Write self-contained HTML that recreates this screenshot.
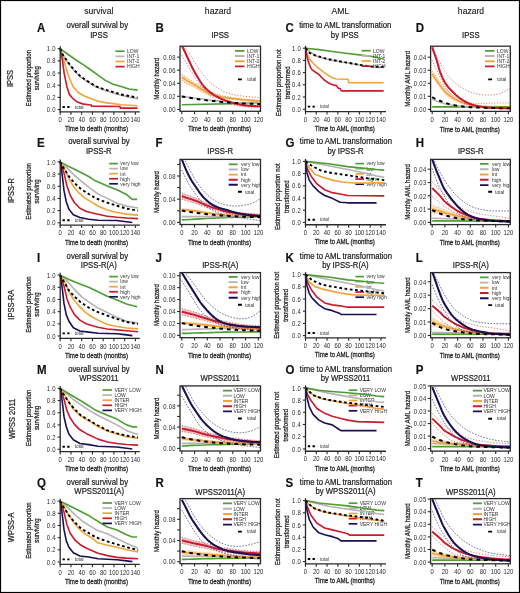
<!DOCTYPE html>
<html><head><meta charset="utf-8"><style>
html,body{margin:0;padding:0;background:#fff;}
svg{display:block;}
text{font-family:"Liberation Sans",sans-serif;}
svg{filter:blur(0.4px);}
text{stroke:currentColor;stroke-width:0.14px;}
</style></head><body>
<svg width="520" height="593" viewBox="0 0 520 593" font-family="Liberation Sans, sans-serif">
<rect x="0" y="0" width="520" height="593" fill="#fff"/>
<text x="98.80" y="14.40" font-size="8.6" text-anchor="middle" fill="#222" style="color:#222">survival</text>
<text x="218.00" y="14.40" font-size="8.6" text-anchor="middle" fill="#222" style="color:#222">hazard</text>
<text x="340.40" y="14.40" font-size="8.6" text-anchor="middle" fill="#222" style="color:#222">AML</text>
<text x="471.00" y="14.40" font-size="8.6" text-anchor="middle" fill="#222" style="color:#222">hazard</text>
<text x="0" y="0" font-size="7.5" text-anchor="middle" fill="#222" style="color:#222;stroke-width:0.2px" transform="translate(13.20 78.55) rotate(-90) scale(1 1.1)">IPSS</text>
<text x="0" y="0" font-size="11.5" text-anchor="start" font-weight="bold" fill="#111" style="color:#111" transform="translate(37.10 31.50) scale(1 1.05)">A</text>
<text x="0" y="0" font-size="11.5" text-anchor="start" font-weight="bold" fill="#111" style="color:#111" transform="translate(155.50 31.50) scale(1 1.05)">B</text>
<text x="0" y="0" font-size="11.5" text-anchor="start" font-weight="bold" fill="#111" style="color:#111" transform="translate(285.60 31.50) scale(1 1.05)">C</text>
<text x="0" y="0" font-size="11.5" text-anchor="start" font-weight="bold" fill="#111" style="color:#111" transform="translate(415.80 31.50) scale(1 1.05)">D</text>
<text x="0" y="0" font-size="7.75" text-anchor="middle" fill="#222" style="color:#222;stroke-width:0.2px" transform="translate(97.30 28.40) scale(1 1.1)">overall survival by</text>
<text x="0" y="0" font-size="7.75" text-anchor="middle" fill="#222" style="color:#222;stroke-width:0.2px" transform="translate(99.00 37.60) scale(1 1.1)">IPSS</text>
<text x="0" y="0" font-size="7.75" text-anchor="middle" fill="#222" style="color:#222;stroke-width:0.2px" transform="translate(345.20 28.40) scale(1 1.1)">time to AML transformation</text>
<text x="0" y="0" font-size="7.75" text-anchor="middle" fill="#222" style="color:#222;stroke-width:0.2px" transform="translate(344.80 37.60) scale(1 1.1)">by IPSS</text>
<text x="0" y="0" font-size="7.75" text-anchor="middle" fill="#222" style="color:#222;stroke-width:0.2px" transform="translate(220.20 37.90) scale(1 1.1)">IPSS</text>
<text x="0" y="0" font-size="7.75" text-anchor="middle" fill="#222" style="color:#222;stroke-width:0.2px" transform="translate(470.80 37.90) scale(1 1.1)">IPSS</text>
<path d="M60.20,48.70 L62.85,54.79 L67.62,62.40 L73.82,70.32 L80.82,77.32 L88.71,82.50 L95.71,86.76 L105.30,90.42 L113.20,93.04 L121.10,95.29 L128.99,97.12 L137.58,98.64" fill="none" stroke="#b4b4b4" stroke-width="1.6099999999999999" stroke-linejoin="round"/>
<path d="M60.20,48.70 L68.15,54.49 L76.42,60.27 L84.31,65.33 L90.94,70.02 L97.99,75.19 L105.30,80.37 L113.20,84.20 L121.10,86.58 L128.99,89.02 L137.58,90.11" fill="none" stroke="#4e9e34" stroke-width="1.6099999999999999" stroke-linejoin="round"/>
<path d="M60.20,48.70 L61.79,52.96 L63.38,58.44 L65.02,64.53 L68.52,75.80 L72.92,86.46 L78.22,92.55 L84.31,96.02 L93.06,99.49 L97.99,101.20 L105.30,102.60 L121.10,104.73 L137.58,105.82" fill="none" stroke="#f2a33a" stroke-width="1.6099999999999999" stroke-linejoin="round"/>
<path d="M60.20,48.70 L61.26,53.57 L62.43,60.27 L64.12,73.06 L66.83,86.46 L69.42,94.38 L72.92,98.64 L77.32,102.11 L82.62,103.88 L88.71,104.73 L91.21,105.03 L91.47,106.13 L120.09,106.55 L120.36,108.08 L137.58,108.08" fill="none" stroke="#cc1a2c" stroke-width="1.6099999999999999" stroke-linejoin="round"/>
<path d="M60.20,48.70 L62.85,54.79 L67.62,61.79 L73.82,69.59 L80.82,76.71 L88.71,81.89 L95.71,86.28 L105.30,89.69 L113.20,92.12 L121.10,94.50 L128.99,96.02 L137.58,97.60" fill="none" stroke="#000" stroke-width="1.9" stroke-linejoin="round" stroke-dasharray="2.7 2.6"/>
<line x1="115.40" y1="51.20" x2="124.60" y2="51.20" stroke="#4e9e34" stroke-width="1.7"/>
<text x="127.00" y="53.00" font-size="5.0" text-anchor="start" fill="#333" style="color:#333;stroke:none">LOW</text>
<line x1="115.40" y1="56.35" x2="124.60" y2="56.35" stroke="#b4b4b4" stroke-width="1.7"/>
<text x="127.00" y="58.15" font-size="5.0" text-anchor="start" fill="#333" style="color:#333;stroke:none">INT-1</text>
<line x1="115.40" y1="61.50" x2="124.60" y2="61.50" stroke="#f2a33a" stroke-width="1.7"/>
<text x="127.00" y="63.30" font-size="5.0" text-anchor="start" fill="#333" style="color:#333;stroke:none">INT-2</text>
<line x1="115.40" y1="66.65" x2="124.60" y2="66.65" stroke="#cc1a2c" stroke-width="1.7"/>
<text x="127.00" y="68.45" font-size="5.0" text-anchor="start" fill="#333" style="color:#333;stroke:none">HIGH</text>
<line x1="60.20" y1="46.26" x2="60.20" y2="112.56" stroke="#2a2a2a" stroke-width="1.3"/>
<line x1="59.60" y1="111.96" x2="139.80" y2="111.96" stroke="#2a2a2a" stroke-width="1.3"/>
<line x1="57.60" y1="109.60" x2="60.20" y2="109.60" stroke="#2a2a2a" stroke-width="1.1"/>
<text x="0" y="0" font-size="5.9" text-anchor="end" fill="#2a2a2a" style="color:#2a2a2a;stroke:none" transform="translate(55.95 112.20) scale(1 1.1)" letter-spacing="0.35">0.0</text>
<line x1="57.60" y1="97.42" x2="60.20" y2="97.42" stroke="#2a2a2a" stroke-width="1.1"/>
<text x="0" y="0" font-size="5.9" text-anchor="end" fill="#2a2a2a" style="color:#2a2a2a;stroke:none" transform="translate(55.95 100.02) scale(1 1.1)" letter-spacing="0.35">0.2</text>
<line x1="57.60" y1="85.24" x2="60.20" y2="85.24" stroke="#2a2a2a" stroke-width="1.1"/>
<text x="0" y="0" font-size="5.9" text-anchor="end" fill="#2a2a2a" style="color:#2a2a2a;stroke:none" transform="translate(55.95 87.84) scale(1 1.1)" letter-spacing="0.35">0.4</text>
<line x1="57.60" y1="73.06" x2="60.20" y2="73.06" stroke="#2a2a2a" stroke-width="1.1"/>
<text x="0" y="0" font-size="5.9" text-anchor="end" fill="#2a2a2a" style="color:#2a2a2a;stroke:none" transform="translate(55.95 75.66) scale(1 1.1)" letter-spacing="0.35">0.6</text>
<line x1="57.60" y1="60.88" x2="60.20" y2="60.88" stroke="#2a2a2a" stroke-width="1.1"/>
<text x="0" y="0" font-size="5.9" text-anchor="end" fill="#2a2a2a" style="color:#2a2a2a;stroke:none" transform="translate(55.95 63.48) scale(1 1.1)" letter-spacing="0.35">0.8</text>
<line x1="57.60" y1="48.70" x2="60.20" y2="48.70" stroke="#2a2a2a" stroke-width="1.1"/>
<text x="0" y="0" font-size="5.9" text-anchor="end" fill="#2a2a2a" style="color:#2a2a2a;stroke:none" transform="translate(55.95 51.30) scale(1 1.1)" letter-spacing="0.35">1.0</text>
<line x1="60.20" y1="111.96" x2="60.20" y2="114.86" stroke="#2a2a2a" stroke-width="1.1"/>
<text x="0" y="0" font-size="5.9" text-anchor="middle" fill="#2a2a2a" style="color:#2a2a2a;stroke:none" transform="translate(60.20 122.16) scale(1 1.1)">0</text>
<line x1="70.94" y1="111.96" x2="70.94" y2="114.86" stroke="#2a2a2a" stroke-width="1.1"/>
<text x="0" y="0" font-size="5.9" text-anchor="middle" fill="#2a2a2a" style="color:#2a2a2a;stroke:none" transform="translate(70.94 122.16) scale(1 1.1)">20</text>
<line x1="81.68" y1="111.96" x2="81.68" y2="114.86" stroke="#2a2a2a" stroke-width="1.1"/>
<text x="0" y="0" font-size="5.9" text-anchor="middle" fill="#2a2a2a" style="color:#2a2a2a;stroke:none" transform="translate(81.68 122.16) scale(1 1.1)">40</text>
<line x1="92.42" y1="111.96" x2="92.42" y2="114.86" stroke="#2a2a2a" stroke-width="1.1"/>
<text x="0" y="0" font-size="5.9" text-anchor="middle" fill="#2a2a2a" style="color:#2a2a2a;stroke:none" transform="translate(92.42 122.16) scale(1 1.1)">60</text>
<line x1="103.16" y1="111.96" x2="103.16" y2="114.86" stroke="#2a2a2a" stroke-width="1.1"/>
<text x="0" y="0" font-size="5.9" text-anchor="middle" fill="#2a2a2a" style="color:#2a2a2a;stroke:none" transform="translate(103.16 122.16) scale(1 1.1)">80</text>
<line x1="113.90" y1="111.96" x2="113.90" y2="114.86" stroke="#2a2a2a" stroke-width="1.1"/>
<text x="0" y="0" font-size="5.9" text-anchor="middle" fill="#2a2a2a" style="color:#2a2a2a;stroke:none" transform="translate(113.90 122.16) scale(1 1.1)">100</text>
<line x1="124.64" y1="111.96" x2="124.64" y2="114.86" stroke="#2a2a2a" stroke-width="1.1"/>
<text x="0" y="0" font-size="5.9" text-anchor="middle" fill="#2a2a2a" style="color:#2a2a2a;stroke:none" transform="translate(124.64 122.16) scale(1 1.1)">120</text>
<line x1="135.38" y1="111.96" x2="135.38" y2="114.86" stroke="#2a2a2a" stroke-width="1.1"/>
<text x="0" y="0" font-size="5.9" text-anchor="middle" fill="#2a2a2a" style="color:#2a2a2a;stroke:none" transform="translate(135.38 122.16) scale(1 1.1)">140</text>
<text x="0" y="0" font-size="6.15" text-anchor="middle" fill="#222" style="color:#222;stroke-width:0.22px" transform="translate(31.30 78.15) rotate(-90) scale(1 1.22)">Estimated proportion</text>
<text x="0" y="0" font-size="6.15" text-anchor="middle" fill="#222" style="color:#222;stroke-width:0.22px" transform="translate(38.80 78.15) rotate(-90) scale(1 1.22)">surviving</text>
<text x="0" y="0" font-size="6.15" text-anchor="middle" fill="#222" style="color:#222;stroke-width:0.22px" transform="translate(96.50 131.40) scale(1 1.22)">Time to death (months)</text>
<line x1="62.50" y1="107.00" x2="72.00" y2="107.00" stroke="#000" stroke-width="1.9" stroke-dasharray="2.4 2.3"/>
<text x="74.80" y="108.60" font-size="4.6" text-anchor="start" fill="#333" style="color:#333;stroke:none">total</text>
<clipPath id="cp20"><rect x="180.0" y="46.2" width="80.5" height="65.1"/></clipPath>
<g clip-path="url(#cp20)">
<path d="M181.80,104.76 L258.30,103.07" fill="none" stroke="#4e9e34" stroke-width="1.62" stroke-linejoin="round"/>
<path d="M181.80,74.14 L182.49,74.64 L183.45,75.35 L184.59,76.18 L185.81,77.06 L187.04,77.93 L188.18,78.71 L189.22,79.39 L190.24,80.04 L191.26,80.67 L192.30,81.30 L193.39,81.94 L194.55,82.63 L195.79,83.35 L197.10,84.10 L198.45,84.87 L199.83,85.65 L201.21,86.43 L202.58,87.20 L203.95,87.98 L205.32,88.78 L206.70,89.59 L208.08,90.37 L209.45,91.10 L210.81,91.77 L212.15,92.36 L213.47,92.91 L214.79,93.40 L216.10,93.86 L217.43,94.29 L218.78,94.71 L220.04,95.09 L221.21,95.42 L222.38,95.73 L223.67,96.03 L225.20,96.33 L227.06,96.67 L229.35,97.04 L231.97,97.44 L234.83,97.85 L237.81,98.25 L240.78,98.62 L243.64,98.95 L246.59,99.24 L249.78,99.51 L252.96,99.75 L255.92,99.96 L258.41,100.13 L260.21,100.26 L260.21,101.89 L258.41,101.76 L255.92,101.59 L252.96,101.38 L249.78,101.14 L246.59,100.90 L243.64,100.65 L240.78,100.39 L237.81,100.10 L234.83,99.80 L231.97,99.51 L229.35,99.22 L227.06,98.95 L225.20,98.72 L223.67,98.51 L222.38,98.32 L221.21,98.12 L220.04,97.90 L218.78,97.65 L217.43,97.37 L216.10,97.09 L214.79,96.79 L213.47,96.46 L212.15,96.10 L210.81,95.69 L209.45,95.24 L208.08,94.77 L206.70,94.26 L205.32,93.70 L203.95,93.09 L202.58,92.42 L201.21,91.63 L199.83,90.73 L198.45,89.77 L197.10,88.82 L195.79,87.94 L194.55,87.20 L193.39,86.63 L192.30,86.18 L191.26,85.81 L190.24,85.46 L189.22,85.07 L188.18,84.59 L187.04,83.96 L185.81,83.23 L184.59,82.46 L183.45,81.73 L182.49,81.11 L181.80,80.67Z" fill="#f2a33a" fill-opacity="0.35" stroke="none"/>
<path d="M181.80,74.14 L182.49,74.64 L183.45,75.35 L184.59,76.18 L185.81,77.06 L187.04,77.93 L188.18,78.71 L189.22,79.39 L190.24,80.04 L191.26,80.67 L192.30,81.30 L193.39,81.94 L194.55,82.63 L195.79,83.35 L197.10,84.10 L198.45,84.87 L199.83,85.65 L201.21,86.43 L202.58,87.20 L203.95,87.98 L205.32,88.78 L206.70,89.59 L208.08,90.37 L209.45,91.10 L210.81,91.77 L212.15,92.36 L213.47,92.91 L214.79,93.40 L216.10,93.86 L217.43,94.29 L218.78,94.71 L220.04,95.09 L221.21,95.42 L222.38,95.73 L223.67,96.03 L225.20,96.33 L227.06,96.67 L229.35,97.04 L231.97,97.44 L234.83,97.85 L237.81,98.25 L240.78,98.62 L243.64,98.95 L246.59,99.24 L249.78,99.51 L252.96,99.75 L255.92,99.96 L258.41,100.13 L260.21,100.26" fill="none" stroke="#d88a3a" stroke-width="0.8" stroke-linejoin="round" stroke-dasharray="1.2 1.5"/>
<path d="M181.80,80.67 L182.49,81.11 L183.45,81.73 L184.59,82.46 L185.81,83.23 L187.04,83.96 L188.18,84.59 L189.22,85.07 L190.24,85.46 L191.26,85.81 L192.30,86.18 L193.39,86.63 L194.55,87.20 L195.79,87.94 L197.10,88.82 L198.45,89.77 L199.83,90.73 L201.21,91.63 L202.58,92.42 L203.95,93.09 L205.32,93.70 L206.70,94.26 L208.08,94.77 L209.45,95.24 L210.81,95.69 L212.15,96.10 L213.47,96.46 L214.79,96.79 L216.10,97.09 L217.43,97.37 L218.78,97.65 L220.04,97.90 L221.21,98.12 L222.38,98.32 L223.67,98.51 L225.20,98.72 L227.06,98.95 L229.35,99.22 L231.97,99.51 L234.83,99.80 L237.81,100.10 L240.78,100.39 L243.64,100.65 L246.59,100.90 L249.78,101.14 L252.96,101.38 L255.92,101.59 L258.41,101.76 L260.21,101.89" fill="none" stroke="#d88a3a" stroke-width="0.8" stroke-linejoin="round" stroke-dasharray="1.2 1.5"/>
<path d="M181.80,96.14 L183.88,96.46 L186.76,96.89 L190.17,97.41 L193.84,97.95 L197.52,98.48 L200.93,98.95 L204.11,99.37 L207.30,99.78 L210.49,100.18 L213.68,100.56 L216.86,100.91 L220.05,101.24 L223.22,101.53 L226.35,101.80 L229.49,102.04 L232.66,102.27 L235.88,102.47 L239.18,102.67 L242.81,102.87 L246.82,103.05 L250.89,103.22 L254.69,103.37 L257.90,103.49 L260.21,103.59" fill="none" stroke="#b4b4b4" stroke-width="1.512" stroke-linejoin="round"/>
<path d="M181.80,77.08 L182.50,77.55 L183.46,78.21 L184.60,78.98 L185.82,79.81 L187.05,80.61 L188.18,81.32 L189.20,81.93 L190.20,82.47 L191.19,83.00 L192.20,83.54 L193.27,84.12 L194.42,84.78 L195.67,85.54 L197.00,86.38 L198.38,87.26 L199.79,88.15 L201.20,89.01 L202.58,89.81 L203.95,90.55 L205.32,91.27 L206.69,91.96 L208.07,92.62 L209.44,93.23 L210.81,93.79 L212.17,94.30 L213.53,94.75 L214.89,95.15 L216.24,95.52 L217.60,95.87 L218.97,96.21 L220.24,96.51 L221.40,96.78 L222.56,97.02 L223.84,97.25 L225.34,97.50 L227.19,97.78 L229.45,98.10 L232.06,98.44 L234.89,98.81 L237.84,99.16 L240.79,99.50 L243.64,99.80 L246.58,100.08 L249.77,100.34 L252.95,100.58 L255.91,100.79 L258.41,100.97 L260.21,101.11" fill="none" stroke="#f2a33a" stroke-width="1.62" stroke-linejoin="round"/>
<path d="M181.80,44.10 L182.50,44.93 L183.46,46.05 L184.60,47.40 L185.82,48.88 L187.05,50.42 L188.18,51.94 L189.20,53.44 L190.20,55.00 L191.19,56.62 L192.20,58.30 L193.27,60.05 L194.42,61.86 L195.67,63.81 L197.00,65.90 L198.38,68.06 L199.79,70.21 L201.20,72.26 L202.58,74.14 L203.95,75.86 L205.32,77.48 L206.69,79.02 L208.07,80.46 L209.44,81.81 L210.81,83.08 L212.17,84.26 L213.53,85.32 L214.89,86.30 L216.24,87.21 L217.60,88.07 L218.97,88.90 L220.33,89.69 L221.71,90.43 L223.08,91.12 L224.45,91.75 L225.82,92.34 L227.19,92.88 L228.55,93.36 L229.91,93.77 L231.27,94.13 L232.63,94.46 L233.99,94.75 L235.35,95.03 L236.61,95.28 L237.75,95.48 L238.90,95.66 L240.16,95.82 L241.66,96.00 L243.51,96.21 L245.99,96.47 L249.06,96.76 L252.37,97.07 L255.57,97.36 L258.30,97.60 L260.21,97.78" fill="none" stroke="#c45456" stroke-width="0.8" stroke-linejoin="round" stroke-dasharray="1.2 1.7"/>
<path d="M181.80,55.20 L182.50,56.42 L183.46,58.10 L184.60,60.10 L185.82,62.24 L187.05,64.36 L188.18,66.30 L189.20,68.07 L190.20,69.80 L191.19,71.52 L192.20,73.23 L193.27,74.97 L194.42,76.75 L195.67,78.61 L197.00,80.55 L198.38,82.50 L199.79,84.43 L201.20,86.27 L202.58,87.98 L203.95,89.57 L205.32,91.07 L206.69,92.49 L208.07,93.82 L209.44,95.07 L210.81,96.21 L212.17,97.25 L213.53,98.18 L214.89,99.02 L216.24,99.78 L217.60,100.47 L218.97,101.11 L220.33,101.67 L221.71,102.13 L223.08,102.54 L224.45,102.89 L225.82,103.24 L227.19,103.59 L228.55,103.94 L229.91,104.28 L231.27,104.61 L232.63,104.92 L233.99,105.21 L235.35,105.48 L236.61,105.74 L237.75,105.99 L238.90,106.21 L240.16,106.42 L241.66,106.61 L243.51,106.79 L245.99,106.94 L249.06,107.08 L252.37,107.20 L255.57,107.30 L258.30,107.38 L260.21,107.44" fill="none" stroke="#c45456" stroke-width="0.8" stroke-linejoin="round" stroke-dasharray="1.2 1.7"/>
<path d="M181.80,46.06 L181.90,46.17 L182.00,46.25 L182.13,46.39 L182.34,46.66 L182.64,47.18 L183.08,48.02 L183.66,49.24 L184.36,50.77 L185.17,52.54 L186.05,54.46 L186.98,56.46 L187.92,58.47 L188.89,60.52 L189.90,62.68 L190.96,64.93 L192.07,67.21 L193.22,69.49 L194.42,71.72 L195.69,73.97 L197.02,76.27 L198.39,78.57 L199.80,80.80 L201.20,82.89 L202.58,84.78 L203.95,86.46 L205.32,87.97 L206.69,89.34 L208.07,90.60 L209.44,91.77 L210.81,92.88 L212.17,93.90 L213.53,94.81 L214.89,95.63 L216.24,96.38 L217.60,97.09 L218.97,97.78 L220.33,98.43 L221.71,99.03 L223.08,99.59 L224.45,100.12 L225.82,100.62 L227.19,101.11 L228.55,101.58 L229.91,102.03 L231.27,102.45 L232.63,102.86 L233.99,103.23 L235.35,103.59 L236.71,103.92 L238.07,104.23 L239.43,104.51 L240.79,104.77 L242.15,105.01 L243.51,105.22 L244.86,105.41 L246.20,105.56 L247.54,105.70 L248.89,105.81 L250.27,105.91 L251.67,106.00 L253.22,106.08 L254.92,106.14 L256.64,106.18 L258.25,106.22 L259.62,106.24 L260.60,106.27" fill="none" stroke="#cc1a2c" stroke-width="2.052" stroke-linejoin="round"/>
<path d="M181.80,96.47 L183.19,96.71 L185.11,97.04 L187.38,97.44 L189.83,97.86 L192.28,98.26 L194.55,98.63 L196.68,98.95 L198.80,99.26 L200.93,99.56 L203.05,99.85 L205.18,100.13 L207.30,100.39 L209.43,100.64 L211.55,100.87 L213.68,101.09 L215.80,101.30 L217.93,101.50 L220.05,101.69 L222.18,101.89 L224.30,102.07 L226.43,102.25 L228.55,102.42 L230.68,102.58 L232.80,102.74 L234.90,102.89 L236.98,103.03 L239.06,103.16 L241.16,103.29 L243.31,103.41 L245.55,103.52 L248.05,103.64 L250.84,103.76 L253.68,103.87 L256.34,103.97 L258.60,104.05 L260.21,104.11" fill="none" stroke="#000" stroke-width="2.0" stroke-linejoin="round" stroke-dasharray="3.6 4.0"/>
</g>
<rect x="180.0" y="46.2" width="80.5" height="65.1" fill="none" stroke="#2a2a2a" stroke-width="1.3"/>
<line x1="177.10" y1="109.40" x2="180.00" y2="109.40" stroke="#2a2a2a" stroke-width="1.1"/>
<text x="0" y="0" font-size="5.9" text-anchor="end" fill="#2a2a2a" style="color:#2a2a2a;stroke:none" transform="translate(175.90 112.10) scale(1 1.1)" letter-spacing="0.3">0.00</text>
<line x1="177.10" y1="96.34" x2="180.00" y2="96.34" stroke="#2a2a2a" stroke-width="1.1"/>
<text x="0" y="0" font-size="5.9" text-anchor="end" fill="#2a2a2a" style="color:#2a2a2a;stroke:none" transform="translate(175.90 99.04) scale(1 1.1)" letter-spacing="0.3">0.02</text>
<line x1="177.10" y1="83.28" x2="180.00" y2="83.28" stroke="#2a2a2a" stroke-width="1.1"/>
<text x="0" y="0" font-size="5.9" text-anchor="end" fill="#2a2a2a" style="color:#2a2a2a;stroke:none" transform="translate(175.90 85.98) scale(1 1.1)" letter-spacing="0.3">0.04</text>
<line x1="177.10" y1="70.22" x2="180.00" y2="70.22" stroke="#2a2a2a" stroke-width="1.1"/>
<text x="0" y="0" font-size="5.9" text-anchor="end" fill="#2a2a2a" style="color:#2a2a2a;stroke:none" transform="translate(175.90 72.92) scale(1 1.1)" letter-spacing="0.3">0.06</text>
<line x1="177.10" y1="57.16" x2="180.00" y2="57.16" stroke="#2a2a2a" stroke-width="1.1"/>
<text x="0" y="0" font-size="5.9" text-anchor="end" fill="#2a2a2a" style="color:#2a2a2a;stroke:none" transform="translate(175.90 59.86) scale(1 1.1)" letter-spacing="0.3">0.08</text>
<line x1="181.80" y1="111.30" x2="181.80" y2="114.20" stroke="#2a2a2a" stroke-width="1.1"/>
<text x="0" y="0" font-size="5.9" text-anchor="middle" fill="#2a2a2a" style="color:#2a2a2a;stroke:none" transform="translate(181.80 121.80) scale(1 1.1)">0</text>
<line x1="194.55" y1="111.30" x2="194.55" y2="114.20" stroke="#2a2a2a" stroke-width="1.1"/>
<text x="0" y="0" font-size="5.9" text-anchor="middle" fill="#2a2a2a" style="color:#2a2a2a;stroke:none" transform="translate(194.55 121.80) scale(1 1.1)">20</text>
<line x1="207.30" y1="111.30" x2="207.30" y2="114.20" stroke="#2a2a2a" stroke-width="1.1"/>
<text x="0" y="0" font-size="5.9" text-anchor="middle" fill="#2a2a2a" style="color:#2a2a2a;stroke:none" transform="translate(207.30 121.80) scale(1 1.1)">40</text>
<line x1="220.05" y1="111.30" x2="220.05" y2="114.20" stroke="#2a2a2a" stroke-width="1.1"/>
<text x="0" y="0" font-size="5.9" text-anchor="middle" fill="#2a2a2a" style="color:#2a2a2a;stroke:none" transform="translate(220.05 121.80) scale(1 1.1)">60</text>
<line x1="232.80" y1="111.30" x2="232.80" y2="114.20" stroke="#2a2a2a" stroke-width="1.1"/>
<text x="0" y="0" font-size="5.9" text-anchor="middle" fill="#2a2a2a" style="color:#2a2a2a;stroke:none" transform="translate(232.80 121.80) scale(1 1.1)">80</text>
<line x1="245.55" y1="111.30" x2="245.55" y2="114.20" stroke="#2a2a2a" stroke-width="1.1"/>
<text x="0" y="0" font-size="5.9" text-anchor="middle" fill="#2a2a2a" style="color:#2a2a2a;stroke:none" transform="translate(245.55 121.80) scale(1 1.1)">100</text>
<line x1="258.30" y1="111.30" x2="258.30" y2="114.20" stroke="#2a2a2a" stroke-width="1.1"/>
<text x="0" y="0" font-size="5.9" text-anchor="middle" fill="#2a2a2a" style="color:#2a2a2a;stroke:none" transform="translate(258.30 121.80) scale(1 1.1)">120</text>
<text x="0" y="0" font-size="6.15" text-anchor="middle" fill="#222" style="color:#222;stroke-width:0.22px" transform="translate(158.80 78.75) rotate(-90) scale(1 1.22)">Monthly hazard</text>
<text x="0" y="0" font-size="6.15" text-anchor="middle" fill="#222" style="color:#222;stroke-width:0.22px" transform="translate(219.50 131.40) scale(1 1.22)">Time to death (months)</text>
<g clip-path="url(#cp20)">
<line x1="235.00" y1="50.90" x2="244.50" y2="50.90" stroke="#4e9e34" stroke-width="1.9"/>
<text x="247.00" y="52.70" font-size="5.0" text-anchor="start" fill="#333" style="color:#333;stroke:none">LOW</text>
<line x1="235.00" y1="56.05" x2="244.50" y2="56.05" stroke="#b4b4b4" stroke-width="1.9"/>
<text x="247.00" y="57.85" font-size="5.0" text-anchor="start" fill="#333" style="color:#333;stroke:none">INT-1</text>
<line x1="235.00" y1="61.20" x2="244.50" y2="61.20" stroke="#f2a33a" stroke-width="1.9"/>
<text x="247.00" y="63.00" font-size="5.0" text-anchor="start" fill="#333" style="color:#333;stroke:none">INT-2</text>
<line x1="235.00" y1="66.35" x2="244.50" y2="66.35" stroke="#cc1a2c" stroke-width="1.9"/>
<text x="247.00" y="68.15" font-size="5.0" text-anchor="start" fill="#333" style="color:#333;stroke:none">HIGH</text>
<line x1="238.00" y1="79.40" x2="241.90" y2="79.40" stroke="#000" stroke-width="1.9"/>
<text x="247.20" y="81.10" font-size="4.8" text-anchor="start" fill="#333" style="color:#333;stroke:none">total</text>
</g>
<path d="M305.50,48.20 L310.89,52.47 L316.28,56.13 L324.37,58.57 L332.45,60.40 L343.23,62.23 L354.01,64.06 L364.79,65.89 L372.88,67.11 L383.65,67.41" fill="none" stroke="#b4b4b4" stroke-width="1.6099999999999999" stroke-linejoin="round"/>
<path d="M305.50,48.20 L318.98,49.60 L332.45,51.56 L347.81,53.51 L359.40,54.91 L370.72,56.31 L380.42,58.33 L383.65,58.57" fill="none" stroke="#4e9e34" stroke-width="1.6099999999999999" stroke-linejoin="round"/>
<path d="M305.50,48.20 L307.66,55.52 L309.81,59.18 L313.05,63.02 L316.28,66.50 L320.86,69.86 L324.37,72.60 L328.57,75.65 L332.45,77.78 L336.22,79.00 L345.93,79.31 L348.08,79.31 L348.62,82.73 L383.65,82.73" fill="none" stroke="#f2a33a" stroke-width="1.6099999999999999" stroke-linejoin="round"/>
<path d="M305.50,48.20 L307.12,57.35 L308.73,62.84 L310.35,67.11 L312.13,69.86 L315.20,71.99 L318.98,74.61 L321.67,77.48 L324.69,80.41 L328.57,82.97 L331.37,84.19 L334.28,85.23 L336.22,85.41 L338.11,88.16 L340.00,88.46 L341.07,90.41 L342.15,90.90 L383.65,90.90" fill="none" stroke="#cc1a2c" stroke-width="1.6099999999999999" stroke-linejoin="round"/>
<path d="M305.50,48.20 L309.81,53.08 L315.09,55.40 L321.67,57.35 L328.57,59.18 L337.84,61.01 L347.81,62.72 L356.70,64.37 L366.95,66.01 L375.57,66.81 L383.65,66.93" fill="none" stroke="#000" stroke-width="1.9" stroke-linejoin="round" stroke-dasharray="2.7 2.6"/>
<line x1="361.50" y1="50.70" x2="370.70" y2="50.70" stroke="#4e9e34" stroke-width="1.7"/>
<text x="373.10" y="52.50" font-size="5.0" text-anchor="start" fill="#333" style="color:#333;stroke:none">LOW</text>
<line x1="361.50" y1="55.85" x2="370.70" y2="55.85" stroke="#b4b4b4" stroke-width="1.7"/>
<text x="373.10" y="57.65" font-size="5.0" text-anchor="start" fill="#333" style="color:#333;stroke:none">INT-1</text>
<line x1="361.50" y1="61.00" x2="370.70" y2="61.00" stroke="#f2a33a" stroke-width="1.7"/>
<text x="373.10" y="62.80" font-size="5.0" text-anchor="start" fill="#333" style="color:#333;stroke:none">INT-2</text>
<line x1="361.50" y1="66.15" x2="370.70" y2="66.15" stroke="#cc1a2c" stroke-width="1.7"/>
<text x="373.10" y="67.95" font-size="5.0" text-anchor="start" fill="#333" style="color:#333;stroke:none">HIGH</text>
<line x1="305.50" y1="45.76" x2="305.50" y2="112.17" stroke="#2a2a2a" stroke-width="1.3"/>
<line x1="304.90" y1="111.57" x2="386.00" y2="111.57" stroke="#2a2a2a" stroke-width="1.3"/>
<line x1="302.90" y1="109.20" x2="305.50" y2="109.20" stroke="#2a2a2a" stroke-width="1.1"/>
<text x="0" y="0" font-size="5.9" text-anchor="end" fill="#2a2a2a" style="color:#2a2a2a;stroke:none" transform="translate(301.25 111.80) scale(1 1.1)" letter-spacing="0.35">0.0</text>
<line x1="302.90" y1="97.00" x2="305.50" y2="97.00" stroke="#2a2a2a" stroke-width="1.1"/>
<text x="0" y="0" font-size="5.9" text-anchor="end" fill="#2a2a2a" style="color:#2a2a2a;stroke:none" transform="translate(301.25 99.60) scale(1 1.1)" letter-spacing="0.35">0.2</text>
<line x1="302.90" y1="84.80" x2="305.50" y2="84.80" stroke="#2a2a2a" stroke-width="1.1"/>
<text x="0" y="0" font-size="5.9" text-anchor="end" fill="#2a2a2a" style="color:#2a2a2a;stroke:none" transform="translate(301.25 87.40) scale(1 1.1)" letter-spacing="0.35">0.4</text>
<line x1="302.90" y1="72.60" x2="305.50" y2="72.60" stroke="#2a2a2a" stroke-width="1.1"/>
<text x="0" y="0" font-size="5.9" text-anchor="end" fill="#2a2a2a" style="color:#2a2a2a;stroke:none" transform="translate(301.25 75.20) scale(1 1.1)" letter-spacing="0.35">0.6</text>
<line x1="302.90" y1="60.40" x2="305.50" y2="60.40" stroke="#2a2a2a" stroke-width="1.1"/>
<text x="0" y="0" font-size="5.9" text-anchor="end" fill="#2a2a2a" style="color:#2a2a2a;stroke:none" transform="translate(301.25 63.00) scale(1 1.1)" letter-spacing="0.35">0.8</text>
<line x1="302.90" y1="48.20" x2="305.50" y2="48.20" stroke="#2a2a2a" stroke-width="1.1"/>
<text x="0" y="0" font-size="5.9" text-anchor="end" fill="#2a2a2a" style="color:#2a2a2a;stroke:none" transform="translate(301.25 50.80) scale(1 1.1)" letter-spacing="0.35">1.0</text>
<line x1="305.50" y1="111.57" x2="305.50" y2="114.47" stroke="#2a2a2a" stroke-width="1.1"/>
<text x="0" y="0" font-size="5.9" text-anchor="middle" fill="#2a2a2a" style="color:#2a2a2a;stroke:none" transform="translate(305.50 121.77) scale(1 1.1)">0</text>
<line x1="316.28" y1="111.57" x2="316.28" y2="114.47" stroke="#2a2a2a" stroke-width="1.1"/>
<text x="0" y="0" font-size="5.9" text-anchor="middle" fill="#2a2a2a" style="color:#2a2a2a;stroke:none" transform="translate(316.28 121.77) scale(1 1.1)">20</text>
<line x1="327.06" y1="111.57" x2="327.06" y2="114.47" stroke="#2a2a2a" stroke-width="1.1"/>
<text x="0" y="0" font-size="5.9" text-anchor="middle" fill="#2a2a2a" style="color:#2a2a2a;stroke:none" transform="translate(327.06 121.77) scale(1 1.1)">40</text>
<line x1="337.84" y1="111.57" x2="337.84" y2="114.47" stroke="#2a2a2a" stroke-width="1.1"/>
<text x="0" y="0" font-size="5.9" text-anchor="middle" fill="#2a2a2a" style="color:#2a2a2a;stroke:none" transform="translate(337.84 121.77) scale(1 1.1)">60</text>
<line x1="348.62" y1="111.57" x2="348.62" y2="114.47" stroke="#2a2a2a" stroke-width="1.1"/>
<text x="0" y="0" font-size="5.9" text-anchor="middle" fill="#2a2a2a" style="color:#2a2a2a;stroke:none" transform="translate(348.62 121.77) scale(1 1.1)">80</text>
<line x1="359.40" y1="111.57" x2="359.40" y2="114.47" stroke="#2a2a2a" stroke-width="1.1"/>
<text x="0" y="0" font-size="5.9" text-anchor="middle" fill="#2a2a2a" style="color:#2a2a2a;stroke:none" transform="translate(359.40 121.77) scale(1 1.1)">100</text>
<line x1="370.18" y1="111.57" x2="370.18" y2="114.47" stroke="#2a2a2a" stroke-width="1.1"/>
<text x="0" y="0" font-size="5.9" text-anchor="middle" fill="#2a2a2a" style="color:#2a2a2a;stroke:none" transform="translate(370.18 121.77) scale(1 1.1)">120</text>
<line x1="380.96" y1="111.57" x2="380.96" y2="114.47" stroke="#2a2a2a" stroke-width="1.1"/>
<text x="0" y="0" font-size="5.9" text-anchor="middle" fill="#2a2a2a" style="color:#2a2a2a;stroke:none" transform="translate(380.96 121.77) scale(1 1.1)">140</text>
<text x="0" y="0" font-size="6.15" text-anchor="middle" fill="#222" style="color:#222;stroke-width:0.22px" transform="translate(281.30 82.80) rotate(-90) scale(1 1.22)">Estimated proportion not</text>
<text x="0" y="0" font-size="6.15" text-anchor="middle" fill="#222" style="color:#222;stroke-width:0.22px" transform="translate(289.80 82.80) rotate(-90) scale(1 1.22)">transformed</text>
<text x="0" y="0" font-size="6.15" text-anchor="middle" fill="#222" style="color:#222;stroke-width:0.22px" transform="translate(344.80 131.00) scale(1 1.22)">Time to AML (months)</text>
<line x1="307.80" y1="106.60" x2="317.30" y2="106.60" stroke="#000" stroke-width="1.9" stroke-dasharray="2.4 2.3"/>
<text x="320.10" y="108.20" font-size="4.6" text-anchor="start" fill="#333" style="color:#333;stroke:none">total</text>
<clipPath id="cp40"><rect x="430.6" y="46.2" width="79.69999999999999" height="65.2"/></clipPath>
<g clip-path="url(#cp40)">
<path d="M432.20,106.92 L510.31,106.92" fill="none" stroke="#4e9e34" stroke-width="1.7280000000000002" stroke-linejoin="round"/>
<path d="M432.20,70.51 L432.66,71.22 L433.26,72.17 L433.99,73.32 L434.82,74.60 L435.76,75.99 L436.77,77.43 L437.91,79.00 L439.19,80.77 L440.57,82.63 L442.00,84.50 L443.41,86.28 L444.77,87.87 L446.07,89.28 L447.35,90.60 L448.62,91.82 L449.90,92.97 L451.19,94.04 L452.52,95.05 L453.89,95.98 L455.30,96.82 L456.72,97.60 L458.15,98.31 L459.57,98.98 L460.97,99.61 L462.33,100.20 L463.67,100.74 L465.01,101.23 L466.34,101.68 L467.68,102.09 L469.03,102.48 L470.30,102.84 L471.46,103.15 L472.63,103.43 L473.91,103.69 L475.43,103.93 L477.28,104.18 L479.56,104.43 L482.18,104.68 L485.02,104.92 L487.99,105.14 L490.95,105.33 L493.79,105.48 L496.74,105.59 L499.91,105.66 L503.08,105.70 L506.02,105.72 L508.51,105.73 L510.31,105.75 L510.31,108.88 L508.51,108.86 L506.02,108.84 L503.08,108.81 L499.91,108.77 L496.74,108.71 L493.79,108.62 L490.95,108.49 L487.99,108.34 L485.02,108.17 L482.18,107.98 L479.56,107.78 L477.28,107.57 L475.43,107.36 L473.91,107.15 L472.63,106.92 L471.46,106.68 L470.30,106.42 L469.03,106.14 L467.68,105.84 L466.34,105.54 L465.01,105.22 L463.67,104.88 L462.33,104.49 L460.97,104.05 L459.57,103.58 L458.15,103.08 L456.72,102.54 L455.30,101.95 L453.89,101.28 L452.52,100.53 L451.19,99.70 L449.90,98.83 L448.62,97.89 L447.35,96.85 L446.07,95.69 L444.77,94.39 L443.41,92.85 L442.00,91.07 L440.57,89.17 L439.19,87.27 L437.91,85.49 L436.77,83.95 L435.76,82.61 L434.82,81.36 L433.99,80.23 L433.26,79.25 L432.66,78.44 L432.20,77.82Z" fill="#f2a33a" fill-opacity="0.3" stroke="none"/>
<path d="M432.20,70.51 L432.66,71.22 L433.26,72.17 L433.99,73.32 L434.82,74.60 L435.76,75.99 L436.77,77.43 L437.91,79.00 L439.19,80.77 L440.57,82.63 L442.00,84.50 L443.41,86.28 L444.77,87.87 L446.07,89.28 L447.35,90.60 L448.62,91.82 L449.90,92.97 L451.19,94.04 L452.52,95.05 L453.89,95.98 L455.30,96.82 L456.72,97.60 L458.15,98.31 L459.57,98.98 L460.97,99.61 L462.33,100.21 L463.67,100.76 L465.01,101.27 L466.34,101.72 L467.68,102.13 L469.03,102.48 L470.30,102.78 L471.46,103.02 L472.63,103.21 L473.91,103.35 L475.43,103.46 L477.28,103.53 L479.56,103.54 L482.18,103.50 L485.02,103.41 L487.99,103.31 L490.95,103.21 L493.79,103.14 L496.74,103.08 L499.91,103.03 L503.08,102.98 L506.02,102.94 L508.51,102.90 L510.31,102.88" fill="none" stroke="#d88a3a" stroke-width="0.8" stroke-linejoin="round" stroke-dasharray="1.2 1.5"/>
<path d="M432.20,99.35 L433.53,99.84 L435.33,100.54 L437.49,101.35 L439.86,102.20 L442.33,103.00 L444.77,103.66 L447.17,104.19 L449.62,104.66 L452.17,105.09 L454.85,105.47 L457.71,105.81 L460.77,106.14 L464.06,106.43 L467.53,106.69 L471.18,106.91 L474.98,107.11 L478.93,107.28 L483.00,107.44 L487.57,107.58 L492.74,107.69 L498.04,107.79 L503.04,107.86 L507.28,107.92 L510.31,107.96" fill="none" stroke="#b4b4b4" stroke-width="1.512" stroke-linejoin="round"/>
<path d="M432.20,73.90 L432.66,74.61 L433.26,75.56 L433.99,76.70 L434.82,77.99 L435.76,79.38 L436.77,80.82 L437.91,82.42 L439.19,84.23 L440.57,86.14 L442.00,88.04 L443.41,89.83 L444.77,91.39 L446.07,92.72 L447.35,93.91 L448.62,94.99 L449.90,95.97 L451.19,96.90 L452.52,97.79 L453.89,98.63 L455.30,99.40 L456.72,100.12 L458.15,100.78 L459.57,101.39 L460.97,101.96 L462.33,102.48 L463.67,102.94 L465.01,103.36 L466.34,103.74 L467.68,104.09 L469.03,104.44 L470.30,104.77 L471.46,105.06 L472.63,105.34 L473.91,105.60 L475.43,105.86 L477.28,106.14 L479.56,106.44 L482.18,106.76 L485.02,107.08 L487.99,107.37 L490.95,107.63 L493.79,107.83 L496.74,107.96 L499.91,108.04 L503.08,108.07 L506.02,108.08 L508.51,108.08 L510.31,108.09" fill="none" stroke="#f2a33a" stroke-width="1.62" stroke-linejoin="round"/>
<path d="M432.20,44.15 L432.44,45.04 L432.71,46.20 L433.06,47.61 L433.54,49.26 L434.21,51.16 L435.12,53.29 L436.36,55.84 L437.91,58.86 L439.65,62.12 L441.45,65.39 L443.20,68.44 L444.77,71.03 L446.17,73.16 L447.47,75.01 L448.72,76.63 L449.96,78.09 L451.21,79.47 L452.52,80.82 L453.89,82.13 L455.30,83.33 L456.72,84.44 L458.15,85.48 L459.57,86.44 L460.97,87.35 L462.33,88.18 L463.67,88.93 L465.01,89.61 L466.34,90.24 L467.68,90.83 L469.03,91.39 L470.39,91.93 L471.77,92.43 L473.15,92.88 L474.53,93.30 L475.91,93.67 L477.28,94.00 L478.66,94.28 L480.05,94.51 L481.43,94.70 L482.81,94.85 L484.18,94.96 L485.54,95.05 L486.89,95.09 L488.23,95.11 L489.56,95.09 L490.89,95.03 L492.22,94.93 L493.54,94.78 L494.85,94.62 L496.14,94.45 L497.42,94.23 L498.72,93.95 L500.05,93.58 L501.41,93.09 L502.94,92.39 L504.63,91.49 L506.35,90.50 L507.96,89.54 L509.33,88.71 L510.31,88.13" fill="none" stroke="#c45456" stroke-width="0.8" stroke-linejoin="round" stroke-dasharray="1.2 1.7"/>
<path d="M432.20,60.33 L432.66,61.35 L433.26,62.70 L433.99,64.33 L434.82,66.17 L435.76,68.17 L436.77,70.25 L437.91,72.55 L439.19,75.15 L440.57,77.90 L442.00,80.66 L443.41,83.29 L444.77,85.65 L446.07,87.76 L447.35,89.75 L448.62,91.61 L449.90,93.33 L451.19,94.92 L452.52,96.35 L453.89,97.61 L455.30,98.68 L456.72,99.61 L458.15,100.44 L459.57,101.21 L460.97,101.96 L462.33,102.68 L463.67,103.32 L465.01,103.91 L466.34,104.44 L467.68,104.92 L469.03,105.35 L470.35,105.73 L471.63,106.04 L472.91,106.29 L474.24,106.51 L475.69,106.72 L477.28,106.92 L478.97,107.12 L480.70,107.30 L482.52,107.46 L484.53,107.60 L486.78,107.73 L489.35,107.83 L492.57,107.92 L496.45,107.98 L500.58,108.02 L504.54,108.05 L507.92,108.07 L510.31,108.09" fill="none" stroke="#c45456" stroke-width="0.8" stroke-linejoin="round" stroke-dasharray="1.2 1.7"/>
<path d="M432.20,47.41 L432.71,48.85 L433.43,50.87 L434.28,53.24 L435.18,55.77 L436.03,58.25 L436.77,60.46 L437.36,62.42 L437.87,64.28 L438.34,66.09 L438.82,67.88 L439.36,69.69 L440.01,71.56 L440.76,73.51 L441.57,75.52 L442.43,77.56 L443.36,79.56 L444.35,81.49 L445.41,83.30 L446.55,84.99 L447.79,86.59 L449.09,88.12 L450.43,89.58 L451.77,90.97 L453.09,92.30 L454.39,93.57 L455.69,94.77 L457.00,95.91 L458.32,96.98 L459.64,98.00 L460.97,98.96 L462.30,99.87 L463.63,100.71 L464.97,101.50 L466.32,102.24 L467.67,102.91 L469.03,103.53 L470.39,104.07 L471.77,104.55 L473.15,104.96 L474.53,105.34 L475.91,105.68 L477.28,106.01 L478.66,106.32 L480.05,106.60 L481.43,106.85 L482.81,107.07 L484.18,107.27 L485.54,107.44 L486.79,107.59 L487.90,107.69 L489.01,107.78 L490.23,107.84 L491.70,107.90 L493.54,107.96 L496.02,108.03 L499.10,108.08 L502.42,108.13 L505.63,108.17 L508.38,108.20 L510.31,108.23" fill="none" stroke="#cc1a2c" stroke-width="2.052" stroke-linejoin="round"/>
<path d="M432.20,97.26 L433.10,97.69 L434.33,98.29 L435.79,98.99 L437.41,99.75 L439.12,100.50 L440.84,101.18 L442.57,101.82 L444.40,102.47 L446.30,103.12 L448.30,103.74 L450.37,104.32 L452.52,104.83 L454.70,105.28 L456.89,105.68 L459.16,106.04 L461.58,106.36 L464.22,106.65 L467.12,106.92 L470.40,107.16 L474.02,107.37 L477.84,107.55 L481.75,107.70 L485.63,107.84 L489.35,107.96 L493.16,108.07 L497.21,108.16 L501.22,108.23 L504.92,108.28 L508.04,108.32 L510.31,108.36" fill="none" stroke="#000" stroke-width="2.0" stroke-linejoin="round" stroke-dasharray="3.6 4.0"/>
</g>
<rect x="430.6" y="46.2" width="79.69999999999999" height="65.2" fill="none" stroke="#2a2a2a" stroke-width="1.3"/>
<line x1="427.70" y1="109.40" x2="430.60" y2="109.40" stroke="#2a2a2a" stroke-width="1.1"/>
<text x="0" y="0" font-size="5.9" text-anchor="end" fill="#2a2a2a" style="color:#2a2a2a;stroke:none" transform="translate(426.50 112.10) scale(1 1.1)" letter-spacing="0.3">0.00</text>
<line x1="427.70" y1="96.35" x2="430.60" y2="96.35" stroke="#2a2a2a" stroke-width="1.1"/>
<text x="0" y="0" font-size="5.9" text-anchor="end" fill="#2a2a2a" style="color:#2a2a2a;stroke:none" transform="translate(426.50 99.05) scale(1 1.1)" letter-spacing="0.3">0.01</text>
<line x1="427.70" y1="83.30" x2="430.60" y2="83.30" stroke="#2a2a2a" stroke-width="1.1"/>
<text x="0" y="0" font-size="5.9" text-anchor="end" fill="#2a2a2a" style="color:#2a2a2a;stroke:none" transform="translate(426.50 86.00) scale(1 1.1)" letter-spacing="0.3">0.02</text>
<line x1="427.70" y1="70.25" x2="430.60" y2="70.25" stroke="#2a2a2a" stroke-width="1.1"/>
<text x="0" y="0" font-size="5.9" text-anchor="end" fill="#2a2a2a" style="color:#2a2a2a;stroke:none" transform="translate(426.50 72.95) scale(1 1.1)" letter-spacing="0.3">0.03</text>
<line x1="427.70" y1="57.20" x2="430.60" y2="57.20" stroke="#2a2a2a" stroke-width="1.1"/>
<text x="0" y="0" font-size="5.9" text-anchor="end" fill="#2a2a2a" style="color:#2a2a2a;stroke:none" transform="translate(426.50 59.90) scale(1 1.1)" letter-spacing="0.3">0.04</text>
<line x1="432.20" y1="111.40" x2="432.20" y2="114.30" stroke="#2a2a2a" stroke-width="1.1"/>
<text x="0" y="0" font-size="5.9" text-anchor="middle" fill="#2a2a2a" style="color:#2a2a2a;stroke:none" transform="translate(432.20 121.90) scale(1 1.1)">0</text>
<line x1="444.90" y1="111.40" x2="444.90" y2="114.30" stroke="#2a2a2a" stroke-width="1.1"/>
<text x="0" y="0" font-size="5.9" text-anchor="middle" fill="#2a2a2a" style="color:#2a2a2a;stroke:none" transform="translate(444.90 121.90) scale(1 1.1)">20</text>
<line x1="457.60" y1="111.40" x2="457.60" y2="114.30" stroke="#2a2a2a" stroke-width="1.1"/>
<text x="0" y="0" font-size="5.9" text-anchor="middle" fill="#2a2a2a" style="color:#2a2a2a;stroke:none" transform="translate(457.60 121.90) scale(1 1.1)">40</text>
<line x1="470.30" y1="111.40" x2="470.30" y2="114.30" stroke="#2a2a2a" stroke-width="1.1"/>
<text x="0" y="0" font-size="5.9" text-anchor="middle" fill="#2a2a2a" style="color:#2a2a2a;stroke:none" transform="translate(470.30 121.90) scale(1 1.1)">60</text>
<line x1="483.00" y1="111.40" x2="483.00" y2="114.30" stroke="#2a2a2a" stroke-width="1.1"/>
<text x="0" y="0" font-size="5.9" text-anchor="middle" fill="#2a2a2a" style="color:#2a2a2a;stroke:none" transform="translate(483.00 121.90) scale(1 1.1)">80</text>
<line x1="495.70" y1="111.40" x2="495.70" y2="114.30" stroke="#2a2a2a" stroke-width="1.1"/>
<text x="0" y="0" font-size="5.9" text-anchor="middle" fill="#2a2a2a" style="color:#2a2a2a;stroke:none" transform="translate(495.70 121.90) scale(1 1.1)">100</text>
<line x1="508.40" y1="111.40" x2="508.40" y2="114.30" stroke="#2a2a2a" stroke-width="1.1"/>
<text x="0" y="0" font-size="5.9" text-anchor="middle" fill="#2a2a2a" style="color:#2a2a2a;stroke:none" transform="translate(508.40 121.90) scale(1 1.1)">120</text>
<text x="0" y="0" font-size="6.15" text-anchor="middle" fill="#222" style="color:#222;stroke-width:0.22px" transform="translate(410.20 78.80) rotate(-90) scale(1 1.22)">Monthly AML hazard</text>
<text x="0" y="0" font-size="6.15" text-anchor="middle" fill="#222" style="color:#222;stroke-width:0.22px" transform="translate(469.80 131.50) scale(1 1.22)">Time to AML (months)</text>
<g clip-path="url(#cp40)">
<line x1="485.00" y1="50.90" x2="494.50" y2="50.90" stroke="#4e9e34" stroke-width="1.9"/>
<text x="497.00" y="52.70" font-size="5.0" text-anchor="start" fill="#333" style="color:#333;stroke:none">LOW</text>
<line x1="485.00" y1="56.05" x2="494.50" y2="56.05" stroke="#b4b4b4" stroke-width="1.9"/>
<text x="497.00" y="57.85" font-size="5.0" text-anchor="start" fill="#333" style="color:#333;stroke:none">INT-1</text>
<line x1="485.00" y1="61.20" x2="494.50" y2="61.20" stroke="#f2a33a" stroke-width="1.9"/>
<text x="497.00" y="63.00" font-size="5.0" text-anchor="start" fill="#333" style="color:#333;stroke:none">INT-2</text>
<line x1="485.00" y1="66.35" x2="494.50" y2="66.35" stroke="#cc1a2c" stroke-width="1.9"/>
<text x="497.00" y="68.15" font-size="5.0" text-anchor="start" fill="#333" style="color:#333;stroke:none">HIGH</text>
<line x1="488.20" y1="79.40" x2="492.10" y2="79.40" stroke="#000" stroke-width="1.9"/>
<text x="497.20" y="81.10" font-size="4.8" text-anchor="start" fill="#333" style="color:#333;stroke:none">total</text>
</g>
<text x="0" y="0" font-size="7.5" text-anchor="middle" fill="#222" style="color:#222;stroke-width:0.2px" transform="translate(14.20 190.50) rotate(-90) scale(1 1.1)">IPSS-R</text>
<text x="0" y="0" font-size="11.5" text-anchor="start" font-weight="bold" fill="#111" style="color:#111" transform="translate(37.10 147.00) scale(1 1.05)">E</text>
<text x="0" y="0" font-size="11.5" text-anchor="start" font-weight="bold" fill="#111" style="color:#111" transform="translate(155.50 147.00) scale(1 1.05)">F</text>
<text x="0" y="0" font-size="11.5" text-anchor="start" font-weight="bold" fill="#111" style="color:#111" transform="translate(285.60 147.00) scale(1 1.05)">G</text>
<text x="0" y="0" font-size="11.5" text-anchor="start" font-weight="bold" fill="#111" style="color:#111" transform="translate(415.80 147.00) scale(1 1.05)">H</text>
<text x="0" y="0" font-size="7.75" text-anchor="middle" fill="#222" style="color:#222;stroke-width:0.2px" transform="translate(98.90 144.30) scale(1 1.1)">overall survival by</text>
<text x="0" y="0" font-size="7.75" text-anchor="middle" fill="#222" style="color:#222;stroke-width:0.2px" transform="translate(98.80 153.50) scale(1 1.1)">IPSS-R</text>
<text x="0" y="0" font-size="7.75" text-anchor="middle" fill="#222" style="color:#222;stroke-width:0.2px" transform="translate(345.90 144.30) scale(1 1.1)">time to AML transformation</text>
<text x="0" y="0" font-size="7.75" text-anchor="middle" fill="#222" style="color:#222;stroke-width:0.2px" transform="translate(345.50 153.50) scale(1 1.1)">by IPSS-R</text>
<text x="0" y="0" font-size="7.75" text-anchor="middle" fill="#222" style="color:#222;stroke-width:0.2px" transform="translate(220.20 153.80) scale(1 1.1)">IPSS-R</text>
<text x="0" y="0" font-size="7.75" text-anchor="middle" fill="#222" style="color:#222;stroke-width:0.2px" transform="translate(470.80 153.80) scale(1 1.1)">IPSS-R</text>
<path d="M60.20,161.90 L66.77,167.69 L74.46,175.36 L82.09,181.94 L89.77,187.97 L97.99,193.99 L107.32,198.38 L116.91,203.19 L126.56,206.11 L138.06,208.00" fill="none" stroke="#b4b4b4" stroke-width="1.6099999999999999" stroke-linejoin="round"/>
<path d="M60.20,161.90 L68.95,166.59 L79.92,172.07 L88.66,176.46 L95.29,180.84 L107.32,185.89 L116.91,189.73 L126.56,194.54 L132.33,199.35 L137.10,199.35" fill="none" stroke="#4e9e34" stroke-width="1.6099999999999999" stroke-linejoin="round"/>
<path d="M60.20,161.90 L61.79,164.34 L64.60,168.78 L68.95,178.65 L73.34,186.32 L78.80,192.90 L85.38,198.38 L90.89,201.67 L97.99,206.05 L107.32,210.01 L116.91,212.45 L126.56,214.15 L138.06,215.13" fill="none" stroke="#f2a33a" stroke-width="1.6099999999999999" stroke-linejoin="round"/>
<path d="M60.20,161.90 L61.79,166.77 L64.02,173.17 L66.77,185.22 L70.06,195.09 L74.46,202.76 L79.92,208.24 L86.49,211.53 L97.99,214.27 L107.32,216.28 L116.91,217.26 L126.56,217.99 L138.06,218.60" fill="none" stroke="#cc1a2c" stroke-width="1.6099999999999999" stroke-linejoin="round"/>
<path d="M60.20,161.90 L61.00,166.16 L62.37,176.46 L64.02,190.71 L66.24,201.67 L68.95,209.34 L73.34,214.82 L79.92,217.56 L88.66,219.21 L97.99,220.30 L116.91,220.49 L124.60,221.46 L132.33,222.43" fill="none" stroke="#1a1058" stroke-width="1.6099999999999999" stroke-linejoin="round"/>
<path d="M60.20,161.90 L62.32,166.16 L65.13,170.43 L68.95,176.46 L74.46,183.03 L81.03,189.06 L88.66,193.99 L95.82,198.38 L107.32,202.70 L116.91,205.75 L126.56,208.67 L138.06,210.62" fill="none" stroke="#000" stroke-width="1.9" stroke-linejoin="round" stroke-dasharray="2.7 2.6"/>
<line x1="109.20" y1="163.60" x2="117.90" y2="163.60" stroke="#4e9e34" stroke-width="1.7"/>
<text x="120.30" y="165.40" font-size="5.0" text-anchor="start" fill="#333" style="color:#333;stroke:none">very low</text>
<line x1="109.20" y1="168.65" x2="117.90" y2="168.65" stroke="#b4b4b4" stroke-width="1.7"/>
<text x="120.30" y="170.45" font-size="5.0" text-anchor="start" fill="#333" style="color:#333;stroke:none">low</text>
<line x1="109.20" y1="173.70" x2="117.90" y2="173.70" stroke="#f2a33a" stroke-width="1.7"/>
<text x="120.30" y="175.50" font-size="5.0" text-anchor="start" fill="#333" style="color:#333;stroke:none">int</text>
<line x1="109.20" y1="178.75" x2="117.90" y2="178.75" stroke="#cc1a2c" stroke-width="1.7"/>
<text x="120.30" y="180.55" font-size="5.0" text-anchor="start" fill="#333" style="color:#333;stroke:none">high</text>
<line x1="109.20" y1="183.80" x2="117.90" y2="183.80" stroke="#1a1058" stroke-width="1.7"/>
<text x="120.30" y="185.60" font-size="5.0" text-anchor="start" fill="#333" style="color:#333;stroke:none">very high</text>
<line x1="60.20" y1="159.46" x2="60.20" y2="225.76" stroke="#2a2a2a" stroke-width="1.3"/>
<line x1="59.60" y1="225.16" x2="139.80" y2="225.16" stroke="#2a2a2a" stroke-width="1.3"/>
<line x1="57.60" y1="222.80" x2="60.20" y2="222.80" stroke="#2a2a2a" stroke-width="1.1"/>
<text x="0" y="0" font-size="5.9" text-anchor="end" fill="#2a2a2a" style="color:#2a2a2a;stroke:none" transform="translate(55.95 225.40) scale(1 1.1)" letter-spacing="0.35">0.0</text>
<line x1="57.60" y1="210.62" x2="60.20" y2="210.62" stroke="#2a2a2a" stroke-width="1.1"/>
<text x="0" y="0" font-size="5.9" text-anchor="end" fill="#2a2a2a" style="color:#2a2a2a;stroke:none" transform="translate(55.95 213.22) scale(1 1.1)" letter-spacing="0.35">0.2</text>
<line x1="57.60" y1="198.44" x2="60.20" y2="198.44" stroke="#2a2a2a" stroke-width="1.1"/>
<text x="0" y="0" font-size="5.9" text-anchor="end" fill="#2a2a2a" style="color:#2a2a2a;stroke:none" transform="translate(55.95 201.04) scale(1 1.1)" letter-spacing="0.35">0.4</text>
<line x1="57.60" y1="186.26" x2="60.20" y2="186.26" stroke="#2a2a2a" stroke-width="1.1"/>
<text x="0" y="0" font-size="5.9" text-anchor="end" fill="#2a2a2a" style="color:#2a2a2a;stroke:none" transform="translate(55.95 188.86) scale(1 1.1)" letter-spacing="0.35">0.6</text>
<line x1="57.60" y1="174.08" x2="60.20" y2="174.08" stroke="#2a2a2a" stroke-width="1.1"/>
<text x="0" y="0" font-size="5.9" text-anchor="end" fill="#2a2a2a" style="color:#2a2a2a;stroke:none" transform="translate(55.95 176.68) scale(1 1.1)" letter-spacing="0.35">0.8</text>
<line x1="57.60" y1="161.90" x2="60.20" y2="161.90" stroke="#2a2a2a" stroke-width="1.1"/>
<text x="0" y="0" font-size="5.9" text-anchor="end" fill="#2a2a2a" style="color:#2a2a2a;stroke:none" transform="translate(55.95 164.50) scale(1 1.1)" letter-spacing="0.35">1.0</text>
<line x1="60.20" y1="225.16" x2="60.20" y2="228.06" stroke="#2a2a2a" stroke-width="1.1"/>
<text x="0" y="0" font-size="5.9" text-anchor="middle" fill="#2a2a2a" style="color:#2a2a2a;stroke:none" transform="translate(60.20 235.36) scale(1 1.1)">0</text>
<line x1="70.94" y1="225.16" x2="70.94" y2="228.06" stroke="#2a2a2a" stroke-width="1.1"/>
<text x="0" y="0" font-size="5.9" text-anchor="middle" fill="#2a2a2a" style="color:#2a2a2a;stroke:none" transform="translate(70.94 235.36) scale(1 1.1)">20</text>
<line x1="81.68" y1="225.16" x2="81.68" y2="228.06" stroke="#2a2a2a" stroke-width="1.1"/>
<text x="0" y="0" font-size="5.9" text-anchor="middle" fill="#2a2a2a" style="color:#2a2a2a;stroke:none" transform="translate(81.68 235.36) scale(1 1.1)">40</text>
<line x1="92.42" y1="225.16" x2="92.42" y2="228.06" stroke="#2a2a2a" stroke-width="1.1"/>
<text x="0" y="0" font-size="5.9" text-anchor="middle" fill="#2a2a2a" style="color:#2a2a2a;stroke:none" transform="translate(92.42 235.36) scale(1 1.1)">60</text>
<line x1="103.16" y1="225.16" x2="103.16" y2="228.06" stroke="#2a2a2a" stroke-width="1.1"/>
<text x="0" y="0" font-size="5.9" text-anchor="middle" fill="#2a2a2a" style="color:#2a2a2a;stroke:none" transform="translate(103.16 235.36) scale(1 1.1)">80</text>
<line x1="113.90" y1="225.16" x2="113.90" y2="228.06" stroke="#2a2a2a" stroke-width="1.1"/>
<text x="0" y="0" font-size="5.9" text-anchor="middle" fill="#2a2a2a" style="color:#2a2a2a;stroke:none" transform="translate(113.90 235.36) scale(1 1.1)">100</text>
<line x1="124.64" y1="225.16" x2="124.64" y2="228.06" stroke="#2a2a2a" stroke-width="1.1"/>
<text x="0" y="0" font-size="5.9" text-anchor="middle" fill="#2a2a2a" style="color:#2a2a2a;stroke:none" transform="translate(124.64 235.36) scale(1 1.1)">120</text>
<line x1="135.38" y1="225.16" x2="135.38" y2="228.06" stroke="#2a2a2a" stroke-width="1.1"/>
<text x="0" y="0" font-size="5.9" text-anchor="middle" fill="#2a2a2a" style="color:#2a2a2a;stroke:none" transform="translate(135.38 235.36) scale(1 1.1)">140</text>
<text x="0" y="0" font-size="6.15" text-anchor="middle" fill="#222" style="color:#222;stroke-width:0.22px" transform="translate(31.30 191.35) rotate(-90) scale(1 1.22)">Estimated proportion</text>
<text x="0" y="0" font-size="6.15" text-anchor="middle" fill="#222" style="color:#222;stroke-width:0.22px" transform="translate(38.80 191.35) rotate(-90) scale(1 1.22)">surviving</text>
<text x="0" y="0" font-size="6.15" text-anchor="middle" fill="#222" style="color:#222;stroke-width:0.22px" transform="translate(96.50 244.60) scale(1 1.22)">Time to death (months)</text>
<line x1="62.50" y1="220.20" x2="72.00" y2="220.20" stroke="#000" stroke-width="1.9" stroke-dasharray="2.4 2.3"/>
<text x="74.80" y="221.80" font-size="4.6" text-anchor="start" fill="#333" style="color:#333;stroke:none">total</text>
<clipPath id="cp21"><rect x="180.0" y="159.4" width="80.5" height="65.1"/></clipPath>
<g clip-path="url(#cp21)">
<path d="M181.80,219.91 L185.09,219.72 L189.75,219.45 L195.22,219.14 L200.91,218.82 L206.25,218.52 L210.68,218.28 L213.93,218.10 L216.43,217.95 L218.58,217.83 L220.80,217.71 L223.49,217.60 L227.06,217.47 L232.04,217.33 L238.19,217.17 L244.82,217.01 L251.22,216.87 L256.69,216.75 L260.53,216.66" fill="none" stroke="#4e9e34" stroke-width="1.62" stroke-linejoin="round"/>
<path d="M181.80,216.66 L260.53,216.31" fill="none" stroke="#b4b4b4" stroke-width="1.62" stroke-linejoin="round"/>
<path d="M181.80,207.90 L183.12,208.04 L184.92,208.21 L187.06,208.43 L189.43,208.68 L191.90,208.98 L194.36,209.30 L196.86,209.69 L199.52,210.15 L202.28,210.65 L205.09,211.15 L207.91,211.63 L210.68,212.05 L213.41,212.41 L216.14,212.75 L218.87,213.06 L221.60,213.34 L224.33,213.60 L227.06,213.83 L229.78,214.04 L232.48,214.22 L235.17,214.37 L237.88,214.50 L240.62,214.62 L243.38,214.73 L246.39,214.82 L249.67,214.91 L252.98,214.97 L256.05,215.03 L258.66,215.07 L260.53,215.11 L260.53,217.28 L258.66,217.25 L256.05,217.21 L252.98,217.17 L249.67,217.11 L246.39,217.05 L243.38,216.97 L240.62,216.88 L237.88,216.78 L235.17,216.67 L232.48,216.55 L229.78,216.40 L227.06,216.23 L224.33,216.04 L221.60,215.83 L218.87,215.60 L216.14,215.35 L213.41,215.07 L210.68,214.77 L207.91,214.43 L205.09,214.04 L202.28,213.63 L199.52,213.22 L196.86,212.85 L194.36,212.53 L191.90,212.26 L189.43,212.02 L187.06,211.81 L184.92,211.64 L183.12,211.49 L181.80,211.38Z" fill="#f2a33a" fill-opacity="0.35" stroke="none"/>
<path d="M181.80,209.64 L183.12,209.76 L184.92,209.93 L187.06,210.12 L189.43,210.35 L191.90,210.62 L194.36,210.92 L196.86,211.27 L199.52,211.69 L202.28,212.14 L205.09,212.60 L207.91,213.03 L210.68,213.41 L213.41,213.74 L216.14,214.05 L218.87,214.33 L221.60,214.59 L224.33,214.82 L227.06,215.03 L229.78,215.22 L232.48,215.38 L235.17,215.52 L237.88,215.64 L240.62,215.75 L243.38,215.85 L246.39,215.93 L249.67,216.01 L252.98,216.07 L256.05,216.12 L258.66,216.16 L260.53,216.19" fill="none" stroke="#f2a33a" stroke-width="1.7280000000000002" stroke-linejoin="round"/>
<path d="M181.80,193.05 L183.22,193.54 L185.22,194.23 L187.57,195.05 L190.03,195.92 L192.37,196.76 L194.36,197.51 L195.97,198.17 L197.40,198.79 L198.71,199.39 L199.96,199.97 L201.21,200.56 L202.52,201.15 L203.88,201.76 L205.24,202.38 L206.60,203.00 L207.96,203.60 L209.32,204.18 L210.68,204.72 L212.04,205.22 L213.40,205.68 L214.75,206.11 L216.11,206.54 L217.48,206.96 L218.84,207.40 L220.11,207.86 L221.28,208.31 L222.44,208.77 L223.72,209.23 L225.22,209.69 L227.06,210.14 L229.30,210.61 L231.87,211.09 L234.66,211.57 L237.58,212.03 L240.52,212.45 L243.38,212.82 L246.39,213.15 L249.67,213.44 L252.98,213.69 L256.05,213.91 L258.66,214.09 L260.53,214.23 L260.53,216.77 L258.66,216.66 L256.05,216.51 L252.98,216.33 L249.67,216.12 L246.39,215.88 L243.38,215.62 L240.52,215.32 L237.58,214.97 L234.66,214.59 L231.87,214.20 L229.30,213.81 L227.06,213.43 L225.22,213.06 L223.72,212.68 L222.44,212.31 L221.28,211.93 L220.11,211.55 L218.84,211.18 L217.48,210.82 L216.11,210.48 L214.75,210.13 L213.40,209.77 L212.04,209.40 L210.68,208.99 L209.32,208.55 L207.96,208.07 L206.60,207.58 L205.24,207.07 L203.88,206.57 L202.52,206.07 L201.21,205.58 L199.96,205.10 L198.71,204.63 L197.40,204.14 L195.97,203.63 L194.36,203.09 L192.37,202.48 L190.03,201.79 L187.57,201.08 L185.22,200.41 L183.22,199.84 L181.80,199.44Z" fill="#cc1a2c" fill-opacity="0.25" stroke="none"/>
<path d="M181.80,193.05 L183.22,193.54 L185.22,194.23 L187.57,195.05 L190.03,195.92 L192.37,196.76 L194.36,197.51 L195.97,198.17 L197.40,198.79 L198.71,199.39 L199.96,199.97 L201.21,200.56 L202.52,201.15 L203.88,201.76 L205.24,202.38 L206.60,203.00 L207.96,203.60 L209.32,204.18 L210.68,204.72 L212.04,205.22 L213.40,205.68 L214.75,206.11 L216.11,206.54 L217.48,206.96 L218.84,207.40 L220.11,207.86 L221.28,208.31 L222.44,208.77 L223.72,209.23 L225.22,209.69 L227.06,210.14 L229.30,210.61 L231.87,211.09 L234.66,211.57 L237.58,212.03 L240.52,212.45 L243.38,212.82 L246.39,213.15 L249.67,213.44 L252.98,213.69 L256.05,213.91 L258.66,214.09 L260.53,214.23" fill="none" stroke="#c45456" stroke-width="0.8" stroke-linejoin="round" stroke-dasharray="1.2 1.7"/>
<path d="M181.80,199.44 L183.22,199.84 L185.22,200.41 L187.57,201.08 L190.03,201.79 L192.37,202.48 L194.36,203.09 L195.97,203.63 L197.40,204.14 L198.71,204.63 L199.96,205.10 L201.21,205.58 L202.52,206.07 L203.88,206.57 L205.24,207.07 L206.60,207.58 L207.96,208.07 L209.32,208.55 L210.68,208.99 L212.04,209.40 L213.40,209.77 L214.75,210.13 L216.11,210.48 L217.48,210.82 L218.84,211.18 L220.11,211.55 L221.28,211.93 L222.44,212.31 L223.72,212.68 L225.22,213.06 L227.06,213.43 L229.30,213.81 L231.87,214.20 L234.66,214.59 L237.58,214.97 L240.52,215.32 L243.38,215.62 L246.39,215.88 L249.67,216.12 L252.98,216.33 L256.05,216.51 L258.66,216.66 L260.53,216.77" fill="none" stroke="#c45456" stroke-width="0.8" stroke-linejoin="round" stroke-dasharray="1.2 1.7"/>
<path d="M181.80,196.24 L183.22,196.69 L185.22,197.32 L187.57,198.07 L190.03,198.85 L192.37,199.62 L194.36,200.30 L195.97,200.90 L197.40,201.46 L198.71,202.01 L199.96,202.54 L201.21,203.07 L202.52,203.61 L203.88,204.16 L205.24,204.73 L206.60,205.29 L207.96,205.84 L209.32,206.36 L210.68,206.86 L212.04,207.31 L213.40,207.73 L214.75,208.12 L216.11,208.51 L217.48,208.89 L218.84,209.29 L220.11,209.70 L221.28,210.12 L222.44,210.54 L223.72,210.96 L225.22,211.37 L227.06,211.79 L229.30,212.21 L231.87,212.65 L234.66,213.08 L237.58,213.50 L240.52,213.88 L243.38,214.22 L246.39,214.52 L249.67,214.78 L252.98,215.01 L256.05,215.21 L258.66,215.37 L260.53,215.50" fill="none" stroke="#cc1a2c" stroke-width="1.9440000000000002" stroke-linejoin="round"/>
<path d="M181.80,155.70 L182.02,155.94 L182.25,156.12 L182.56,156.41 L183.00,156.96 L183.64,157.93 L184.54,159.47 L185.79,161.82 L187.35,164.89 L189.11,168.39 L190.95,171.99 L192.74,175.38 L194.36,178.26 L195.81,180.63 L197.20,182.74 L198.54,184.64 L199.86,186.39 L201.18,188.06 L202.52,189.69 L203.88,191.28 L205.24,192.77 L206.60,194.18 L207.96,195.50 L209.32,196.73 L210.68,197.87 L212.04,198.90 L213.40,199.84 L214.75,200.69 L216.11,201.46 L217.48,202.16 L218.84,202.80 L220.21,203.37 L221.58,203.85 L222.95,204.27 L224.32,204.63 L225.69,204.95 L227.06,205.23 L228.43,205.48 L229.79,205.68 L231.15,205.84 L232.50,205.95 L233.86,206.02 L235.22,206.04 L236.58,206.01 L237.94,205.92 L239.30,205.79 L240.66,205.62 L242.02,205.43 L243.38,205.23 L244.73,205.05 L246.07,204.87 L247.41,204.68 L248.76,204.42 L250.13,204.08 L251.54,203.61 L253.10,202.92 L254.81,202.03 L256.55,201.04 L258.17,200.08 L259.54,199.25 L260.53,198.68" fill="none" stroke="#4a4a7a" stroke-width="0.8" stroke-linejoin="round" stroke-dasharray="1.6 1.4"/>
<path d="M181.80,170.08 L182.68,171.86 L183.86,174.32 L185.27,177.24 L186.86,180.38 L188.55,183.52 L190.28,186.44 L192.15,189.28 L194.23,192.26 L196.42,195.23 L198.60,198.07 L200.67,200.64 L202.52,202.80 L204.02,204.45 L205.24,205.69 L206.34,206.66 L207.50,207.49 L208.89,208.32 L210.68,209.29 L212.93,210.43 L215.53,211.62 L218.36,212.82 L221.30,213.96 L224.24,214.99 L227.06,215.85 L229.78,216.49 L232.48,216.96 L235.17,217.32 L237.88,217.62 L240.62,217.92 L243.38,218.28 L246.39,218.72 L249.67,219.20 L252.98,219.68 L256.05,220.13 L258.66,220.50 L260.53,220.78" fill="none" stroke="#4a4a7a" stroke-width="0.8" stroke-linejoin="round" stroke-dasharray="1.6 1.4"/>
<path d="M181.80,159.18 L182.28,160.40 L182.95,162.11 L183.74,164.12 L184.59,166.25 L185.43,168.30 L186.20,170.08 L186.90,171.62 L187.58,173.07 L188.26,174.44 L188.93,175.76 L189.60,177.02 L190.28,178.26 L190.91,179.39 L191.49,180.39 L192.06,181.34 L192.70,182.33 L193.44,183.46 L194.36,184.82 L195.48,186.49 L196.78,188.41 L198.18,190.48 L199.65,192.55 L201.11,194.52 L202.52,196.24 L203.88,197.74 L205.24,199.12 L206.60,200.39 L207.96,201.55 L209.32,202.62 L210.68,203.61 L212.04,204.49 L213.40,205.27 L214.75,205.95 L216.11,206.56 L217.48,207.12 L218.84,207.67 L220.21,208.17 L221.58,208.60 L222.95,208.98 L224.32,209.35 L225.69,209.71 L227.06,210.10 L228.43,210.53 L229.79,210.96 L231.15,211.40 L232.50,211.83 L233.86,212.23 L235.22,212.60 L236.58,212.92 L237.94,213.22 L239.30,213.49 L240.66,213.74 L242.02,213.98 L243.38,214.22 L244.73,214.46 L246.07,214.69 L247.41,214.92 L248.76,215.13 L250.13,215.32 L251.54,215.50 L253.10,215.66 L254.81,215.80 L256.55,215.93 L258.17,216.04 L259.54,216.12 L260.53,216.19" fill="none" stroke="#1a1058" stroke-width="2.052" stroke-linejoin="round"/>
<path d="M181.80,210.63 L183.12,210.84 L184.92,211.14 L187.06,211.49 L189.43,211.87 L191.90,212.25 L194.36,212.60 L196.86,212.93 L199.52,213.26 L202.28,213.59 L205.09,213.92 L207.91,214.23 L210.68,214.51 L213.41,214.77 L216.14,215.02 L218.87,215.25 L221.60,215.46 L224.33,215.66 L227.06,215.85 L229.78,216.01 L232.48,216.17 L235.17,216.30 L237.88,216.43 L240.62,216.55 L243.38,216.66 L246.39,216.77 L249.67,216.87 L252.98,216.97 L256.05,217.06 L258.66,217.13 L260.53,217.18" fill="none" stroke="#000" stroke-width="2.0" stroke-linejoin="round" stroke-dasharray="3.6 4.0"/>
</g>
<rect x="180.0" y="159.4" width="80.5" height="65.1" fill="none" stroke="#2a2a2a" stroke-width="1.3"/>
<line x1="177.10" y1="222.40" x2="180.00" y2="222.40" stroke="#2a2a2a" stroke-width="1.1"/>
<text x="0" y="0" font-size="5.9" text-anchor="end" fill="#2a2a2a" style="color:#2a2a2a;stroke:none" transform="translate(175.90 225.10) scale(1 1.1)" letter-spacing="0.3">0.00</text>
<line x1="177.10" y1="210.80" x2="180.00" y2="210.80" stroke="#2a2a2a" stroke-width="1.1"/>
<line x1="177.10" y1="199.20" x2="180.00" y2="199.20" stroke="#2a2a2a" stroke-width="1.1"/>
<text x="0" y="0" font-size="5.9" text-anchor="end" fill="#2a2a2a" style="color:#2a2a2a;stroke:none" transform="translate(175.90 201.90) scale(1 1.1)" letter-spacing="0.3">0.04</text>
<line x1="177.10" y1="187.60" x2="180.00" y2="187.60" stroke="#2a2a2a" stroke-width="1.1"/>
<line x1="177.10" y1="176.00" x2="180.00" y2="176.00" stroke="#2a2a2a" stroke-width="1.1"/>
<text x="0" y="0" font-size="5.9" text-anchor="end" fill="#2a2a2a" style="color:#2a2a2a;stroke:none" transform="translate(175.90 178.70) scale(1 1.1)" letter-spacing="0.3">0.08</text>
<line x1="177.10" y1="164.40" x2="180.00" y2="164.40" stroke="#2a2a2a" stroke-width="1.1"/>
<line x1="181.80" y1="224.50" x2="181.80" y2="227.40" stroke="#2a2a2a" stroke-width="1.1"/>
<text x="0" y="0" font-size="5.9" text-anchor="middle" fill="#2a2a2a" style="color:#2a2a2a;stroke:none" transform="translate(181.80 235.00) scale(1 1.1)">0</text>
<line x1="194.55" y1="224.50" x2="194.55" y2="227.40" stroke="#2a2a2a" stroke-width="1.1"/>
<text x="0" y="0" font-size="5.9" text-anchor="middle" fill="#2a2a2a" style="color:#2a2a2a;stroke:none" transform="translate(194.55 235.00) scale(1 1.1)">20</text>
<line x1="207.30" y1="224.50" x2="207.30" y2="227.40" stroke="#2a2a2a" stroke-width="1.1"/>
<text x="0" y="0" font-size="5.9" text-anchor="middle" fill="#2a2a2a" style="color:#2a2a2a;stroke:none" transform="translate(207.30 235.00) scale(1 1.1)">40</text>
<line x1="220.05" y1="224.50" x2="220.05" y2="227.40" stroke="#2a2a2a" stroke-width="1.1"/>
<text x="0" y="0" font-size="5.9" text-anchor="middle" fill="#2a2a2a" style="color:#2a2a2a;stroke:none" transform="translate(220.05 235.00) scale(1 1.1)">60</text>
<line x1="232.80" y1="224.50" x2="232.80" y2="227.40" stroke="#2a2a2a" stroke-width="1.1"/>
<text x="0" y="0" font-size="5.9" text-anchor="middle" fill="#2a2a2a" style="color:#2a2a2a;stroke:none" transform="translate(232.80 235.00) scale(1 1.1)">80</text>
<line x1="245.55" y1="224.50" x2="245.55" y2="227.40" stroke="#2a2a2a" stroke-width="1.1"/>
<text x="0" y="0" font-size="5.9" text-anchor="middle" fill="#2a2a2a" style="color:#2a2a2a;stroke:none" transform="translate(245.55 235.00) scale(1 1.1)">100</text>
<line x1="258.30" y1="224.50" x2="258.30" y2="227.40" stroke="#2a2a2a" stroke-width="1.1"/>
<text x="0" y="0" font-size="5.9" text-anchor="middle" fill="#2a2a2a" style="color:#2a2a2a;stroke:none" transform="translate(258.30 235.00) scale(1 1.1)">120</text>
<text x="0" y="0" font-size="6.15" text-anchor="middle" fill="#222" style="color:#222;stroke-width:0.22px" transform="translate(158.80 191.95) rotate(-90) scale(1 1.22)">Monthly hazard</text>
<text x="0" y="0" font-size="6.15" text-anchor="middle" fill="#222" style="color:#222;stroke-width:0.22px" transform="translate(219.50 244.60) scale(1 1.22)">Time to death (months)</text>
<g clip-path="url(#cp21)">
<line x1="228.70" y1="164.40" x2="237.70" y2="164.40" stroke="#4e9e34" stroke-width="1.9"/>
<text x="241.10" y="166.20" font-size="5.0" text-anchor="start" fill="#333" style="color:#333;stroke:none">very low</text>
<line x1="228.70" y1="169.50" x2="237.70" y2="169.50" stroke="#b4b4b4" stroke-width="1.9"/>
<text x="241.10" y="171.30" font-size="5.0" text-anchor="start" fill="#333" style="color:#333;stroke:none">low</text>
<line x1="228.70" y1="174.60" x2="237.70" y2="174.60" stroke="#f2a33a" stroke-width="1.9"/>
<text x="241.10" y="176.40" font-size="5.0" text-anchor="start" fill="#333" style="color:#333;stroke:none">int</text>
<line x1="228.70" y1="179.70" x2="237.70" y2="179.70" stroke="#cc1a2c" stroke-width="1.9"/>
<text x="241.10" y="181.50" font-size="5.0" text-anchor="start" fill="#333" style="color:#333;stroke:none">high</text>
<line x1="228.70" y1="184.80" x2="237.70" y2="184.80" stroke="#1a1058" stroke-width="1.9"/>
<text x="241.10" y="186.60" font-size="5.0" text-anchor="start" fill="#333" style="color:#333;stroke:none">very high</text>
<line x1="238.00" y1="191.80" x2="241.90" y2="191.80" stroke="#000" stroke-width="1.9"/>
<text x="245.10" y="193.50" font-size="4.8" text-anchor="start" fill="#333" style="color:#333;stroke:none">total</text>
</g>
<line x1="355.40" y1="163.60" x2="364.00" y2="163.60" stroke="#4e9e34" stroke-width="1.7"/>
<text x="366.40" y="165.40" font-size="5.0" text-anchor="start" fill="#333" style="color:#333;stroke:none">very low</text>
<line x1="355.40" y1="168.75" x2="364.00" y2="168.75" stroke="#b4b4b4" stroke-width="1.7"/>
<text x="366.40" y="170.55" font-size="5.0" text-anchor="start" fill="#333" style="color:#333;stroke:none">low</text>
<line x1="355.40" y1="173.90" x2="364.00" y2="173.90" stroke="#f2a33a" stroke-width="1.7"/>
<text x="366.40" y="175.70" font-size="5.0" text-anchor="start" fill="#333" style="color:#333;stroke:none">int</text>
<line x1="355.40" y1="179.05" x2="364.00" y2="179.05" stroke="#cc1a2c" stroke-width="1.7"/>
<text x="366.40" y="180.85" font-size="5.0" text-anchor="start" fill="#333" style="color:#333;stroke:none">high</text>
<line x1="355.40" y1="184.20" x2="364.00" y2="184.20" stroke="#1a1058" stroke-width="1.7"/>
<text x="366.40" y="186.00" font-size="5.0" text-anchor="start" fill="#333" style="color:#333;stroke:none">very high</text>
<path d="M305.50,161.40 L328.46,165.67 L347.70,169.57 L357.30,171.47 L366.95,173.42 L376.54,175.92 L384.25,177.26" fill="none" stroke="#b4b4b4" stroke-width="1.6099999999999999" stroke-linejoin="round"/>
<path d="M305.50,161.40 L328.46,163.78 L347.70,166.65 L366.95,168.60 L376.54,169.57 L384.25,170.12" fill="none" stroke="#4e9e34" stroke-width="1.6099999999999999" stroke-linejoin="round"/>
<path d="M305.50,161.40 L309.22,167.62 L314.99,174.33 L322.69,177.26 L332.29,180.13 L341.94,182.02 L353.47,182.99 L366.95,182.99 L384.25,182.44" fill="none" stroke="#f2a33a" stroke-width="1.6099999999999999" stroke-linejoin="round"/>
<path d="M305.50,161.40 L307.33,168.60 L311.16,176.28 L316.93,183.97 L324.63,189.76 L332.29,192.63 L340.00,193.97 L347.70,195.50 L384.25,195.87" fill="none" stroke="#cc1a2c" stroke-width="1.6099999999999999" stroke-linejoin="round"/>
<path d="M305.50,161.40 L306.90,172.44 L309.22,180.13 L313.10,185.92 L318.87,191.66 L324.63,195.50 L332.29,198.37 L340.00,202.21 L347.70,202.82 L376.54,202.82" fill="none" stroke="#1a1058" stroke-width="1.6099999999999999" stroke-linejoin="round"/>
<path d="M305.50,161.40 L313.10,166.65 L320.75,170.49 L328.46,172.44 L347.70,175.31 L366.95,178.18 L384.25,180.13" fill="none" stroke="#000" stroke-width="1.9" stroke-linejoin="round" stroke-dasharray="2.7 2.6"/>
<line x1="305.50" y1="158.96" x2="305.50" y2="225.37" stroke="#2a2a2a" stroke-width="1.3"/>
<line x1="304.90" y1="224.77" x2="386.00" y2="224.77" stroke="#2a2a2a" stroke-width="1.3"/>
<line x1="302.90" y1="222.40" x2="305.50" y2="222.40" stroke="#2a2a2a" stroke-width="1.1"/>
<text x="0" y="0" font-size="5.9" text-anchor="end" fill="#2a2a2a" style="color:#2a2a2a;stroke:none" transform="translate(301.25 225.00) scale(1 1.1)" letter-spacing="0.35">0.0</text>
<line x1="302.90" y1="210.20" x2="305.50" y2="210.20" stroke="#2a2a2a" stroke-width="1.1"/>
<text x="0" y="0" font-size="5.9" text-anchor="end" fill="#2a2a2a" style="color:#2a2a2a;stroke:none" transform="translate(301.25 212.80) scale(1 1.1)" letter-spacing="0.35">0.2</text>
<line x1="302.90" y1="198.00" x2="305.50" y2="198.00" stroke="#2a2a2a" stroke-width="1.1"/>
<text x="0" y="0" font-size="5.9" text-anchor="end" fill="#2a2a2a" style="color:#2a2a2a;stroke:none" transform="translate(301.25 200.60) scale(1 1.1)" letter-spacing="0.35">0.4</text>
<line x1="302.90" y1="185.80" x2="305.50" y2="185.80" stroke="#2a2a2a" stroke-width="1.1"/>
<text x="0" y="0" font-size="5.9" text-anchor="end" fill="#2a2a2a" style="color:#2a2a2a;stroke:none" transform="translate(301.25 188.40) scale(1 1.1)" letter-spacing="0.35">0.6</text>
<line x1="302.90" y1="173.60" x2="305.50" y2="173.60" stroke="#2a2a2a" stroke-width="1.1"/>
<text x="0" y="0" font-size="5.9" text-anchor="end" fill="#2a2a2a" style="color:#2a2a2a;stroke:none" transform="translate(301.25 176.20) scale(1 1.1)" letter-spacing="0.35">0.8</text>
<line x1="302.90" y1="161.40" x2="305.50" y2="161.40" stroke="#2a2a2a" stroke-width="1.1"/>
<text x="0" y="0" font-size="5.9" text-anchor="end" fill="#2a2a2a" style="color:#2a2a2a;stroke:none" transform="translate(301.25 164.00) scale(1 1.1)" letter-spacing="0.35">1.0</text>
<line x1="305.50" y1="224.77" x2="305.50" y2="227.67" stroke="#2a2a2a" stroke-width="1.1"/>
<text x="0" y="0" font-size="5.9" text-anchor="middle" fill="#2a2a2a" style="color:#2a2a2a;stroke:none" transform="translate(305.50 234.97) scale(1 1.1)">0</text>
<line x1="316.28" y1="224.77" x2="316.28" y2="227.67" stroke="#2a2a2a" stroke-width="1.1"/>
<text x="0" y="0" font-size="5.9" text-anchor="middle" fill="#2a2a2a" style="color:#2a2a2a;stroke:none" transform="translate(316.28 234.97) scale(1 1.1)">20</text>
<line x1="327.06" y1="224.77" x2="327.06" y2="227.67" stroke="#2a2a2a" stroke-width="1.1"/>
<text x="0" y="0" font-size="5.9" text-anchor="middle" fill="#2a2a2a" style="color:#2a2a2a;stroke:none" transform="translate(327.06 234.97) scale(1 1.1)">40</text>
<line x1="337.84" y1="224.77" x2="337.84" y2="227.67" stroke="#2a2a2a" stroke-width="1.1"/>
<text x="0" y="0" font-size="5.9" text-anchor="middle" fill="#2a2a2a" style="color:#2a2a2a;stroke:none" transform="translate(337.84 234.97) scale(1 1.1)">60</text>
<line x1="348.62" y1="224.77" x2="348.62" y2="227.67" stroke="#2a2a2a" stroke-width="1.1"/>
<text x="0" y="0" font-size="5.9" text-anchor="middle" fill="#2a2a2a" style="color:#2a2a2a;stroke:none" transform="translate(348.62 234.97) scale(1 1.1)">80</text>
<line x1="359.40" y1="224.77" x2="359.40" y2="227.67" stroke="#2a2a2a" stroke-width="1.1"/>
<text x="0" y="0" font-size="5.9" text-anchor="middle" fill="#2a2a2a" style="color:#2a2a2a;stroke:none" transform="translate(359.40 234.97) scale(1 1.1)">100</text>
<line x1="370.18" y1="224.77" x2="370.18" y2="227.67" stroke="#2a2a2a" stroke-width="1.1"/>
<text x="0" y="0" font-size="5.9" text-anchor="middle" fill="#2a2a2a" style="color:#2a2a2a;stroke:none" transform="translate(370.18 234.97) scale(1 1.1)">120</text>
<line x1="380.96" y1="224.77" x2="380.96" y2="227.67" stroke="#2a2a2a" stroke-width="1.1"/>
<text x="0" y="0" font-size="5.9" text-anchor="middle" fill="#2a2a2a" style="color:#2a2a2a;stroke:none" transform="translate(380.96 234.97) scale(1 1.1)">140</text>
<text x="0" y="0" font-size="6.15" text-anchor="middle" fill="#222" style="color:#222;stroke-width:0.22px" transform="translate(280.00 196.70) rotate(-90) scale(1 1.22)">Estimated proportion not</text>
<text x="0" y="0" font-size="6.15" text-anchor="middle" fill="#222" style="color:#222;stroke-width:0.22px" transform="translate(288.50 196.70) rotate(-90) scale(1 1.22)">transformed</text>
<text x="0" y="0" font-size="6.15" text-anchor="middle" fill="#222" style="color:#222;stroke-width:0.22px" transform="translate(344.80 244.20) scale(1 1.22)">Time to AML (months)</text>
<line x1="307.80" y1="219.80" x2="317.30" y2="219.80" stroke="#000" stroke-width="1.9" stroke-dasharray="2.4 2.3"/>
<text x="320.10" y="221.40" font-size="4.6" text-anchor="start" fill="#333" style="color:#333;stroke:none">total</text>
<clipPath id="cp41"><rect x="430.6" y="159.4" width="79.69999999999999" height="65.20000000000002"/></clipPath>
<g clip-path="url(#cp41)">
<path d="M432.20,220.80 L510.56,221.20" fill="none" stroke="#4e9e34" stroke-width="1.7280000000000002" stroke-linejoin="round"/>
<path d="M432.20,218.28 L510.56,220.80" fill="none" stroke="#b4b4b4" stroke-width="1.512" stroke-linejoin="round"/>
<path d="M432.20,204.41 L433.47,204.90 L435.19,205.59 L437.24,206.40 L439.52,207.29 L441.92,208.20 L444.33,209.07 L446.81,209.95 L449.48,210.89 L452.26,211.85 L455.10,212.79 L457.94,213.66 L460.71,214.43 L463.43,215.10 L466.15,215.69 L468.87,216.22 L471.59,216.69 L474.31,217.13 L477.03,217.55 L479.75,217.92 L482.46,218.26 L485.17,218.55 L487.89,218.81 L490.64,219.05 L493.41,219.27 L496.43,219.48 L499.71,219.66 L503.01,219.81 L506.09,219.95 L508.68,220.05 L510.56,220.14 L510.56,221.74 L508.68,221.69 L506.09,221.63 L503.01,221.56 L499.71,221.48 L496.43,221.38 L493.41,221.27 L490.64,221.15 L487.89,221.02 L485.17,220.88 L482.46,220.72 L479.75,220.54 L477.03,220.34 L474.31,220.12 L471.59,219.88 L468.87,219.62 L466.15,219.34 L463.43,219.02 L460.71,218.66 L457.94,218.25 L455.10,217.78 L452.26,217.27 L449.48,216.76 L446.81,216.25 L444.33,215.78 L441.92,215.31 L439.52,214.82 L437.24,214.34 L435.19,213.90 L433.47,213.53 L432.20,213.26Z" fill="#f2a33a" fill-opacity="0.35" stroke="none"/>
<path d="M432.20,208.97 L433.47,209.35 L435.19,209.88 L437.24,210.50 L439.52,211.19 L441.92,211.89 L444.33,212.56 L446.81,213.23 L449.48,213.96 L452.26,214.69 L455.10,215.42 L457.94,216.09 L460.71,216.68 L463.43,217.19 L466.15,217.65 L468.87,218.05 L471.59,218.42 L474.31,218.76 L477.03,219.08 L479.75,219.37 L482.46,219.62 L485.17,219.85 L487.89,220.05 L490.64,220.23 L493.41,220.41 L496.43,220.56 L499.71,220.70 L503.01,220.82 L506.09,220.92 L508.68,221.01 L510.56,221.07" fill="none" stroke="#f2a33a" stroke-width="1.7280000000000002" stroke-linejoin="round"/>
<path d="M432.20,181.57 L433.47,182.99 L435.19,184.95 L437.24,187.27 L439.52,189.78 L441.92,192.28 L444.33,194.60 L446.81,196.86 L449.48,199.22 L452.26,201.58 L455.10,203.83 L457.94,205.89 L460.71,207.64 L463.43,209.05 L466.15,210.20 L468.87,211.15 L471.59,211.96 L474.31,212.67 L477.03,213.36 L479.75,213.96 L482.46,214.44 L485.17,214.83 L487.89,215.17 L490.64,215.51 L493.41,215.88 L496.43,216.32 L499.71,216.78 L503.01,217.24 L506.09,217.66 L508.68,218.02 L510.56,218.28" fill="none" stroke="#c45456" stroke-width="0.8" stroke-linejoin="round" stroke-dasharray="1.2 1.7"/>
<path d="M432.20,196.66 L433.12,197.35 L434.44,198.33 L435.98,199.48 L437.57,200.67 L439.06,201.80 L440.26,202.75 L441.13,203.49 L441.76,204.11 L442.29,204.67 L442.82,205.21 L443.46,205.78 L444.33,206.44 L445.45,207.20 L446.75,208.02 L448.17,208.88 L449.64,209.74 L451.11,210.57 L452.52,211.33 L453.89,212.03 L455.25,212.69 L456.62,213.32 L457.99,213.92 L459.35,214.49 L460.71,215.02 L462.07,215.51 L463.42,215.96 L464.78,216.38 L466.13,216.78 L467.48,217.15 L468.84,217.51 L470.11,217.85 L471.26,218.17 L472.42,218.47 L473.69,218.75 L475.19,219.03 L477.03,219.31 L479.28,219.60 L481.86,219.90 L484.66,220.19 L487.59,220.46 L490.54,220.70 L493.41,220.90 L496.43,221.06 L499.71,221.17 L503.01,221.25 L506.09,221.31 L508.68,221.36 L510.56,221.40" fill="none" stroke="#c45456" stroke-width="0.8" stroke-linejoin="round" stroke-dasharray="1.2 1.7"/>
<path d="M432.20,188.09 L433.12,189.01 L434.44,190.31 L435.98,191.83 L437.57,193.43 L439.06,194.94 L440.26,196.20 L441.13,197.19 L441.76,198.02 L442.29,198.76 L442.82,199.48 L443.46,200.24 L444.33,201.12 L445.45,202.13 L446.75,203.23 L448.17,204.38 L449.64,205.52 L451.11,206.62 L452.52,207.64 L453.89,208.57 L455.25,209.45 L456.62,210.30 L457.99,211.09 L459.35,211.85 L460.71,212.56 L462.07,213.22 L463.42,213.82 L464.78,214.38 L466.13,214.90 L467.48,215.40 L468.84,215.88 L470.11,216.34 L471.26,216.76 L472.42,217.15 L473.69,217.53 L475.19,217.90 L477.03,218.28 L479.28,218.66 L481.86,219.06 L484.66,219.45 L487.59,219.81 L490.54,220.14 L493.41,220.41 L496.43,220.61 L499.71,220.76 L503.01,220.87 L506.09,220.95 L508.68,221.01 L510.56,221.07" fill="none" stroke="#cc1a2c" stroke-width="1.9440000000000002" stroke-linejoin="round"/>
<path d="M432.20,155.90 L432.37,156.41 L432.53,157.01 L432.76,157.77 L433.13,158.78 L433.70,160.13 L434.55,161.88 L435.77,164.26 L437.32,167.22 L439.07,170.52 L440.91,173.89 L442.70,177.09 L444.33,179.84 L445.79,182.16 L447.18,184.25 L448.52,186.17 L449.85,187.94 L451.17,189.63 L452.52,191.28 L453.89,192.87 L455.25,194.36 L456.62,195.76 L457.99,197.08 L459.35,198.33 L460.71,199.52 L462.07,200.65 L463.42,201.71 L464.78,202.70 L466.13,203.62 L467.48,204.47 L468.84,205.24 L470.20,205.94 L471.57,206.55 L472.93,207.09 L474.30,207.57 L475.67,208.02 L477.03,208.44 L478.40,208.82 L479.76,209.15 L481.13,209.45 L482.49,209.71 L483.86,209.95 L485.22,210.16 L486.48,210.36 L487.62,210.53 L488.76,210.67 L490.02,210.79 L491.53,210.89 L493.41,210.96 L495.95,211.01 L499.10,211.02 L502.50,211.01 L505.78,210.99 L508.59,210.97 L510.56,210.96" fill="none" stroke="#4a4a7a" stroke-width="0.8" stroke-linejoin="round" stroke-dasharray="1.6 1.4"/>
<path d="M432.20,168.40 L433.03,170.65 L434.14,173.78 L435.47,177.47 L436.97,181.43 L438.58,185.33 L440.26,188.88 L442.02,192.20 L443.89,195.56 L445.88,198.88 L447.98,202.05 L450.19,205.00 L452.52,207.64 L454.71,209.96 L456.72,212.04 L458.84,213.90 L461.37,215.54 L464.60,217.00 L468.84,218.28 L474.81,219.34 L482.41,220.17 L490.72,220.80 L498.80,221.29 L505.73,221.68 L510.56,222.00" fill="none" stroke="#4a4a7a" stroke-width="0.8" stroke-linejoin="round" stroke-dasharray="1.6 1.4"/>
<path d="M432.20,159.22 L432.63,160.43 L433.23,162.10 L433.95,164.07 L434.71,166.18 L435.48,168.26 L436.20,170.13 L436.87,171.83 L437.55,173.48 L438.23,175.10 L438.91,176.70 L439.59,178.27 L440.26,179.84 L440.89,181.36 L441.47,182.82 L442.04,184.25 L442.67,185.72 L443.41,187.25 L444.33,188.88 L445.45,190.68 L446.75,192.61 L448.17,194.60 L449.64,196.60 L451.11,198.53 L452.52,200.32 L453.89,202.01 L455.25,203.64 L456.62,205.20 L457.99,206.69 L459.35,208.08 L460.71,209.37 L462.07,210.54 L463.42,211.61 L464.78,212.59 L466.13,213.49 L467.48,214.32 L468.84,215.09 L470.20,215.78 L471.57,216.40 L472.93,216.94 L474.30,217.42 L475.67,217.87 L477.03,218.28 L478.40,218.64 L479.76,218.95 L481.13,219.22 L482.49,219.45 L483.86,219.66 L485.22,219.87 L486.48,220.07 L487.62,220.24 L488.76,220.39 L490.02,220.53 L491.53,220.66 L493.41,220.80 L495.95,220.95 L499.10,221.11 L502.50,221.26 L505.78,221.40 L508.59,221.52 L510.56,221.60" fill="none" stroke="#1a1058" stroke-width="2.052" stroke-linejoin="round"/>
<path d="M432.20,210.16 L433.47,210.71 L435.19,211.48 L437.24,212.39 L439.52,213.35 L441.92,214.28 L444.33,215.09 L446.81,215.80 L449.48,216.49 L452.26,217.15 L455.10,217.77 L457.94,218.33 L460.71,218.81 L463.24,219.20 L465.52,219.51 L467.80,219.76 L470.32,219.98 L473.32,220.19 L477.03,220.41 L482.01,220.64 L488.17,220.88 L494.81,221.10 L501.23,221.31 L506.71,221.48 L510.56,221.60" fill="none" stroke="#000" stroke-width="2.0" stroke-linejoin="round" stroke-dasharray="3.6 4.0"/>
</g>
<rect x="430.6" y="159.4" width="79.69999999999999" height="65.20000000000002" fill="none" stroke="#2a2a2a" stroke-width="1.3"/>
<line x1="427.70" y1="222.40" x2="430.60" y2="222.40" stroke="#2a2a2a" stroke-width="1.1"/>
<text x="0" y="0" font-size="5.9" text-anchor="end" fill="#2a2a2a" style="color:#2a2a2a;stroke:none" transform="translate(426.50 225.10) scale(1 1.1)" letter-spacing="0.3">0.00</text>
<line x1="427.70" y1="209.10" x2="430.60" y2="209.10" stroke="#2a2a2a" stroke-width="1.1"/>
<text x="0" y="0" font-size="5.9" text-anchor="end" fill="#2a2a2a" style="color:#2a2a2a;stroke:none" transform="translate(426.50 211.80) scale(1 1.1)" letter-spacing="0.3">0.01</text>
<line x1="427.70" y1="195.80" x2="430.60" y2="195.80" stroke="#2a2a2a" stroke-width="1.1"/>
<text x="0" y="0" font-size="5.9" text-anchor="end" fill="#2a2a2a" style="color:#2a2a2a;stroke:none" transform="translate(426.50 198.50) scale(1 1.1)" letter-spacing="0.3">0.02</text>
<line x1="427.70" y1="182.50" x2="430.60" y2="182.50" stroke="#2a2a2a" stroke-width="1.1"/>
<text x="0" y="0" font-size="5.9" text-anchor="end" fill="#2a2a2a" style="color:#2a2a2a;stroke:none" transform="translate(426.50 185.20) scale(1 1.1)" letter-spacing="0.3">0.03</text>
<line x1="427.70" y1="169.20" x2="430.60" y2="169.20" stroke="#2a2a2a" stroke-width="1.1"/>
<text x="0" y="0" font-size="5.9" text-anchor="end" fill="#2a2a2a" style="color:#2a2a2a;stroke:none" transform="translate(426.50 171.90) scale(1 1.1)" letter-spacing="0.3">0.04</text>
<line x1="432.20" y1="224.60" x2="432.20" y2="227.50" stroke="#2a2a2a" stroke-width="1.1"/>
<text x="0" y="0" font-size="5.9" text-anchor="middle" fill="#2a2a2a" style="color:#2a2a2a;stroke:none" transform="translate(432.20 235.10) scale(1 1.1)">0</text>
<line x1="444.90" y1="224.60" x2="444.90" y2="227.50" stroke="#2a2a2a" stroke-width="1.1"/>
<text x="0" y="0" font-size="5.9" text-anchor="middle" fill="#2a2a2a" style="color:#2a2a2a;stroke:none" transform="translate(444.90 235.10) scale(1 1.1)">20</text>
<line x1="457.60" y1="224.60" x2="457.60" y2="227.50" stroke="#2a2a2a" stroke-width="1.1"/>
<text x="0" y="0" font-size="5.9" text-anchor="middle" fill="#2a2a2a" style="color:#2a2a2a;stroke:none" transform="translate(457.60 235.10) scale(1 1.1)">40</text>
<line x1="470.30" y1="224.60" x2="470.30" y2="227.50" stroke="#2a2a2a" stroke-width="1.1"/>
<text x="0" y="0" font-size="5.9" text-anchor="middle" fill="#2a2a2a" style="color:#2a2a2a;stroke:none" transform="translate(470.30 235.10) scale(1 1.1)">60</text>
<line x1="483.00" y1="224.60" x2="483.00" y2="227.50" stroke="#2a2a2a" stroke-width="1.1"/>
<text x="0" y="0" font-size="5.9" text-anchor="middle" fill="#2a2a2a" style="color:#2a2a2a;stroke:none" transform="translate(483.00 235.10) scale(1 1.1)">80</text>
<line x1="495.70" y1="224.60" x2="495.70" y2="227.50" stroke="#2a2a2a" stroke-width="1.1"/>
<text x="0" y="0" font-size="5.9" text-anchor="middle" fill="#2a2a2a" style="color:#2a2a2a;stroke:none" transform="translate(495.70 235.10) scale(1 1.1)">100</text>
<line x1="508.40" y1="224.60" x2="508.40" y2="227.50" stroke="#2a2a2a" stroke-width="1.1"/>
<text x="0" y="0" font-size="5.9" text-anchor="middle" fill="#2a2a2a" style="color:#2a2a2a;stroke:none" transform="translate(508.40 235.10) scale(1 1.1)">120</text>
<text x="0" y="0" font-size="6.15" text-anchor="middle" fill="#222" style="color:#222;stroke-width:0.22px" transform="translate(410.20 192.00) rotate(-90) scale(1 1.22)">Monthly AML hazard</text>
<text x="0" y="0" font-size="6.15" text-anchor="middle" fill="#222" style="color:#222;stroke-width:0.22px" transform="translate(469.80 244.70) scale(1 1.22)">Time to AML (months)</text>
<g clip-path="url(#cp41)">
<line x1="480.00" y1="163.90" x2="488.50" y2="163.90" stroke="#4e9e34" stroke-width="1.9"/>
<text x="491.90" y="165.70" font-size="5.0" text-anchor="start" fill="#333" style="color:#333;stroke:none">very low</text>
<line x1="480.00" y1="169.20" x2="488.50" y2="169.20" stroke="#b4b4b4" stroke-width="1.9"/>
<text x="491.90" y="171.00" font-size="5.0" text-anchor="start" fill="#333" style="color:#333;stroke:none">low</text>
<line x1="480.00" y1="174.50" x2="488.50" y2="174.50" stroke="#f2a33a" stroke-width="1.9"/>
<text x="491.90" y="176.30" font-size="5.0" text-anchor="start" fill="#333" style="color:#333;stroke:none">int</text>
<line x1="480.00" y1="179.80" x2="488.50" y2="179.80" stroke="#cc1a2c" stroke-width="1.9"/>
<text x="491.90" y="181.60" font-size="5.0" text-anchor="start" fill="#333" style="color:#333;stroke:none">high</text>
<line x1="480.00" y1="185.10" x2="488.50" y2="185.10" stroke="#1a1058" stroke-width="1.9"/>
<text x="491.90" y="186.90" font-size="5.0" text-anchor="start" fill="#333" style="color:#333;stroke:none">very high</text>
<line x1="488.20" y1="191.80" x2="492.10" y2="191.80" stroke="#000" stroke-width="1.9"/>
<text x="495.10" y="193.50" font-size="4.8" text-anchor="start" fill="#333" style="color:#333;stroke:none">total</text>
</g>
<text x="0" y="0" font-size="7.5" text-anchor="middle" fill="#222" style="color:#222;stroke-width:0.2px" transform="translate(14.20 304.70) rotate(-90) scale(1 1.1)">IPSS-RA</text>
<text x="0" y="0" font-size="11.5" text-anchor="start" font-weight="bold" fill="#111" style="color:#111" transform="translate(37.10 261.50) scale(1 1.05)">I</text>
<text x="0" y="0" font-size="11.5" text-anchor="start" font-weight="bold" fill="#111" style="color:#111" transform="translate(155.50 261.50) scale(1 1.05)">J</text>
<text x="0" y="0" font-size="11.5" text-anchor="start" font-weight="bold" fill="#111" style="color:#111" transform="translate(285.60 261.50) scale(1 1.05)">K</text>
<text x="0" y="0" font-size="11.5" text-anchor="start" font-weight="bold" fill="#111" style="color:#111" transform="translate(415.80 261.50) scale(1 1.05)">L</text>
<text x="0" y="0" font-size="7.75" text-anchor="middle" fill="#222" style="color:#222;stroke-width:0.2px" transform="translate(97.30 258.80) scale(1 1.1)">overall survival by</text>
<text x="0" y="0" font-size="7.75" text-anchor="middle" fill="#222" style="color:#222;stroke-width:0.2px" transform="translate(98.80 268.00) scale(1 1.1)">IPSS-R(A)</text>
<text x="0" y="0" font-size="7.75" text-anchor="middle" fill="#222" style="color:#222;stroke-width:0.2px" transform="translate(345.90 258.80) scale(1 1.1)">time to AML transformation</text>
<text x="0" y="0" font-size="7.75" text-anchor="middle" fill="#222" style="color:#222;stroke-width:0.2px" transform="translate(345.50 268.00) scale(1 1.1)">by IPSS-R(A)</text>
<text x="0" y="0" font-size="7.75" text-anchor="middle" fill="#222" style="color:#222;stroke-width:0.2px" transform="translate(220.20 268.30) scale(1 1.1)">IPSS-R(A)</text>
<text x="0" y="0" font-size="7.75" text-anchor="middle" fill="#222" style="color:#222;stroke-width:0.2px" transform="translate(470.80 268.30) scale(1 1.1)">IPSS-R(A)</text>
<path d="M60.20,275.10 L66.77,280.64 L74.46,289.41 L82.09,297.08 L89.77,302.57 L97.99,308.05 L107.32,312.55 L116.91,317.36 L126.56,321.20 L138.06,323.15" fill="none" stroke="#b4b4b4" stroke-width="1.6099999999999999" stroke-linejoin="round"/>
<path d="M60.20,275.10 L68.95,279.55 L79.92,283.93 L88.66,287.22 L95.29,290.51 L107.32,296.23 L116.91,300.07 L126.56,303.91 L137.10,306.77" fill="none" stroke="#4e9e34" stroke-width="1.6099999999999999" stroke-linejoin="round"/>
<path d="M60.20,275.10 L61.79,277.54 L64.60,281.74 L68.95,291.60 L73.34,299.28 L78.80,305.85 L85.38,312.43 L90.89,316.27 L97.99,320.11 L107.32,324.43 L116.91,326.56 L126.56,327.96 L138.06,328.87" fill="none" stroke="#f2a33a" stroke-width="1.6099999999999999" stroke-linejoin="round"/>
<path d="M60.20,275.10 L61.79,279.97 L64.02,286.12 L66.77,298.18 L70.06,306.95 L74.46,314.62 L79.92,320.11 L86.49,323.94 L97.99,327.23 L107.32,329.00 L116.91,329.85 L126.56,330.82 L138.06,331.80" fill="none" stroke="#cc1a2c" stroke-width="1.6099999999999999" stroke-linejoin="round"/>
<path d="M60.20,275.10 L61.00,279.36 L62.37,289.41 L64.02,303.66 L66.24,314.62 L68.95,321.20 L73.34,327.78 L79.92,331.07 L88.66,332.16 L97.99,333.26 L116.91,333.69 L124.60,334.66 L132.33,335.63" fill="none" stroke="#1a1058" stroke-width="1.6099999999999999" stroke-linejoin="round"/>
<path d="M60.20,275.10 L62.32,279.36 L65.13,283.38 L68.95,290.51 L74.46,296.54 L81.03,302.57 L88.66,307.50 L95.82,311.34 L107.32,315.60 L116.91,318.95 L126.56,321.99 L138.06,324.06" fill="none" stroke="#000" stroke-width="1.9" stroke-linejoin="round" stroke-dasharray="2.7 2.6"/>
<line x1="109.20" y1="276.60" x2="117.90" y2="276.60" stroke="#4e9e34" stroke-width="1.7"/>
<text x="120.30" y="278.40" font-size="5.0" text-anchor="start" fill="#333" style="color:#333;stroke:none">very low</text>
<line x1="109.20" y1="281.65" x2="117.90" y2="281.65" stroke="#b4b4b4" stroke-width="1.7"/>
<text x="120.30" y="283.45" font-size="5.0" text-anchor="start" fill="#333" style="color:#333;stroke:none">low</text>
<line x1="109.20" y1="286.70" x2="117.90" y2="286.70" stroke="#f2a33a" stroke-width="1.7"/>
<text x="120.30" y="288.50" font-size="5.0" text-anchor="start" fill="#333" style="color:#333;stroke:none">int</text>
<line x1="109.20" y1="291.75" x2="117.90" y2="291.75" stroke="#cc1a2c" stroke-width="1.7"/>
<text x="120.30" y="293.55" font-size="5.0" text-anchor="start" fill="#333" style="color:#333;stroke:none">high</text>
<line x1="109.20" y1="296.80" x2="117.90" y2="296.80" stroke="#1a1058" stroke-width="1.7"/>
<text x="120.30" y="298.60" font-size="5.0" text-anchor="start" fill="#333" style="color:#333;stroke:none">very high</text>
<line x1="60.20" y1="272.66" x2="60.20" y2="338.96" stroke="#2a2a2a" stroke-width="1.3"/>
<line x1="59.60" y1="338.36" x2="139.80" y2="338.36" stroke="#2a2a2a" stroke-width="1.3"/>
<line x1="57.60" y1="336.00" x2="60.20" y2="336.00" stroke="#2a2a2a" stroke-width="1.1"/>
<text x="0" y="0" font-size="5.9" text-anchor="end" fill="#2a2a2a" style="color:#2a2a2a;stroke:none" transform="translate(55.95 338.60) scale(1 1.1)" letter-spacing="0.35">0.0</text>
<line x1="57.60" y1="323.82" x2="60.20" y2="323.82" stroke="#2a2a2a" stroke-width="1.1"/>
<text x="0" y="0" font-size="5.9" text-anchor="end" fill="#2a2a2a" style="color:#2a2a2a;stroke:none" transform="translate(55.95 326.42) scale(1 1.1)" letter-spacing="0.35">0.2</text>
<line x1="57.60" y1="311.64" x2="60.20" y2="311.64" stroke="#2a2a2a" stroke-width="1.1"/>
<text x="0" y="0" font-size="5.9" text-anchor="end" fill="#2a2a2a" style="color:#2a2a2a;stroke:none" transform="translate(55.95 314.24) scale(1 1.1)" letter-spacing="0.35">0.4</text>
<line x1="57.60" y1="299.46" x2="60.20" y2="299.46" stroke="#2a2a2a" stroke-width="1.1"/>
<text x="0" y="0" font-size="5.9" text-anchor="end" fill="#2a2a2a" style="color:#2a2a2a;stroke:none" transform="translate(55.95 302.06) scale(1 1.1)" letter-spacing="0.35">0.6</text>
<line x1="57.60" y1="287.28" x2="60.20" y2="287.28" stroke="#2a2a2a" stroke-width="1.1"/>
<text x="0" y="0" font-size="5.9" text-anchor="end" fill="#2a2a2a" style="color:#2a2a2a;stroke:none" transform="translate(55.95 289.88) scale(1 1.1)" letter-spacing="0.35">0.8</text>
<line x1="57.60" y1="275.10" x2="60.20" y2="275.10" stroke="#2a2a2a" stroke-width="1.1"/>
<text x="0" y="0" font-size="5.9" text-anchor="end" fill="#2a2a2a" style="color:#2a2a2a;stroke:none" transform="translate(55.95 277.70) scale(1 1.1)" letter-spacing="0.35">1.0</text>
<line x1="60.20" y1="338.36" x2="60.20" y2="341.26" stroke="#2a2a2a" stroke-width="1.1"/>
<text x="0" y="0" font-size="5.9" text-anchor="middle" fill="#2a2a2a" style="color:#2a2a2a;stroke:none" transform="translate(60.20 348.56) scale(1 1.1)">0</text>
<line x1="70.94" y1="338.36" x2="70.94" y2="341.26" stroke="#2a2a2a" stroke-width="1.1"/>
<text x="0" y="0" font-size="5.9" text-anchor="middle" fill="#2a2a2a" style="color:#2a2a2a;stroke:none" transform="translate(70.94 348.56) scale(1 1.1)">20</text>
<line x1="81.68" y1="338.36" x2="81.68" y2="341.26" stroke="#2a2a2a" stroke-width="1.1"/>
<text x="0" y="0" font-size="5.9" text-anchor="middle" fill="#2a2a2a" style="color:#2a2a2a;stroke:none" transform="translate(81.68 348.56) scale(1 1.1)">40</text>
<line x1="92.42" y1="338.36" x2="92.42" y2="341.26" stroke="#2a2a2a" stroke-width="1.1"/>
<text x="0" y="0" font-size="5.9" text-anchor="middle" fill="#2a2a2a" style="color:#2a2a2a;stroke:none" transform="translate(92.42 348.56) scale(1 1.1)">60</text>
<line x1="103.16" y1="338.36" x2="103.16" y2="341.26" stroke="#2a2a2a" stroke-width="1.1"/>
<text x="0" y="0" font-size="5.9" text-anchor="middle" fill="#2a2a2a" style="color:#2a2a2a;stroke:none" transform="translate(103.16 348.56) scale(1 1.1)">80</text>
<line x1="113.90" y1="338.36" x2="113.90" y2="341.26" stroke="#2a2a2a" stroke-width="1.1"/>
<text x="0" y="0" font-size="5.9" text-anchor="middle" fill="#2a2a2a" style="color:#2a2a2a;stroke:none" transform="translate(113.90 348.56) scale(1 1.1)">100</text>
<line x1="124.64" y1="338.36" x2="124.64" y2="341.26" stroke="#2a2a2a" stroke-width="1.1"/>
<text x="0" y="0" font-size="5.9" text-anchor="middle" fill="#2a2a2a" style="color:#2a2a2a;stroke:none" transform="translate(124.64 348.56) scale(1 1.1)">120</text>
<line x1="135.38" y1="338.36" x2="135.38" y2="341.26" stroke="#2a2a2a" stroke-width="1.1"/>
<text x="0" y="0" font-size="5.9" text-anchor="middle" fill="#2a2a2a" style="color:#2a2a2a;stroke:none" transform="translate(135.38 348.56) scale(1 1.1)">140</text>
<text x="0" y="0" font-size="6.15" text-anchor="middle" fill="#222" style="color:#222;stroke-width:0.22px" transform="translate(31.30 304.55) rotate(-90) scale(1 1.22)">Estimated proportion</text>
<text x="0" y="0" font-size="6.15" text-anchor="middle" fill="#222" style="color:#222;stroke-width:0.22px" transform="translate(38.80 304.55) rotate(-90) scale(1 1.22)">surviving</text>
<text x="0" y="0" font-size="6.15" text-anchor="middle" fill="#222" style="color:#222;stroke-width:0.22px" transform="translate(96.50 357.80) scale(1 1.22)">Time to death (months)</text>
<line x1="62.50" y1="333.40" x2="72.00" y2="333.40" stroke="#000" stroke-width="1.9" stroke-dasharray="2.4 2.3"/>
<text x="74.80" y="335.00" font-size="4.6" text-anchor="start" fill="#333" style="color:#333;stroke:none">total</text>
<clipPath id="cp22"><rect x="180.0" y="272.6" width="80.5" height="65.09999999999997"/></clipPath>
<g clip-path="url(#cp22)">
<path d="M181.80,333.43 L185.09,333.33 L189.75,333.20 L195.22,333.04 L200.91,332.88 L206.25,332.72 L210.68,332.59 L213.93,332.49 L216.43,332.40 L218.58,332.32 L220.80,332.25 L223.49,332.18 L227.06,332.12 L232.04,332.05 L238.19,331.99 L244.82,331.94 L251.22,331.89 L256.69,331.85 L260.53,331.82" fill="none" stroke="#4e9e34" stroke-width="1.62" stroke-linejoin="round"/>
<path d="M181.80,329.67 L184.70,329.58 L188.51,329.45 L193.12,329.30 L198.43,329.14 L204.32,328.98 L210.68,328.83 L218.35,328.69 L227.59,328.54 L237.41,328.39 L246.83,328.26 L254.86,328.14 L260.53,328.06" fill="none" stroke="#b4b4b4" stroke-width="1.62" stroke-linejoin="round"/>
<path d="M181.80,321.39 L183.12,321.48 L184.92,321.60 L187.06,321.74 L189.43,321.91 L191.90,322.10 L194.36,322.31 L196.86,322.56 L199.52,322.84 L202.28,323.14 L205.09,323.46 L207.91,323.78 L210.68,324.09 L213.41,324.39 L216.14,324.71 L218.87,325.03 L221.60,325.34 L224.33,325.64 L227.06,325.93 L229.78,326.20 L232.48,326.46 L235.17,326.72 L237.88,326.96 L240.62,327.18 L243.38,327.37 L246.39,327.54 L249.67,327.69 L252.98,327.82 L256.05,327.93 L258.66,328.02 L260.53,328.09 L260.53,330.29 L258.66,330.23 L256.05,330.16 L252.98,330.07 L249.67,329.96 L246.39,329.84 L243.38,329.70 L240.62,329.54 L237.88,329.36 L235.17,329.16 L232.48,328.96 L229.78,328.74 L227.06,328.52 L224.33,328.28 L221.60,328.04 L218.87,327.78 L216.14,327.52 L213.41,327.26 L210.68,327.01 L207.91,326.76 L205.09,326.50 L202.28,326.24 L199.52,325.99 L196.86,325.76 L194.36,325.56 L191.90,325.39 L189.43,325.23 L187.06,325.09 L184.92,324.98 L183.12,324.88 L181.80,324.81Z" fill="#f2a33a" fill-opacity="0.35" stroke="none"/>
<path d="M181.80,323.10 L183.12,323.18 L184.92,323.29 L187.06,323.42 L189.43,323.57 L191.90,323.74 L194.36,323.94 L196.86,324.16 L199.52,324.42 L202.28,324.69 L205.09,324.98 L207.91,325.27 L210.68,325.55 L213.41,325.83 L216.14,326.12 L218.87,326.40 L221.60,326.69 L224.33,326.96 L227.06,327.22 L229.78,327.47 L232.48,327.71 L235.17,327.94 L237.88,328.16 L240.62,328.36 L243.38,328.53 L246.39,328.69 L249.67,328.83 L252.98,328.94 L256.05,329.05 L258.66,329.13 L260.53,329.19" fill="none" stroke="#f2a33a" stroke-width="1.7280000000000002" stroke-linejoin="round"/>
<path d="M181.80,308.43 L183.22,308.83 L185.22,309.38 L187.57,310.03 L190.03,310.72 L192.37,311.39 L194.36,311.98 L195.97,312.49 L197.40,312.96 L198.71,313.41 L199.96,313.85 L201.21,314.29 L202.52,314.74 L203.88,315.19 L205.24,315.65 L206.60,316.11 L207.96,316.56 L209.32,317.01 L210.68,317.43 L212.04,317.84 L213.40,318.23 L214.75,318.61 L216.11,318.99 L217.48,319.36 L218.84,319.73 L220.11,320.09 L221.28,320.44 L222.44,320.79 L223.72,321.14 L225.22,321.51 L227.06,321.90 L229.30,322.33 L231.87,322.81 L234.66,323.30 L237.58,323.78 L240.52,324.22 L243.38,324.59 L246.39,324.89 L249.67,325.16 L252.98,325.38 L256.05,325.57 L258.66,325.72 L260.53,325.84 L260.53,329.20 L258.66,329.11 L256.05,328.98 L252.98,328.83 L249.67,328.65 L246.39,328.43 L243.38,328.18 L240.52,327.88 L237.58,327.52 L234.66,327.13 L231.87,326.73 L229.30,326.34 L227.06,325.98 L225.22,325.66 L223.72,325.36 L222.44,325.07 L221.28,324.79 L220.11,324.50 L218.84,324.21 L217.48,323.90 L216.11,323.60 L214.75,323.29 L213.40,322.98 L212.04,322.66 L210.68,322.33 L209.32,321.98 L207.96,321.62 L206.60,321.25 L205.24,320.87 L203.88,320.50 L202.52,320.12 L201.21,319.76 L199.96,319.40 L198.71,319.04 L197.40,318.67 L195.97,318.28 L194.36,317.87 L192.37,317.39 L190.03,316.84 L187.57,316.27 L185.22,315.74 L183.22,315.29 L181.80,314.96Z" fill="#cc1a2c" fill-opacity="0.25" stroke="none"/>
<path d="M181.80,308.43 L183.22,308.83 L185.22,309.38 L187.57,310.03 L190.03,310.72 L192.37,311.39 L194.36,311.98 L195.97,312.49 L197.40,312.96 L198.71,313.41 L199.96,313.85 L201.21,314.29 L202.52,314.74 L203.88,315.19 L205.24,315.65 L206.60,316.11 L207.96,316.56 L209.32,317.01 L210.68,317.43 L212.04,317.84 L213.40,318.23 L214.75,318.61 L216.11,318.99 L217.48,319.36 L218.84,319.73 L220.11,320.09 L221.28,320.44 L222.44,320.79 L223.72,321.14 L225.22,321.51 L227.06,321.90 L229.30,322.33 L231.87,322.81 L234.66,323.30 L237.58,323.78 L240.52,324.22 L243.38,324.59 L246.39,324.89 L249.67,325.16 L252.98,325.38 L256.05,325.57 L258.66,325.72 L260.53,325.84" fill="none" stroke="#c45456" stroke-width="0.8" stroke-linejoin="round" stroke-dasharray="1.2 1.7"/>
<path d="M181.80,314.96 L183.22,315.29 L185.22,315.74 L187.57,316.27 L190.03,316.84 L192.37,317.39 L194.36,317.87 L195.97,318.28 L197.40,318.67 L198.71,319.04 L199.96,319.40 L201.21,319.76 L202.52,320.12 L203.88,320.50 L205.24,320.87 L206.60,321.25 L207.96,321.62 L209.32,321.98 L210.68,322.33 L212.04,322.66 L213.40,322.98 L214.75,323.29 L216.11,323.60 L217.48,323.90 L218.84,324.21 L220.11,324.50 L221.28,324.79 L222.44,325.07 L223.72,325.36 L225.22,325.66 L227.06,325.98 L229.30,326.34 L231.87,326.73 L234.66,327.13 L237.58,327.52 L240.52,327.88 L243.38,328.18 L246.39,328.43 L249.67,328.65 L252.98,328.83 L256.05,328.98 L258.66,329.11 L260.53,329.20" fill="none" stroke="#c45456" stroke-width="0.8" stroke-linejoin="round" stroke-dasharray="1.2 1.7"/>
<path d="M181.80,311.70 L183.22,312.06 L185.22,312.56 L187.57,313.15 L190.03,313.78 L192.37,314.39 L194.36,314.92 L195.97,315.38 L197.40,315.81 L198.71,316.23 L199.96,316.63 L201.21,317.02 L202.52,317.43 L203.88,317.85 L205.24,318.26 L206.60,318.68 L207.96,319.09 L209.32,319.49 L210.68,319.88 L212.04,320.25 L213.40,320.61 L214.75,320.95 L216.11,321.29 L217.48,321.63 L218.84,321.97 L220.11,322.30 L221.28,322.62 L222.44,322.93 L223.72,323.25 L225.22,323.58 L227.06,323.94 L229.30,324.33 L231.87,324.77 L234.66,325.21 L237.58,325.65 L240.52,326.05 L243.38,326.39 L246.39,326.66 L249.67,326.90 L252.98,327.11 L256.05,327.27 L258.66,327.41 L260.53,327.52" fill="none" stroke="#cc1a2c" stroke-width="1.9440000000000002" stroke-linejoin="round"/>
<path d="M181.80,269.73 L182.13,270.02 L182.52,270.35 L183.02,270.77 L183.65,271.36 L184.42,272.16 L185.37,273.25 L186.56,274.70 L188.00,276.48 L189.58,278.49 L191.22,280.60 L192.85,282.71 L194.36,284.71 L195.77,286.65 L197.14,288.63 L198.49,290.60 L199.83,292.54 L201.17,294.41 L202.52,296.18 L203.88,297.84 L205.24,299.44 L206.60,300.96 L207.96,302.42 L209.32,303.81 L210.68,305.13 L212.04,306.39 L213.40,307.59 L214.75,308.72 L216.11,309.78 L217.48,310.78 L218.84,311.70 L220.21,312.54 L221.58,313.30 L222.95,313.99 L224.32,314.62 L225.69,315.20 L227.06,315.76 L228.43,316.28 L229.79,316.77 L231.15,317.21 L232.50,317.60 L233.86,317.93 L235.22,318.21 L236.58,318.43 L237.94,318.61 L239.30,318.73 L240.66,318.79 L242.02,318.78 L243.38,318.68 L244.73,318.53 L246.07,318.31 L247.41,318.03 L248.76,317.66 L250.13,317.18 L251.54,316.59 L253.10,315.78 L254.81,314.74 L256.55,313.60 L258.17,312.48 L259.54,311.53 L260.53,310.86" fill="none" stroke="#4a4a7a" stroke-width="0.8" stroke-linejoin="round" stroke-dasharray="1.6 1.4"/>
<path d="M181.80,280.60 L182.73,282.12 L184.01,284.23 L185.53,286.73 L187.16,289.42 L188.79,292.07 L190.28,294.51 L191.66,296.78 L193.02,299.08 L194.38,301.35 L195.73,303.55 L197.08,305.65 L198.44,307.58 L199.75,309.34 L201.01,310.95 L202.26,312.45 L203.58,313.86 L205.00,315.24 L206.60,316.59 L208.35,317.95 L210.22,319.29 L212.20,320.57 L214.30,321.79 L216.51,322.92 L218.84,323.94 L221.23,324.82 L223.66,325.58 L226.21,326.25 L228.95,326.87 L231.93,327.46 L235.22,328.06 L239.22,328.68 L243.94,329.32 L248.90,329.93 L253.64,330.48 L257.67,330.94 L260.53,331.28" fill="none" stroke="#4a4a7a" stroke-width="0.8" stroke-linejoin="round" stroke-dasharray="1.6 1.4"/>
<path d="M181.80,272.71 L182.28,273.49 L182.95,274.58 L183.74,275.86 L184.59,277.23 L185.43,278.59 L186.20,279.82 L186.90,280.94 L187.58,282.03 L188.26,283.11 L188.93,284.18 L189.60,285.25 L190.28,286.33 L190.96,287.42 L191.64,288.51 L192.32,289.61 L193.00,290.71 L193.68,291.80 L194.36,292.89 L195.04,293.99 L195.72,295.10 L196.40,296.20 L197.08,297.29 L197.76,298.36 L198.44,299.40 L199.07,300.36 L199.65,301.25 L200.22,302.11 L200.86,303.01 L201.60,304.00 L202.52,305.13 L203.64,306.47 L204.94,307.99 L206.34,309.59 L207.81,311.21 L209.27,312.75 L210.68,314.15 L212.04,315.41 L213.40,316.62 L214.75,317.76 L216.11,318.82 L217.48,319.79 L218.84,320.65 L220.21,321.41 L221.58,322.05 L222.95,322.60 L224.32,323.09 L225.69,323.52 L227.06,323.94 L228.43,324.31 L229.79,324.63 L231.15,324.90 L232.50,325.13 L233.86,325.35 L235.22,325.55 L236.58,325.74 L237.94,325.90 L239.30,326.04 L240.66,326.16 L242.02,326.28 L243.38,326.39 L244.73,326.49 L246.07,326.58 L247.41,326.65 L248.76,326.73 L250.13,326.79 L251.54,326.86 L253.10,326.93 L254.81,327.00 L256.55,327.07 L258.17,327.13 L259.54,327.18 L260.53,327.22" fill="none" stroke="#1a1058" stroke-width="2.052" stroke-linejoin="round"/>
<path d="M181.80,323.10 L183.12,323.37 L184.92,323.75 L187.06,324.20 L189.43,324.68 L191.90,325.14 L194.36,325.55 L196.86,325.91 L199.52,326.25 L202.28,326.58 L205.09,326.90 L207.91,327.21 L210.68,327.52 L213.41,327.82 L216.14,328.13 L218.87,328.42 L221.60,328.70 L224.33,328.96 L227.06,329.19 L229.78,329.40 L232.48,329.57 L235.17,329.73 L237.88,329.88 L240.62,330.01 L243.38,330.15 L246.39,330.28 L249.67,330.41 L252.98,330.53 L256.05,330.64 L258.66,330.74 L260.53,330.80" fill="none" stroke="#000" stroke-width="2.0" stroke-linejoin="round" stroke-dasharray="3.6 4.0"/>
</g>
<rect x="180.0" y="272.6" width="80.5" height="65.09999999999997" fill="none" stroke="#2a2a2a" stroke-width="1.3"/>
<line x1="177.10" y1="335.40" x2="180.00" y2="335.40" stroke="#2a2a2a" stroke-width="1.1"/>
<text x="0" y="0" font-size="5.9" text-anchor="end" fill="#2a2a2a" style="color:#2a2a2a;stroke:none" transform="translate(175.90 338.10) scale(1 1.1)" letter-spacing="0.3">0.00</text>
<line x1="177.10" y1="323.46" x2="180.00" y2="323.46" stroke="#2a2a2a" stroke-width="1.1"/>
<text x="0" y="0" font-size="5.9" text-anchor="end" fill="#2a2a2a" style="color:#2a2a2a;stroke:none" transform="translate(175.90 326.16) scale(1 1.1)" letter-spacing="0.3">0.02</text>
<line x1="177.10" y1="311.52" x2="180.00" y2="311.52" stroke="#2a2a2a" stroke-width="1.1"/>
<text x="0" y="0" font-size="5.9" text-anchor="end" fill="#2a2a2a" style="color:#2a2a2a;stroke:none" transform="translate(175.90 314.22) scale(1 1.1)" letter-spacing="0.3">0.04</text>
<line x1="177.10" y1="299.58" x2="180.00" y2="299.58" stroke="#2a2a2a" stroke-width="1.1"/>
<text x="0" y="0" font-size="5.9" text-anchor="end" fill="#2a2a2a" style="color:#2a2a2a;stroke:none" transform="translate(175.90 302.28) scale(1 1.1)" letter-spacing="0.3">0.06</text>
<line x1="177.10" y1="287.64" x2="180.00" y2="287.64" stroke="#2a2a2a" stroke-width="1.1"/>
<text x="0" y="0" font-size="5.9" text-anchor="end" fill="#2a2a2a" style="color:#2a2a2a;stroke:none" transform="translate(175.90 290.34) scale(1 1.1)" letter-spacing="0.3">0.08</text>
<line x1="177.10" y1="275.70" x2="180.00" y2="275.70" stroke="#2a2a2a" stroke-width="1.1"/>
<text x="0" y="0" font-size="5.9" text-anchor="end" fill="#2a2a2a" style="color:#2a2a2a;stroke:none" transform="translate(175.90 278.40) scale(1 1.1)" letter-spacing="0.3">0.10</text>
<line x1="181.80" y1="337.70" x2="181.80" y2="340.60" stroke="#2a2a2a" stroke-width="1.1"/>
<text x="0" y="0" font-size="5.9" text-anchor="middle" fill="#2a2a2a" style="color:#2a2a2a;stroke:none" transform="translate(181.80 348.20) scale(1 1.1)">0</text>
<line x1="194.55" y1="337.70" x2="194.55" y2="340.60" stroke="#2a2a2a" stroke-width="1.1"/>
<text x="0" y="0" font-size="5.9" text-anchor="middle" fill="#2a2a2a" style="color:#2a2a2a;stroke:none" transform="translate(194.55 348.20) scale(1 1.1)">20</text>
<line x1="207.30" y1="337.70" x2="207.30" y2="340.60" stroke="#2a2a2a" stroke-width="1.1"/>
<text x="0" y="0" font-size="5.9" text-anchor="middle" fill="#2a2a2a" style="color:#2a2a2a;stroke:none" transform="translate(207.30 348.20) scale(1 1.1)">40</text>
<line x1="220.05" y1="337.70" x2="220.05" y2="340.60" stroke="#2a2a2a" stroke-width="1.1"/>
<text x="0" y="0" font-size="5.9" text-anchor="middle" fill="#2a2a2a" style="color:#2a2a2a;stroke:none" transform="translate(220.05 348.20) scale(1 1.1)">60</text>
<line x1="232.80" y1="337.70" x2="232.80" y2="340.60" stroke="#2a2a2a" stroke-width="1.1"/>
<text x="0" y="0" font-size="5.9" text-anchor="middle" fill="#2a2a2a" style="color:#2a2a2a;stroke:none" transform="translate(232.80 348.20) scale(1 1.1)">80</text>
<line x1="245.55" y1="337.70" x2="245.55" y2="340.60" stroke="#2a2a2a" stroke-width="1.1"/>
<text x="0" y="0" font-size="5.9" text-anchor="middle" fill="#2a2a2a" style="color:#2a2a2a;stroke:none" transform="translate(245.55 348.20) scale(1 1.1)">100</text>
<line x1="258.30" y1="337.70" x2="258.30" y2="340.60" stroke="#2a2a2a" stroke-width="1.1"/>
<text x="0" y="0" font-size="5.9" text-anchor="middle" fill="#2a2a2a" style="color:#2a2a2a;stroke:none" transform="translate(258.30 348.20) scale(1 1.1)">120</text>
<text x="0" y="0" font-size="6.15" text-anchor="middle" fill="#222" style="color:#222;stroke-width:0.22px" transform="translate(158.80 305.15) rotate(-90) scale(1 1.22)">Monthly hazard</text>
<text x="0" y="0" font-size="6.15" text-anchor="middle" fill="#222" style="color:#222;stroke-width:0.22px" transform="translate(219.50 357.80) scale(1 1.22)">Time to death (months)</text>
<g clip-path="url(#cp22)">
<line x1="228.70" y1="276.90" x2="237.70" y2="276.90" stroke="#4e9e34" stroke-width="1.9"/>
<text x="241.10" y="278.70" font-size="5.0" text-anchor="start" fill="#333" style="color:#333;stroke:none">very low</text>
<line x1="228.70" y1="282.10" x2="237.70" y2="282.10" stroke="#b4b4b4" stroke-width="1.9"/>
<text x="241.10" y="283.90" font-size="5.0" text-anchor="start" fill="#333" style="color:#333;stroke:none">low</text>
<line x1="228.70" y1="287.30" x2="237.70" y2="287.30" stroke="#f2a33a" stroke-width="1.9"/>
<text x="241.10" y="289.10" font-size="5.0" text-anchor="start" fill="#333" style="color:#333;stroke:none">int</text>
<line x1="228.70" y1="292.50" x2="237.70" y2="292.50" stroke="#cc1a2c" stroke-width="1.9"/>
<text x="241.10" y="294.30" font-size="5.0" text-anchor="start" fill="#333" style="color:#333;stroke:none">high</text>
<line x1="228.70" y1="297.70" x2="237.70" y2="297.70" stroke="#1a1058" stroke-width="1.9"/>
<text x="241.10" y="299.50" font-size="5.0" text-anchor="start" fill="#333" style="color:#333;stroke:none">very high</text>
<line x1="238.00" y1="304.80" x2="241.90" y2="304.80" stroke="#000" stroke-width="1.9"/>
<text x="245.10" y="306.50" font-size="4.8" text-anchor="start" fill="#333" style="color:#333;stroke:none">total</text>
</g>
<line x1="355.40" y1="276.60" x2="364.00" y2="276.60" stroke="#4e9e34" stroke-width="1.7"/>
<text x="366.40" y="278.40" font-size="5.0" text-anchor="start" fill="#333" style="color:#333;stroke:none">very low</text>
<line x1="355.40" y1="281.75" x2="364.00" y2="281.75" stroke="#b4b4b4" stroke-width="1.7"/>
<text x="366.40" y="283.55" font-size="5.0" text-anchor="start" fill="#333" style="color:#333;stroke:none">low</text>
<line x1="355.40" y1="286.90" x2="364.00" y2="286.90" stroke="#f2a33a" stroke-width="1.7"/>
<text x="366.40" y="288.70" font-size="5.0" text-anchor="start" fill="#333" style="color:#333;stroke:none">int</text>
<line x1="355.40" y1="292.05" x2="364.00" y2="292.05" stroke="#cc1a2c" stroke-width="1.7"/>
<text x="366.40" y="293.85" font-size="5.0" text-anchor="start" fill="#333" style="color:#333;stroke:none">high</text>
<line x1="355.40" y1="297.20" x2="364.00" y2="297.20" stroke="#1a1058" stroke-width="1.7"/>
<text x="366.40" y="299.00" font-size="5.0" text-anchor="start" fill="#333" style="color:#333;stroke:none">very high</text>
<path d="M305.50,274.60 L328.46,279.48 L347.70,283.32 L357.30,285.28 L366.95,287.17 L376.54,289.85 L384.25,291.01" fill="none" stroke="#b4b4b4" stroke-width="1.6099999999999999" stroke-linejoin="round"/>
<path d="M305.50,274.60 L328.46,276.98 L347.70,279.85 L366.95,281.80 L376.54,282.77 L384.25,283.32" fill="none" stroke="#4e9e34" stroke-width="1.6099999999999999" stroke-linejoin="round"/>
<path d="M305.50,274.60 L309.22,281.80 L314.99,286.62 L322.69,289.12 L332.29,291.38 L341.94,293.33 L353.47,294.85 L366.95,295.22 L384.25,295.22" fill="none" stroke="#f2a33a" stroke-width="1.6099999999999999" stroke-linejoin="round"/>
<path d="M305.50,274.60 L307.33,281.80 L311.16,289.48 L316.93,297.17 L324.63,302.97 L332.29,304.86 L340.00,305.83 L347.70,307.17 L384.25,307.17" fill="none" stroke="#cc1a2c" stroke-width="1.6099999999999999" stroke-linejoin="round"/>
<path d="M305.50,274.60 L306.90,285.64 L309.22,293.33 L312.13,298.15 L318.87,304.86 L324.63,308.70 L332.29,310.65 L340.00,313.52 L340.97,314.49 L376.54,314.49" fill="none" stroke="#1a1058" stroke-width="1.6099999999999999" stroke-linejoin="round"/>
<path d="M305.50,274.60 L313.10,280.82 L320.75,284.12 L328.46,286.01 L347.70,289.12 L366.95,291.38 L384.25,293.33" fill="none" stroke="#000" stroke-width="1.9" stroke-linejoin="round" stroke-dasharray="2.7 2.6"/>
<line x1="305.50" y1="272.16" x2="305.50" y2="338.57" stroke="#2a2a2a" stroke-width="1.3"/>
<line x1="304.90" y1="337.97" x2="386.00" y2="337.97" stroke="#2a2a2a" stroke-width="1.3"/>
<line x1="302.90" y1="335.60" x2="305.50" y2="335.60" stroke="#2a2a2a" stroke-width="1.1"/>
<text x="0" y="0" font-size="5.9" text-anchor="end" fill="#2a2a2a" style="color:#2a2a2a;stroke:none" transform="translate(301.25 338.20) scale(1 1.1)" letter-spacing="0.35">0.0</text>
<line x1="302.90" y1="323.40" x2="305.50" y2="323.40" stroke="#2a2a2a" stroke-width="1.1"/>
<text x="0" y="0" font-size="5.9" text-anchor="end" fill="#2a2a2a" style="color:#2a2a2a;stroke:none" transform="translate(301.25 326.00) scale(1 1.1)" letter-spacing="0.35">0.2</text>
<line x1="302.90" y1="311.20" x2="305.50" y2="311.20" stroke="#2a2a2a" stroke-width="1.1"/>
<text x="0" y="0" font-size="5.9" text-anchor="end" fill="#2a2a2a" style="color:#2a2a2a;stroke:none" transform="translate(301.25 313.80) scale(1 1.1)" letter-spacing="0.35">0.4</text>
<line x1="302.90" y1="299.00" x2="305.50" y2="299.00" stroke="#2a2a2a" stroke-width="1.1"/>
<text x="0" y="0" font-size="5.9" text-anchor="end" fill="#2a2a2a" style="color:#2a2a2a;stroke:none" transform="translate(301.25 301.60) scale(1 1.1)" letter-spacing="0.35">0.6</text>
<line x1="302.90" y1="286.80" x2="305.50" y2="286.80" stroke="#2a2a2a" stroke-width="1.1"/>
<text x="0" y="0" font-size="5.9" text-anchor="end" fill="#2a2a2a" style="color:#2a2a2a;stroke:none" transform="translate(301.25 289.40) scale(1 1.1)" letter-spacing="0.35">0.8</text>
<line x1="302.90" y1="274.60" x2="305.50" y2="274.60" stroke="#2a2a2a" stroke-width="1.1"/>
<text x="0" y="0" font-size="5.9" text-anchor="end" fill="#2a2a2a" style="color:#2a2a2a;stroke:none" transform="translate(301.25 277.20) scale(1 1.1)" letter-spacing="0.35">1.0</text>
<line x1="305.50" y1="337.97" x2="305.50" y2="340.87" stroke="#2a2a2a" stroke-width="1.1"/>
<text x="0" y="0" font-size="5.9" text-anchor="middle" fill="#2a2a2a" style="color:#2a2a2a;stroke:none" transform="translate(305.50 348.17) scale(1 1.1)">0</text>
<line x1="316.28" y1="337.97" x2="316.28" y2="340.87" stroke="#2a2a2a" stroke-width="1.1"/>
<text x="0" y="0" font-size="5.9" text-anchor="middle" fill="#2a2a2a" style="color:#2a2a2a;stroke:none" transform="translate(316.28 348.17) scale(1 1.1)">20</text>
<line x1="327.06" y1="337.97" x2="327.06" y2="340.87" stroke="#2a2a2a" stroke-width="1.1"/>
<text x="0" y="0" font-size="5.9" text-anchor="middle" fill="#2a2a2a" style="color:#2a2a2a;stroke:none" transform="translate(327.06 348.17) scale(1 1.1)">40</text>
<line x1="337.84" y1="337.97" x2="337.84" y2="340.87" stroke="#2a2a2a" stroke-width="1.1"/>
<text x="0" y="0" font-size="5.9" text-anchor="middle" fill="#2a2a2a" style="color:#2a2a2a;stroke:none" transform="translate(337.84 348.17) scale(1 1.1)">60</text>
<line x1="348.62" y1="337.97" x2="348.62" y2="340.87" stroke="#2a2a2a" stroke-width="1.1"/>
<text x="0" y="0" font-size="5.9" text-anchor="middle" fill="#2a2a2a" style="color:#2a2a2a;stroke:none" transform="translate(348.62 348.17) scale(1 1.1)">80</text>
<line x1="359.40" y1="337.97" x2="359.40" y2="340.87" stroke="#2a2a2a" stroke-width="1.1"/>
<text x="0" y="0" font-size="5.9" text-anchor="middle" fill="#2a2a2a" style="color:#2a2a2a;stroke:none" transform="translate(359.40 348.17) scale(1 1.1)">100</text>
<line x1="370.18" y1="337.97" x2="370.18" y2="340.87" stroke="#2a2a2a" stroke-width="1.1"/>
<text x="0" y="0" font-size="5.9" text-anchor="middle" fill="#2a2a2a" style="color:#2a2a2a;stroke:none" transform="translate(370.18 348.17) scale(1 1.1)">120</text>
<line x1="380.96" y1="337.97" x2="380.96" y2="340.87" stroke="#2a2a2a" stroke-width="1.1"/>
<text x="0" y="0" font-size="5.9" text-anchor="middle" fill="#2a2a2a" style="color:#2a2a2a;stroke:none" transform="translate(380.96 348.17) scale(1 1.1)">140</text>
<text x="0" y="0" font-size="6.15" text-anchor="middle" fill="#222" style="color:#222;stroke-width:0.22px" transform="translate(279.30 305.30) rotate(-90) scale(1 1.22)">Estimated proportion not</text>
<text x="0" y="0" font-size="6.15" text-anchor="middle" fill="#222" style="color:#222;stroke-width:0.22px" transform="translate(287.80 305.30) rotate(-90) scale(1 1.22)">transformed</text>
<text x="0" y="0" font-size="6.15" text-anchor="middle" fill="#222" style="color:#222;stroke-width:0.22px" transform="translate(344.80 357.40) scale(1 1.22)">Time to AML (months)</text>
<line x1="307.80" y1="333.00" x2="317.30" y2="333.00" stroke="#000" stroke-width="1.9" stroke-dasharray="2.4 2.3"/>
<text x="320.10" y="334.60" font-size="4.6" text-anchor="start" fill="#333" style="color:#333;stroke:none">total</text>
<clipPath id="cp42"><rect x="430.6" y="272.6" width="79.69999999999999" height="65.19999999999999"/></clipPath>
<g clip-path="url(#cp42)">
<path d="M432.20,334.06 L510.56,334.19" fill="none" stroke="#4e9e34" stroke-width="1.7280000000000002" stroke-linejoin="round"/>
<path d="M432.20,332.59 L510.56,332.99" fill="none" stroke="#b4b4b4" stroke-width="1.512" stroke-linejoin="round"/>
<path d="M432.20,317.27 L433.47,317.92 L435.19,318.83 L437.24,319.90 L439.52,321.05 L441.92,322.18 L444.33,323.19 L446.81,324.13 L449.48,325.08 L452.26,326.01 L455.10,326.90 L457.94,327.71 L460.71,328.42 L463.43,329.02 L466.15,329.52 L468.87,329.94 L471.59,330.32 L474.31,330.68 L477.03,331.03 L479.75,331.39 L482.46,331.72 L485.17,332.03 L487.89,332.32 L490.64,332.56 L493.41,332.77 L496.43,332.94 L499.71,333.06 L503.01,333.14 L506.09,333.21 L508.68,333.25 L510.56,333.30 L510.56,334.82 L508.68,334.80 L506.09,334.78 L503.01,334.74 L499.71,334.70 L496.43,334.63 L493.41,334.54 L490.64,334.43 L487.89,334.30 L485.17,334.14 L482.46,333.98 L479.75,333.80 L477.03,333.60 L474.31,333.41 L471.59,333.22 L468.87,333.02 L466.15,332.79 L463.43,332.52 L460.71,332.20 L457.94,331.81 L455.10,331.38 L452.26,330.90 L449.48,330.40 L446.81,329.89 L444.33,329.38 L441.92,328.84 L439.52,328.23 L437.24,327.61 L435.19,327.03 L433.47,326.55 L432.20,326.19Z" fill="#f2a33a" fill-opacity="0.35" stroke="none"/>
<path d="M432.20,321.87 L433.47,322.37 L435.19,323.07 L437.24,323.89 L439.52,324.77 L441.92,325.64 L444.33,326.42 L446.81,327.15 L449.48,327.88 L452.26,328.59 L455.10,329.27 L457.94,329.89 L460.71,330.44 L463.43,330.90 L466.15,331.29 L468.87,331.61 L471.59,331.91 L474.31,332.18 L477.03,332.45 L479.75,332.72 L482.46,332.98 L485.17,333.22 L487.89,333.44 L490.64,333.63 L493.41,333.79 L496.43,333.92 L499.71,334.01 L503.01,334.08 L506.09,334.12 L508.68,334.16 L510.56,334.19" fill="none" stroke="#f2a33a" stroke-width="1.7280000000000002" stroke-linejoin="round"/>
<path d="M432.20,300.02 L433.47,301.22 L435.19,302.88 L437.24,304.84 L439.52,306.94 L441.92,309.01 L444.33,310.88 L446.81,312.63 L449.48,314.40 L452.26,316.14 L455.10,317.80 L457.94,319.32 L460.71,320.66 L463.43,321.79 L466.15,322.76 L468.87,323.60 L471.59,324.33 L474.31,324.99 L477.03,325.62 L479.75,326.16 L482.46,326.58 L485.17,326.93 L487.89,327.26 L490.64,327.61 L493.41,328.03 L496.43,328.56 L499.71,329.16 L503.01,329.79 L506.09,330.38 L508.68,330.89 L510.56,331.25" fill="none" stroke="#c45456" stroke-width="0.8" stroke-linejoin="round" stroke-dasharray="1.2 1.7"/>
<path d="M432.20,310.61 L433.47,311.92 L435.19,313.76 L437.24,315.93 L439.52,318.21 L441.92,320.39 L444.33,322.27 L446.43,323.88 L448.23,325.39 L450.16,326.81 L452.61,328.12 L456.00,329.34 L460.71,330.44 L467.66,331.45 L476.69,332.36 L486.66,333.16 L496.40,333.86 L504.75,334.43 L510.56,334.86" fill="none" stroke="#c45456" stroke-width="0.8" stroke-linejoin="round" stroke-dasharray="1.2 1.7"/>
<path d="M432.20,305.65 L433.12,306.43 L434.44,307.52 L435.98,308.81 L437.57,310.15 L439.06,311.42 L440.26,312.49 L441.13,313.32 L441.76,314.01 L442.29,314.64 L442.82,315.25 L443.46,315.89 L444.33,316.64 L445.45,317.51 L446.75,318.46 L448.17,319.45 L449.64,320.45 L451.11,321.40 L452.52,322.27 L453.89,323.06 L455.25,323.81 L456.62,324.52 L457.99,325.19 L459.35,325.82 L460.71,326.42 L462.07,326.98 L463.42,327.49 L464.78,327.96 L466.13,328.41 L467.48,328.83 L468.84,329.24 L470.11,329.62 L471.26,329.96 L472.42,330.28 L473.69,330.60 L475.19,330.91 L477.03,331.25 L479.28,331.61 L481.86,332.01 L484.66,332.40 L487.59,332.78 L490.54,333.12 L493.41,333.39 L496.43,333.59 L499.71,333.75 L503.01,333.86 L506.09,333.94 L508.68,334.00 L510.56,334.06" fill="none" stroke="#cc1a2c" stroke-width="1.9440000000000002" stroke-linejoin="round"/>
<path d="M432.20,271.08 L432.48,271.53 L432.81,272.04 L433.23,272.70 L433.77,273.62 L434.47,274.87 L435.38,276.57 L436.54,278.91 L437.96,281.85 L439.54,285.13 L441.19,288.51 L442.81,291.73 L444.33,294.53 L445.74,296.95 L447.12,299.20 L448.47,301.29 L449.82,303.23 L451.16,305.04 L452.52,306.72 L453.89,308.26 L455.25,309.63 L456.62,310.86 L457.99,311.99 L459.35,313.06 L460.71,314.09 L462.07,315.08 L463.42,316.00 L464.78,316.85 L466.13,317.64 L467.48,318.37 L468.84,319.05 L470.11,319.68 L471.26,320.23 L472.42,320.74 L473.69,321.19 L475.19,321.61 L477.03,322.00 L479.28,322.36 L481.86,322.69 L484.66,322.99 L487.59,323.24 L490.54,323.45 L493.41,323.61 L496.43,323.70 L499.71,323.73 L503.01,323.71 L506.09,323.67 L508.68,323.63 L510.56,323.61" fill="none" stroke="#4a4a7a" stroke-width="0.8" stroke-linejoin="round" stroke-dasharray="1.6 1.4"/>
<path d="M432.20,284.75 L433.03,286.79 L434.14,289.61 L435.47,292.96 L436.97,296.56 L438.58,300.16 L440.26,303.51 L442.02,306.74 L443.89,310.09 L445.88,313.45 L447.98,316.68 L450.19,319.66 L452.52,322.27 L454.71,324.50 L456.72,326.45 L458.84,328.15 L461.37,329.63 L464.60,330.92 L468.84,332.05 L474.81,332.97 L482.41,333.65 L490.72,334.14 L498.80,334.49 L505.73,334.76 L510.56,335.00" fill="none" stroke="#4a4a7a" stroke-width="0.8" stroke-linejoin="round" stroke-dasharray="1.6 1.4"/>
<path d="M432.20,271.75 L432.63,272.99 L433.23,274.70 L433.95,276.73 L434.71,278.92 L435.48,281.11 L436.20,283.14 L436.87,285.07 L437.55,287.03 L438.23,288.99 L438.91,290.91 L439.59,292.77 L440.26,294.53 L440.89,296.13 L441.47,297.58 L442.04,298.96 L442.67,300.36 L443.41,301.85 L444.33,303.51 L445.45,305.43 L446.75,307.56 L448.17,309.78 L449.64,311.98 L451.11,314.04 L452.52,315.84 L453.89,317.36 L455.25,318.71 L456.62,319.91 L457.99,321.02 L459.35,322.06 L460.71,323.07 L462.07,324.05 L463.42,324.97 L464.78,325.83 L466.13,326.62 L467.48,327.35 L468.84,328.03 L470.20,328.64 L471.57,329.17 L472.93,329.64 L474.30,330.06 L475.67,330.46 L477.03,330.84 L478.40,331.20 L479.76,331.52 L481.13,331.82 L482.49,332.08 L483.86,332.34 L485.22,332.59 L486.48,332.82 L487.62,333.04 L488.76,333.25 L490.02,333.44 L491.53,333.62 L493.41,333.79 L495.95,333.96 L499.10,334.12 L502.50,334.27 L505.78,334.40 L508.59,334.51 L510.56,334.60" fill="none" stroke="#1a1058" stroke-width="2.052" stroke-linejoin="round"/>
<path d="M432.20,323.07 L433.47,323.73 L435.19,324.66 L437.24,325.75 L439.52,326.89 L441.92,327.95 L444.33,328.83 L446.81,329.53 L449.48,330.15 L452.26,330.69 L455.10,331.18 L457.94,331.63 L460.71,332.05 L463.24,332.43 L465.52,332.77 L467.80,333.06 L470.32,333.33 L473.32,333.57 L477.03,333.79 L482.01,334.01 L488.17,334.20 L494.81,334.37 L501.23,334.52 L506.71,334.64 L510.56,334.73" fill="none" stroke="#000" stroke-width="2.0" stroke-linejoin="round" stroke-dasharray="3.6 4.0"/>
</g>
<rect x="430.6" y="272.6" width="79.69999999999999" height="65.19999999999999" fill="none" stroke="#2a2a2a" stroke-width="1.3"/>
<line x1="427.70" y1="335.40" x2="430.60" y2="335.40" stroke="#2a2a2a" stroke-width="1.1"/>
<text x="0" y="0" font-size="5.9" text-anchor="end" fill="#2a2a2a" style="color:#2a2a2a;stroke:none" transform="translate(426.50 338.10) scale(1 1.1)" letter-spacing="0.3">0.00</text>
<line x1="427.70" y1="322.00" x2="430.60" y2="322.00" stroke="#2a2a2a" stroke-width="1.1"/>
<text x="0" y="0" font-size="5.9" text-anchor="end" fill="#2a2a2a" style="color:#2a2a2a;stroke:none" transform="translate(426.50 324.70) scale(1 1.1)" letter-spacing="0.3">0.01</text>
<line x1="427.70" y1="308.60" x2="430.60" y2="308.60" stroke="#2a2a2a" stroke-width="1.1"/>
<text x="0" y="0" font-size="5.9" text-anchor="end" fill="#2a2a2a" style="color:#2a2a2a;stroke:none" transform="translate(426.50 311.30) scale(1 1.1)" letter-spacing="0.3">0.02</text>
<line x1="427.70" y1="295.20" x2="430.60" y2="295.20" stroke="#2a2a2a" stroke-width="1.1"/>
<text x="0" y="0" font-size="5.9" text-anchor="end" fill="#2a2a2a" style="color:#2a2a2a;stroke:none" transform="translate(426.50 297.90) scale(1 1.1)" letter-spacing="0.3">0.03</text>
<line x1="427.70" y1="281.80" x2="430.60" y2="281.80" stroke="#2a2a2a" stroke-width="1.1"/>
<text x="0" y="0" font-size="5.9" text-anchor="end" fill="#2a2a2a" style="color:#2a2a2a;stroke:none" transform="translate(426.50 284.50) scale(1 1.1)" letter-spacing="0.3">0.04</text>
<line x1="432.20" y1="337.80" x2="432.20" y2="340.70" stroke="#2a2a2a" stroke-width="1.1"/>
<text x="0" y="0" font-size="5.9" text-anchor="middle" fill="#2a2a2a" style="color:#2a2a2a;stroke:none" transform="translate(432.20 348.30) scale(1 1.1)">0</text>
<line x1="444.90" y1="337.80" x2="444.90" y2="340.70" stroke="#2a2a2a" stroke-width="1.1"/>
<text x="0" y="0" font-size="5.9" text-anchor="middle" fill="#2a2a2a" style="color:#2a2a2a;stroke:none" transform="translate(444.90 348.30) scale(1 1.1)">20</text>
<line x1="457.60" y1="337.80" x2="457.60" y2="340.70" stroke="#2a2a2a" stroke-width="1.1"/>
<text x="0" y="0" font-size="5.9" text-anchor="middle" fill="#2a2a2a" style="color:#2a2a2a;stroke:none" transform="translate(457.60 348.30) scale(1 1.1)">40</text>
<line x1="470.30" y1="337.80" x2="470.30" y2="340.70" stroke="#2a2a2a" stroke-width="1.1"/>
<text x="0" y="0" font-size="5.9" text-anchor="middle" fill="#2a2a2a" style="color:#2a2a2a;stroke:none" transform="translate(470.30 348.30) scale(1 1.1)">60</text>
<line x1="483.00" y1="337.80" x2="483.00" y2="340.70" stroke="#2a2a2a" stroke-width="1.1"/>
<text x="0" y="0" font-size="5.9" text-anchor="middle" fill="#2a2a2a" style="color:#2a2a2a;stroke:none" transform="translate(483.00 348.30) scale(1 1.1)">80</text>
<line x1="495.70" y1="337.80" x2="495.70" y2="340.70" stroke="#2a2a2a" stroke-width="1.1"/>
<text x="0" y="0" font-size="5.9" text-anchor="middle" fill="#2a2a2a" style="color:#2a2a2a;stroke:none" transform="translate(495.70 348.30) scale(1 1.1)">100</text>
<line x1="508.40" y1="337.80" x2="508.40" y2="340.70" stroke="#2a2a2a" stroke-width="1.1"/>
<text x="0" y="0" font-size="5.9" text-anchor="middle" fill="#2a2a2a" style="color:#2a2a2a;stroke:none" transform="translate(508.40 348.30) scale(1 1.1)">120</text>
<text x="0" y="0" font-size="6.15" text-anchor="middle" fill="#222" style="color:#222;stroke-width:0.22px" transform="translate(410.20 305.20) rotate(-90) scale(1 1.22)">Monthly AML hazard</text>
<text x="0" y="0" font-size="6.15" text-anchor="middle" fill="#222" style="color:#222;stroke-width:0.22px" transform="translate(469.80 357.90) scale(1 1.22)">Time to AML (months)</text>
<g clip-path="url(#cp42)">
<line x1="480.00" y1="277.40" x2="488.50" y2="277.40" stroke="#4e9e34" stroke-width="1.9"/>
<text x="491.90" y="279.20" font-size="5.0" text-anchor="start" fill="#333" style="color:#333;stroke:none">very low</text>
<line x1="480.00" y1="282.60" x2="488.50" y2="282.60" stroke="#b4b4b4" stroke-width="1.9"/>
<text x="491.90" y="284.40" font-size="5.0" text-anchor="start" fill="#333" style="color:#333;stroke:none">low</text>
<line x1="480.00" y1="287.80" x2="488.50" y2="287.80" stroke="#f2a33a" stroke-width="1.9"/>
<text x="491.90" y="289.60" font-size="5.0" text-anchor="start" fill="#333" style="color:#333;stroke:none">int</text>
<line x1="480.00" y1="293.00" x2="488.50" y2="293.00" stroke="#cc1a2c" stroke-width="1.9"/>
<text x="491.90" y="294.80" font-size="5.0" text-anchor="start" fill="#333" style="color:#333;stroke:none">high</text>
<line x1="480.00" y1="298.20" x2="488.50" y2="298.20" stroke="#1a1058" stroke-width="1.9"/>
<text x="491.90" y="300.00" font-size="5.0" text-anchor="start" fill="#333" style="color:#333;stroke:none">very high</text>
<line x1="488.20" y1="305.10" x2="492.10" y2="305.10" stroke="#000" stroke-width="1.9"/>
<text x="495.10" y="306.80" font-size="4.8" text-anchor="start" fill="#333" style="color:#333;stroke:none">total</text>
</g>
<text x="0" y="0" font-size="7.5" text-anchor="middle" fill="#222" style="color:#222;stroke-width:0.2px" transform="translate(14.50 418.90) rotate(-90) scale(1 1.1)">WPSS 2011</text>
<text x="0" y="0" font-size="11.5" text-anchor="start" font-weight="bold" fill="#111" style="color:#111" transform="translate(37.10 373.80) scale(1 1.05)">M</text>
<text x="0" y="0" font-size="11.5" text-anchor="start" font-weight="bold" fill="#111" style="color:#111" transform="translate(155.50 373.80) scale(1 1.05)">N</text>
<text x="0" y="0" font-size="11.5" text-anchor="start" font-weight="bold" fill="#111" style="color:#111" transform="translate(285.60 373.80) scale(1 1.05)">O</text>
<text x="0" y="0" font-size="11.5" text-anchor="start" font-weight="bold" fill="#111" style="color:#111" transform="translate(415.80 373.80) scale(1 1.05)">P</text>
<text x="0" y="0" font-size="7.75" text-anchor="middle" fill="#222" style="color:#222;stroke-width:0.2px" transform="translate(98.90 371.70) scale(1 1.1)">overall survival by</text>
<text x="0" y="0" font-size="7.75" text-anchor="middle" fill="#222" style="color:#222;stroke-width:0.2px" transform="translate(98.90 380.90) scale(1 1.1)">WPSS2011</text>
<text x="0" y="0" font-size="7.75" text-anchor="middle" fill="#222" style="color:#222;stroke-width:0.2px" transform="translate(345.90 371.70) scale(1 1.1)">time to AML transformation</text>
<text x="0" y="0" font-size="7.75" text-anchor="middle" fill="#222" style="color:#222;stroke-width:0.2px" transform="translate(345.50 380.90) scale(1 1.1)">by WPSS2011</text>
<text x="0" y="0" font-size="7.75" text-anchor="middle" fill="#222" style="color:#222;stroke-width:0.2px" transform="translate(220.20 381.20) scale(1 1.1)">WPSS2011</text>
<text x="0" y="0" font-size="7.75" text-anchor="middle" fill="#222" style="color:#222;stroke-width:0.2px" transform="translate(470.80 381.20) scale(1 1.1)">WPSS2011</text>
<path d="M60.20,388.40 L66.77,393.70 L74.46,400.28 L82.09,405.70 L89.77,410.63 L97.99,415.56 L107.32,420.07 L116.91,424.88 L126.56,430.66 L138.06,434.50" fill="none" stroke="#b4b4b4" stroke-width="1.6099999999999999" stroke-linejoin="round"/>
<path d="M60.20,388.40 L68.95,393.70 L79.92,400.28 L88.66,405.70 L95.29,410.08 L107.32,415.26 L116.91,419.09 L126.56,424.88 L132.33,426.83 L137.10,426.83" fill="none" stroke="#4e9e34" stroke-width="1.6099999999999999" stroke-linejoin="round"/>
<path d="M60.20,388.40 L61.79,390.84 L64.60,394.79 L68.95,402.47 L73.34,408.98 L78.80,414.47 L85.38,418.85 L90.89,422.14 L97.99,426.52 L107.32,431.03 L116.91,434.07 L126.56,436.82 L138.06,438.34" fill="none" stroke="#f2a33a" stroke-width="1.6099999999999999" stroke-linejoin="round"/>
<path d="M60.20,388.40 L61.79,393.27 L64.02,399.18 L66.77,410.08 L70.06,417.75 L74.46,424.33 L79.92,429.81 L86.49,433.65 L97.99,439.13 L107.32,441.99 L116.91,443.51 L126.56,444.49 L138.06,445.10" fill="none" stroke="#cc1a2c" stroke-width="1.6099999999999999" stroke-linejoin="round"/>
<path d="M60.20,388.40 L61.00,392.66 L62.37,402.47 L64.02,416.66 L66.24,426.52 L68.95,434.20 L73.34,439.68 L79.92,443.51 L88.66,444.61 L97.99,446.25 L116.91,446.99 L124.60,447.96 L132.33,448.93" fill="none" stroke="#1a1058" stroke-width="1.6099999999999999" stroke-linejoin="round"/>
<path d="M60.20,388.40 L62.32,392.66 L65.13,396.44 L68.95,402.47 L74.46,408.98 L81.03,415.56 L88.66,419.95 L95.82,424.33 L107.32,430.42 L116.91,433.34 L126.56,435.78 L138.06,437.36" fill="none" stroke="#000" stroke-width="1.9" stroke-linejoin="round" stroke-dasharray="2.7 2.6"/>
<line x1="102.50" y1="390.00" x2="112.00" y2="390.00" stroke="#4e9e34" stroke-width="1.7"/>
<text x="114.40" y="391.80" font-size="5.0" text-anchor="start" fill="#333" style="color:#333;stroke:none">VERY LOW</text>
<line x1="102.50" y1="395.10" x2="112.00" y2="395.10" stroke="#b4b4b4" stroke-width="1.7"/>
<text x="114.40" y="396.90" font-size="5.0" text-anchor="start" fill="#333" style="color:#333;stroke:none">LOW</text>
<line x1="102.50" y1="400.20" x2="112.00" y2="400.20" stroke="#f2a33a" stroke-width="1.7"/>
<text x="114.40" y="402.00" font-size="5.0" text-anchor="start" fill="#333" style="color:#333;stroke:none">INTER</text>
<line x1="102.50" y1="405.30" x2="112.00" y2="405.30" stroke="#cc1a2c" stroke-width="1.7"/>
<text x="114.40" y="407.10" font-size="5.0" text-anchor="start" fill="#333" style="color:#333;stroke:none">HIGH</text>
<line x1="102.50" y1="410.40" x2="112.00" y2="410.40" stroke="#1a1058" stroke-width="1.7"/>
<text x="114.40" y="412.20" font-size="5.0" text-anchor="start" fill="#333" style="color:#333;stroke:none">VERY HIGH</text>
<line x1="60.20" y1="385.96" x2="60.20" y2="452.26" stroke="#2a2a2a" stroke-width="1.3"/>
<line x1="59.60" y1="451.66" x2="139.80" y2="451.66" stroke="#2a2a2a" stroke-width="1.3"/>
<line x1="57.60" y1="449.30" x2="60.20" y2="449.30" stroke="#2a2a2a" stroke-width="1.1"/>
<text x="0" y="0" font-size="5.9" text-anchor="end" fill="#2a2a2a" style="color:#2a2a2a;stroke:none" transform="translate(55.95 451.90) scale(1 1.1)" letter-spacing="0.35">0.0</text>
<line x1="57.60" y1="437.12" x2="60.20" y2="437.12" stroke="#2a2a2a" stroke-width="1.1"/>
<text x="0" y="0" font-size="5.9" text-anchor="end" fill="#2a2a2a" style="color:#2a2a2a;stroke:none" transform="translate(55.95 439.72) scale(1 1.1)" letter-spacing="0.35">0.2</text>
<line x1="57.60" y1="424.94" x2="60.20" y2="424.94" stroke="#2a2a2a" stroke-width="1.1"/>
<text x="0" y="0" font-size="5.9" text-anchor="end" fill="#2a2a2a" style="color:#2a2a2a;stroke:none" transform="translate(55.95 427.54) scale(1 1.1)" letter-spacing="0.35">0.4</text>
<line x1="57.60" y1="412.76" x2="60.20" y2="412.76" stroke="#2a2a2a" stroke-width="1.1"/>
<text x="0" y="0" font-size="5.9" text-anchor="end" fill="#2a2a2a" style="color:#2a2a2a;stroke:none" transform="translate(55.95 415.36) scale(1 1.1)" letter-spacing="0.35">0.6</text>
<line x1="57.60" y1="400.58" x2="60.20" y2="400.58" stroke="#2a2a2a" stroke-width="1.1"/>
<text x="0" y="0" font-size="5.9" text-anchor="end" fill="#2a2a2a" style="color:#2a2a2a;stroke:none" transform="translate(55.95 403.18) scale(1 1.1)" letter-spacing="0.35">0.8</text>
<line x1="57.60" y1="388.40" x2="60.20" y2="388.40" stroke="#2a2a2a" stroke-width="1.1"/>
<text x="0" y="0" font-size="5.9" text-anchor="end" fill="#2a2a2a" style="color:#2a2a2a;stroke:none" transform="translate(55.95 391.00) scale(1 1.1)" letter-spacing="0.35">1.0</text>
<line x1="60.20" y1="451.66" x2="60.20" y2="454.56" stroke="#2a2a2a" stroke-width="1.1"/>
<text x="0" y="0" font-size="5.9" text-anchor="middle" fill="#2a2a2a" style="color:#2a2a2a;stroke:none" transform="translate(60.20 461.86) scale(1 1.1)">0</text>
<line x1="70.94" y1="451.66" x2="70.94" y2="454.56" stroke="#2a2a2a" stroke-width="1.1"/>
<text x="0" y="0" font-size="5.9" text-anchor="middle" fill="#2a2a2a" style="color:#2a2a2a;stroke:none" transform="translate(70.94 461.86) scale(1 1.1)">20</text>
<line x1="81.68" y1="451.66" x2="81.68" y2="454.56" stroke="#2a2a2a" stroke-width="1.1"/>
<text x="0" y="0" font-size="5.9" text-anchor="middle" fill="#2a2a2a" style="color:#2a2a2a;stroke:none" transform="translate(81.68 461.86) scale(1 1.1)">40</text>
<line x1="92.42" y1="451.66" x2="92.42" y2="454.56" stroke="#2a2a2a" stroke-width="1.1"/>
<text x="0" y="0" font-size="5.9" text-anchor="middle" fill="#2a2a2a" style="color:#2a2a2a;stroke:none" transform="translate(92.42 461.86) scale(1 1.1)">60</text>
<line x1="103.16" y1="451.66" x2="103.16" y2="454.56" stroke="#2a2a2a" stroke-width="1.1"/>
<text x="0" y="0" font-size="5.9" text-anchor="middle" fill="#2a2a2a" style="color:#2a2a2a;stroke:none" transform="translate(103.16 461.86) scale(1 1.1)">80</text>
<line x1="113.90" y1="451.66" x2="113.90" y2="454.56" stroke="#2a2a2a" stroke-width="1.1"/>
<text x="0" y="0" font-size="5.9" text-anchor="middle" fill="#2a2a2a" style="color:#2a2a2a;stroke:none" transform="translate(113.90 461.86) scale(1 1.1)">100</text>
<line x1="124.64" y1="451.66" x2="124.64" y2="454.56" stroke="#2a2a2a" stroke-width="1.1"/>
<text x="0" y="0" font-size="5.9" text-anchor="middle" fill="#2a2a2a" style="color:#2a2a2a;stroke:none" transform="translate(124.64 461.86) scale(1 1.1)">120</text>
<line x1="135.38" y1="451.66" x2="135.38" y2="454.56" stroke="#2a2a2a" stroke-width="1.1"/>
<text x="0" y="0" font-size="5.9" text-anchor="middle" fill="#2a2a2a" style="color:#2a2a2a;stroke:none" transform="translate(135.38 461.86) scale(1 1.1)">140</text>
<text x="0" y="0" font-size="6.15" text-anchor="middle" fill="#222" style="color:#222;stroke-width:0.22px" transform="translate(31.30 417.85) rotate(-90) scale(1 1.22)">Estimated proportion</text>
<text x="0" y="0" font-size="6.15" text-anchor="middle" fill="#222" style="color:#222;stroke-width:0.22px" transform="translate(38.80 417.85) rotate(-90) scale(1 1.22)">surviving</text>
<text x="0" y="0" font-size="6.15" text-anchor="middle" fill="#222" style="color:#222;stroke-width:0.22px" transform="translate(96.50 471.10) scale(1 1.22)">Time to death (months)</text>
<line x1="62.50" y1="446.70" x2="72.00" y2="446.70" stroke="#000" stroke-width="1.9" stroke-dasharray="2.4 2.3"/>
<text x="74.80" y="448.30" font-size="4.6" text-anchor="start" fill="#333" style="color:#333;stroke:none">total</text>
<clipPath id="cp23"><rect x="180.0" y="385.9" width="80.5" height="65.10000000000002"/></clipPath>
<g clip-path="url(#cp23)">
<path d="M181.80,445.95 L184.70,445.82 L188.51,445.64 L193.12,445.43 L198.43,445.20 L204.32,444.98 L210.68,444.78 L218.35,444.60 L227.59,444.41 L237.41,444.23 L246.83,444.07 L254.86,443.93 L260.53,443.82" fill="none" stroke="#4e9e34" stroke-width="1.62" stroke-linejoin="round"/>
<path d="M181.80,443.35 L260.53,442.81" fill="none" stroke="#b4b4b4" stroke-width="1.62" stroke-linejoin="round"/>
<path d="M181.80,436.43 L183.12,436.60 L184.92,436.85 L187.06,437.13 L189.43,437.45 L191.90,437.77 L194.36,438.08 L196.86,438.39 L199.52,438.72 L202.28,439.05 L205.09,439.38 L207.91,439.69 L210.68,439.98 L213.41,440.23 L216.14,440.46 L218.87,440.68 L221.60,440.88 L224.33,441.07 L227.06,441.26 L229.78,441.45 L232.48,441.63 L235.17,441.81 L237.88,441.97 L240.62,442.12 L243.38,442.24 L246.39,442.34 L249.67,442.42 L252.98,442.48 L256.05,442.53 L258.66,442.57 L260.53,442.61 L260.53,445.04 L258.66,445.02 L256.05,444.99 L252.98,444.95 L249.67,444.91 L246.39,444.85 L243.38,444.77 L240.62,444.68 L237.88,444.57 L235.17,444.45 L232.48,444.32 L229.78,444.19 L227.06,444.05 L224.33,443.91 L221.60,443.77 L218.87,443.62 L216.14,443.46 L213.41,443.29 L210.68,443.10 L207.91,442.89 L205.09,442.66 L202.28,442.41 L199.52,442.17 L196.86,441.93 L194.36,441.70 L191.90,441.47 L189.43,441.23 L187.06,441.00 L184.92,440.79 L183.12,440.61 L181.80,440.48Z" fill="#f2a33a" fill-opacity="0.35" stroke="none"/>
<path d="M181.80,438.45 L183.12,438.61 L184.92,438.82 L187.06,439.07 L189.43,439.34 L191.90,439.62 L194.36,439.89 L196.86,440.16 L199.52,440.44 L202.28,440.73 L205.09,441.02 L207.91,441.29 L210.68,441.54 L213.41,441.76 L216.14,441.96 L218.87,442.15 L221.60,442.32 L224.33,442.49 L227.06,442.65 L229.78,442.82 L232.48,442.98 L235.17,443.13 L237.88,443.27 L240.62,443.40 L243.38,443.51 L246.39,443.59 L249.67,443.66 L252.98,443.72 L256.05,443.76 L258.66,443.80 L260.53,443.82" fill="none" stroke="#f2a33a" stroke-width="1.7280000000000002" stroke-linejoin="round"/>
<path d="M181.80,425.67 L183.22,425.99 L185.22,426.42 L187.57,426.94 L190.03,427.49 L192.37,428.04 L194.36,428.54 L195.97,429.01 L197.40,429.47 L198.71,429.93 L199.96,430.38 L201.21,430.82 L202.52,431.23 L203.88,431.63 L205.24,432.01 L206.60,432.37 L207.96,432.72 L209.32,433.06 L210.68,433.40 L212.04,433.72 L213.40,434.03 L214.75,434.33 L216.11,434.62 L217.48,434.91 L218.84,435.21 L220.11,435.51 L221.28,435.80 L222.44,436.09 L223.72,436.39 L225.22,436.70 L227.06,437.03 L229.30,437.39 L231.87,437.79 L234.66,438.20 L237.58,438.60 L240.52,438.98 L243.38,439.31 L246.39,439.60 L249.67,439.86 L252.98,440.09 L256.05,440.30 L258.66,440.47 L260.53,440.60 L260.53,443.76 L258.66,443.65 L256.05,443.51 L252.98,443.35 L249.67,443.15 L246.39,442.94 L243.38,442.70 L240.52,442.43 L237.58,442.13 L234.66,441.80 L231.87,441.46 L229.30,441.13 L227.06,440.83 L225.22,440.57 L223.72,440.31 L222.44,440.07 L221.28,439.83 L220.11,439.59 L218.84,439.35 L217.48,439.11 L216.11,438.87 L214.75,438.63 L213.40,438.38 L212.04,438.13 L210.68,437.87 L209.32,437.59 L207.96,437.31 L206.60,437.03 L205.24,436.73 L203.88,436.42 L202.52,436.09 L201.21,435.75 L199.96,435.40 L198.71,435.03 L197.40,434.65 L195.97,434.27 L194.36,433.89 L192.37,433.48 L190.03,433.03 L187.57,432.58 L185.22,432.16 L183.22,431.80 L181.80,431.55Z" fill="#cc1a2c" fill-opacity="0.25" stroke="none"/>
<path d="M181.80,425.67 L183.22,425.99 L185.22,426.42 L187.57,426.94 L190.03,427.49 L192.37,428.04 L194.36,428.54 L195.97,429.01 L197.40,429.47 L198.71,429.93 L199.96,430.38 L201.21,430.82 L202.52,431.23 L203.88,431.63 L205.24,432.01 L206.60,432.37 L207.96,432.72 L209.32,433.06 L210.68,433.40 L212.04,433.72 L213.40,434.03 L214.75,434.33 L216.11,434.62 L217.48,434.91 L218.84,435.21 L220.11,435.51 L221.28,435.80 L222.44,436.09 L223.72,436.39 L225.22,436.70 L227.06,437.03 L229.30,437.39 L231.87,437.79 L234.66,438.20 L237.58,438.60 L240.52,438.98 L243.38,439.31 L246.39,439.60 L249.67,439.86 L252.98,440.09 L256.05,440.30 L258.66,440.47 L260.53,440.60" fill="none" stroke="#c45456" stroke-width="0.8" stroke-linejoin="round" stroke-dasharray="1.2 1.7"/>
<path d="M181.80,431.55 L183.22,431.80 L185.22,432.16 L187.57,432.58 L190.03,433.03 L192.37,433.48 L194.36,433.89 L195.97,434.27 L197.40,434.65 L198.71,435.03 L199.96,435.40 L201.21,435.75 L202.52,436.09 L203.88,436.42 L205.24,436.73 L206.60,437.03 L207.96,437.31 L209.32,437.59 L210.68,437.87 L212.04,438.13 L213.40,438.38 L214.75,438.63 L216.11,438.87 L217.48,439.11 L218.84,439.35 L220.11,439.59 L221.28,439.83 L222.44,440.07 L223.72,440.31 L225.22,440.57 L227.06,440.83 L229.30,441.13 L231.87,441.46 L234.66,441.80 L237.58,442.13 L240.52,442.43 L243.38,442.70 L246.39,442.94 L249.67,443.15 L252.98,443.35 L256.05,443.51 L258.66,443.65 L260.53,443.76" fill="none" stroke="#c45456" stroke-width="0.8" stroke-linejoin="round" stroke-dasharray="1.2 1.7"/>
<path d="M181.80,428.61 L183.22,428.90 L185.22,429.29 L187.57,429.76 L190.03,430.26 L192.37,430.76 L194.36,431.22 L195.97,431.64 L197.40,432.06 L198.71,432.48 L199.96,432.89 L201.21,433.29 L202.52,433.66 L203.88,434.02 L205.24,434.37 L206.60,434.70 L207.96,435.02 L209.32,435.33 L210.68,435.63 L212.04,435.93 L213.40,436.21 L214.75,436.48 L216.11,436.74 L217.48,437.01 L218.84,437.28 L220.11,437.55 L221.28,437.82 L222.44,438.08 L223.72,438.35 L225.22,438.63 L227.06,438.93 L229.30,439.26 L231.87,439.62 L234.66,440.00 L237.58,440.36 L240.52,440.71 L243.38,441.01 L246.39,441.27 L249.67,441.51 L252.98,441.72 L256.05,441.91 L258.66,442.06 L260.53,442.18" fill="none" stroke="#cc1a2c" stroke-width="1.9440000000000002" stroke-linejoin="round"/>
<path d="M181.80,381.90 L182.13,382.24 L182.52,382.59 L183.02,383.06 L183.65,383.76 L184.42,384.79 L185.37,386.26 L186.56,388.36 L188.00,391.03 L189.58,394.04 L191.22,397.13 L192.85,400.06 L194.36,402.59 L195.77,404.73 L197.14,406.65 L198.49,408.42 L199.83,410.08 L201.17,411.67 L202.52,413.23 L203.88,414.77 L205.24,416.24 L206.60,417.64 L207.96,418.97 L209.32,420.24 L210.68,421.43 L212.04,422.55 L213.40,423.59 L214.75,424.56 L216.11,425.47 L217.48,426.32 L218.84,427.12 L220.21,427.86 L221.58,428.55 L222.95,429.17 L224.32,429.74 L225.69,430.26 L227.06,430.74 L228.43,431.16 L229.79,431.54 L231.15,431.87 L232.50,432.14 L233.86,432.37 L235.22,432.55 L236.58,432.67 L237.94,432.75 L239.30,432.77 L240.66,432.75 L242.02,432.67 L243.38,432.55 L244.73,432.37 L246.07,432.16 L247.41,431.89 L248.76,431.57 L250.13,431.18 L251.54,430.74 L253.10,430.16 L254.81,429.44 L256.55,428.66 L258.17,427.90 L259.54,427.25 L260.53,426.80" fill="none" stroke="#4a4a7a" stroke-width="0.8" stroke-linejoin="round" stroke-dasharray="1.6 1.4"/>
<path d="M181.80,396.05 L182.68,397.62 L183.86,399.75 L185.27,402.30 L186.86,405.09 L188.55,407.97 L190.28,410.79 L192.05,413.68 L193.93,416.81 L195.91,420.03 L198.00,423.20 L200.20,426.16 L202.52,428.77 L205.00,431.03 L207.65,433.07 L210.42,434.91 L213.24,436.56 L216.07,438.05 L218.84,439.41 L221.46,440.58 L223.96,441.53 L226.47,442.32 L229.10,443.01 L231.97,443.65 L235.22,444.30 L239.22,444.98 L243.94,445.63 L248.90,446.23 L253.64,446.77 L257.67,447.21 L260.53,447.55" fill="none" stroke="#4a4a7a" stroke-width="0.8" stroke-linejoin="round" stroke-dasharray="1.6 1.4"/>
<path d="M181.80,385.62 L182.28,386.59 L182.95,387.94 L183.74,389.53 L184.59,391.24 L185.43,392.92 L186.20,394.46 L186.90,395.87 L187.58,397.28 L188.26,398.67 L188.93,400.03 L189.60,401.34 L190.28,402.59 L190.91,403.72 L191.49,404.71 L192.06,405.66 L192.70,406.65 L193.44,407.78 L194.36,409.14 L195.48,410.80 L196.78,412.71 L198.18,414.75 L199.65,416.82 L201.11,418.80 L202.52,420.58 L203.88,422.16 L205.24,423.64 L206.60,425.03 L207.96,426.34 L209.32,427.58 L210.68,428.77 L212.04,429.90 L213.40,430.96 L214.75,431.95 L216.11,432.88 L217.48,433.73 L218.84,434.51 L220.21,435.21 L221.58,435.82 L222.95,436.36 L224.32,436.85 L225.69,437.31 L227.06,437.76 L228.43,438.19 L229.79,438.59 L231.15,438.96 L232.50,439.29 L233.86,439.60 L235.22,439.89 L236.58,440.14 L237.94,440.35 L239.30,440.53 L240.66,440.69 L242.02,440.85 L243.38,441.01 L244.73,441.17 L246.07,441.33 L247.41,441.48 L248.76,441.62 L250.13,441.75 L251.54,441.86 L253.10,441.94 L254.81,442.01 L256.55,442.07 L258.17,442.11 L259.54,442.15 L260.53,442.18" fill="none" stroke="#1a1058" stroke-width="2.052" stroke-linejoin="round"/>
<path d="M181.80,437.28 L183.12,437.57 L184.92,437.97 L187.06,438.44 L189.43,438.95 L191.90,439.44 L194.36,439.89 L196.86,440.30 L199.52,440.71 L202.28,441.11 L205.09,441.50 L207.91,441.85 L210.68,442.18 L213.41,442.46 L216.14,442.71 L218.87,442.93 L221.60,443.14 L224.33,443.33 L227.06,443.51 L229.78,443.67 L232.48,443.82 L235.17,443.96 L237.88,444.08 L240.62,444.20 L243.38,444.30 L246.39,444.41 L249.67,444.50 L252.98,444.59 L256.05,444.67 L258.66,444.73 L260.53,444.78" fill="none" stroke="#000" stroke-width="2.0" stroke-linejoin="round" stroke-dasharray="3.6 4.0"/>
</g>
<rect x="180.0" y="385.9" width="80.5" height="65.10000000000002" fill="none" stroke="#2a2a2a" stroke-width="1.3"/>
<line x1="177.10" y1="448.40" x2="180.00" y2="448.40" stroke="#2a2a2a" stroke-width="1.1"/>
<text x="0" y="0" font-size="5.9" text-anchor="end" fill="#2a2a2a" style="color:#2a2a2a;stroke:none" transform="translate(175.90 451.10) scale(1 1.1)" letter-spacing="0.3">0.00</text>
<line x1="177.10" y1="437.76" x2="180.00" y2="437.76" stroke="#2a2a2a" stroke-width="1.1"/>
<line x1="177.10" y1="427.12" x2="180.00" y2="427.12" stroke="#2a2a2a" stroke-width="1.1"/>
<text x="0" y="0" font-size="5.9" text-anchor="end" fill="#2a2a2a" style="color:#2a2a2a;stroke:none" transform="translate(175.90 429.82) scale(1 1.1)" letter-spacing="0.3">0.04</text>
<line x1="177.10" y1="416.48" x2="180.00" y2="416.48" stroke="#2a2a2a" stroke-width="1.1"/>
<line x1="177.10" y1="405.84" x2="180.00" y2="405.84" stroke="#2a2a2a" stroke-width="1.1"/>
<text x="0" y="0" font-size="5.9" text-anchor="end" fill="#2a2a2a" style="color:#2a2a2a;stroke:none" transform="translate(175.90 408.54) scale(1 1.1)" letter-spacing="0.3">0.08</text>
<line x1="177.10" y1="395.20" x2="180.00" y2="395.20" stroke="#2a2a2a" stroke-width="1.1"/>
<line x1="181.80" y1="451.00" x2="181.80" y2="453.90" stroke="#2a2a2a" stroke-width="1.1"/>
<text x="0" y="0" font-size="5.9" text-anchor="middle" fill="#2a2a2a" style="color:#2a2a2a;stroke:none" transform="translate(181.80 461.50) scale(1 1.1)">0</text>
<line x1="194.55" y1="451.00" x2="194.55" y2="453.90" stroke="#2a2a2a" stroke-width="1.1"/>
<text x="0" y="0" font-size="5.9" text-anchor="middle" fill="#2a2a2a" style="color:#2a2a2a;stroke:none" transform="translate(194.55 461.50) scale(1 1.1)">20</text>
<line x1="207.30" y1="451.00" x2="207.30" y2="453.90" stroke="#2a2a2a" stroke-width="1.1"/>
<text x="0" y="0" font-size="5.9" text-anchor="middle" fill="#2a2a2a" style="color:#2a2a2a;stroke:none" transform="translate(207.30 461.50) scale(1 1.1)">40</text>
<line x1="220.05" y1="451.00" x2="220.05" y2="453.90" stroke="#2a2a2a" stroke-width="1.1"/>
<text x="0" y="0" font-size="5.9" text-anchor="middle" fill="#2a2a2a" style="color:#2a2a2a;stroke:none" transform="translate(220.05 461.50) scale(1 1.1)">60</text>
<line x1="232.80" y1="451.00" x2="232.80" y2="453.90" stroke="#2a2a2a" stroke-width="1.1"/>
<text x="0" y="0" font-size="5.9" text-anchor="middle" fill="#2a2a2a" style="color:#2a2a2a;stroke:none" transform="translate(232.80 461.50) scale(1 1.1)">80</text>
<line x1="245.55" y1="451.00" x2="245.55" y2="453.90" stroke="#2a2a2a" stroke-width="1.1"/>
<text x="0" y="0" font-size="5.9" text-anchor="middle" fill="#2a2a2a" style="color:#2a2a2a;stroke:none" transform="translate(245.55 461.50) scale(1 1.1)">100</text>
<line x1="258.30" y1="451.00" x2="258.30" y2="453.90" stroke="#2a2a2a" stroke-width="1.1"/>
<text x="0" y="0" font-size="5.9" text-anchor="middle" fill="#2a2a2a" style="color:#2a2a2a;stroke:none" transform="translate(258.30 461.50) scale(1 1.1)">120</text>
<text x="0" y="0" font-size="6.15" text-anchor="middle" fill="#222" style="color:#222;stroke-width:0.22px" transform="translate(158.80 418.45) rotate(-90) scale(1 1.22)">Monthly hazard</text>
<text x="0" y="0" font-size="6.15" text-anchor="middle" fill="#222" style="color:#222;stroke-width:0.22px" transform="translate(219.50 471.10) scale(1 1.22)">Time to death (months)</text>
<g clip-path="url(#cp23)">
<line x1="223.00" y1="390.60" x2="232.00" y2="390.60" stroke="#4e9e34" stroke-width="1.9"/>
<text x="233.40" y="392.40" font-size="5.0" text-anchor="start" fill="#333" style="color:#333;stroke:none">VERY LOW</text>
<line x1="223.00" y1="395.80" x2="232.00" y2="395.80" stroke="#b4b4b4" stroke-width="1.9"/>
<text x="233.40" y="397.60" font-size="5.0" text-anchor="start" fill="#333" style="color:#333;stroke:none">LOW</text>
<line x1="223.00" y1="401.00" x2="232.00" y2="401.00" stroke="#f2a33a" stroke-width="1.9"/>
<text x="233.40" y="402.80" font-size="5.0" text-anchor="start" fill="#333" style="color:#333;stroke:none">INTER</text>
<line x1="223.00" y1="406.20" x2="232.00" y2="406.20" stroke="#cc1a2c" stroke-width="1.9"/>
<text x="233.40" y="408.00" font-size="5.0" text-anchor="start" fill="#333" style="color:#333;stroke:none">HIGH</text>
<line x1="223.00" y1="411.40" x2="232.00" y2="411.40" stroke="#1a1058" stroke-width="1.9"/>
<text x="233.40" y="413.20" font-size="5.0" text-anchor="start" fill="#333" style="color:#333;stroke:none">VERY HIGH</text>
<line x1="238.00" y1="418.50" x2="241.90" y2="418.50" stroke="#000" stroke-width="1.9"/>
<text x="246.90" y="420.20" font-size="4.8" text-anchor="start" fill="#333" style="color:#333;stroke:none">total</text>
</g>
<line x1="348.70" y1="390.20" x2="357.30" y2="390.20" stroke="#4e9e34" stroke-width="1.7"/>
<text x="359.70" y="392.00" font-size="5.0" text-anchor="start" fill="#333" style="color:#333;stroke:none">VERY LOW</text>
<line x1="348.70" y1="395.35" x2="357.30" y2="395.35" stroke="#b4b4b4" stroke-width="1.7"/>
<text x="359.70" y="397.15" font-size="5.0" text-anchor="start" fill="#333" style="color:#333;stroke:none">LOW</text>
<line x1="348.70" y1="400.50" x2="357.30" y2="400.50" stroke="#f2a33a" stroke-width="1.7"/>
<text x="359.70" y="402.30" font-size="5.0" text-anchor="start" fill="#333" style="color:#333;stroke:none">INTER</text>
<line x1="348.70" y1="405.65" x2="357.30" y2="405.65" stroke="#cc1a2c" stroke-width="1.7"/>
<text x="359.70" y="407.45" font-size="5.0" text-anchor="start" fill="#333" style="color:#333;stroke:none">HIGH</text>
<line x1="348.70" y1="410.80" x2="357.30" y2="410.80" stroke="#1a1058" stroke-width="1.7"/>
<text x="359.70" y="412.60" font-size="5.0" text-anchor="start" fill="#333" style="color:#333;stroke:none">VERY HIGH</text>
<path d="M305.50,387.90 L328.46,393.15 L347.70,396.62 L366.95,399.92 L376.54,401.81 L384.25,402.42" fill="none" stroke="#b4b4b4" stroke-width="1.6099999999999999" stroke-linejoin="round"/>
<path d="M305.50,387.90 L318.87,390.28 L328.46,391.25 L347.70,392.78 L366.95,394.67 L376.54,396.07 L384.25,396.62" fill="none" stroke="#4e9e34" stroke-width="1.6099999999999999" stroke-linejoin="round"/>
<path d="M305.50,387.90 L309.22,392.17 L314.99,396.07 L322.69,398.94 L332.29,400.83 L341.94,402.78 L353.47,404.31 L366.95,406.63 L376.54,408.52 L384.25,408.94" fill="none" stroke="#f2a33a" stroke-width="1.6099999999999999" stroke-linejoin="round"/>
<path d="M305.50,387.90 L307.33,394.12 L311.16,400.83 L316.93,408.52 L324.63,413.34 L332.29,416.26 L340.00,418.16 L347.70,420.11 L357.30,421.63 L384.25,422.36" fill="none" stroke="#cc1a2c" stroke-width="1.6099999999999999" stroke-linejoin="round"/>
<path d="M305.50,387.90 L306.90,396.99 L309.22,406.63 L313.10,414.31 L318.87,420.11 L324.63,422.97 L332.29,424.87 L338.06,428.71 L340.97,430.66 L376.54,430.66" fill="none" stroke="#1a1058" stroke-width="1.6099999999999999" stroke-linejoin="round"/>
<path d="M305.50,387.90 L313.10,395.10 L320.75,397.96 L328.46,399.92 L347.70,402.78 L366.95,405.10 L384.25,406.99" fill="none" stroke="#000" stroke-width="1.9" stroke-linejoin="round" stroke-dasharray="2.7 2.6"/>
<line x1="305.50" y1="385.46" x2="305.50" y2="451.87" stroke="#2a2a2a" stroke-width="1.3"/>
<line x1="304.90" y1="451.27" x2="386.00" y2="451.27" stroke="#2a2a2a" stroke-width="1.3"/>
<line x1="302.90" y1="448.90" x2="305.50" y2="448.90" stroke="#2a2a2a" stroke-width="1.1"/>
<text x="0" y="0" font-size="5.9" text-anchor="end" fill="#2a2a2a" style="color:#2a2a2a;stroke:none" transform="translate(301.25 451.50) scale(1 1.1)" letter-spacing="0.35">0.0</text>
<line x1="302.90" y1="436.70" x2="305.50" y2="436.70" stroke="#2a2a2a" stroke-width="1.1"/>
<text x="0" y="0" font-size="5.9" text-anchor="end" fill="#2a2a2a" style="color:#2a2a2a;stroke:none" transform="translate(301.25 439.30) scale(1 1.1)" letter-spacing="0.35">0.2</text>
<line x1="302.90" y1="424.50" x2="305.50" y2="424.50" stroke="#2a2a2a" stroke-width="1.1"/>
<text x="0" y="0" font-size="5.9" text-anchor="end" fill="#2a2a2a" style="color:#2a2a2a;stroke:none" transform="translate(301.25 427.10) scale(1 1.1)" letter-spacing="0.35">0.4</text>
<line x1="302.90" y1="412.30" x2="305.50" y2="412.30" stroke="#2a2a2a" stroke-width="1.1"/>
<text x="0" y="0" font-size="5.9" text-anchor="end" fill="#2a2a2a" style="color:#2a2a2a;stroke:none" transform="translate(301.25 414.90) scale(1 1.1)" letter-spacing="0.35">0.6</text>
<line x1="302.90" y1="400.10" x2="305.50" y2="400.10" stroke="#2a2a2a" stroke-width="1.1"/>
<text x="0" y="0" font-size="5.9" text-anchor="end" fill="#2a2a2a" style="color:#2a2a2a;stroke:none" transform="translate(301.25 402.70) scale(1 1.1)" letter-spacing="0.35">0.8</text>
<line x1="302.90" y1="387.90" x2="305.50" y2="387.90" stroke="#2a2a2a" stroke-width="1.1"/>
<text x="0" y="0" font-size="5.9" text-anchor="end" fill="#2a2a2a" style="color:#2a2a2a;stroke:none" transform="translate(301.25 390.50) scale(1 1.1)" letter-spacing="0.35">1.0</text>
<line x1="305.50" y1="451.27" x2="305.50" y2="454.17" stroke="#2a2a2a" stroke-width="1.1"/>
<text x="0" y="0" font-size="5.9" text-anchor="middle" fill="#2a2a2a" style="color:#2a2a2a;stroke:none" transform="translate(305.50 461.47) scale(1 1.1)">0</text>
<line x1="316.28" y1="451.27" x2="316.28" y2="454.17" stroke="#2a2a2a" stroke-width="1.1"/>
<text x="0" y="0" font-size="5.9" text-anchor="middle" fill="#2a2a2a" style="color:#2a2a2a;stroke:none" transform="translate(316.28 461.47) scale(1 1.1)">20</text>
<line x1="327.06" y1="451.27" x2="327.06" y2="454.17" stroke="#2a2a2a" stroke-width="1.1"/>
<text x="0" y="0" font-size="5.9" text-anchor="middle" fill="#2a2a2a" style="color:#2a2a2a;stroke:none" transform="translate(327.06 461.47) scale(1 1.1)">40</text>
<line x1="337.84" y1="451.27" x2="337.84" y2="454.17" stroke="#2a2a2a" stroke-width="1.1"/>
<text x="0" y="0" font-size="5.9" text-anchor="middle" fill="#2a2a2a" style="color:#2a2a2a;stroke:none" transform="translate(337.84 461.47) scale(1 1.1)">60</text>
<line x1="348.62" y1="451.27" x2="348.62" y2="454.17" stroke="#2a2a2a" stroke-width="1.1"/>
<text x="0" y="0" font-size="5.9" text-anchor="middle" fill="#2a2a2a" style="color:#2a2a2a;stroke:none" transform="translate(348.62 461.47) scale(1 1.1)">80</text>
<line x1="359.40" y1="451.27" x2="359.40" y2="454.17" stroke="#2a2a2a" stroke-width="1.1"/>
<text x="0" y="0" font-size="5.9" text-anchor="middle" fill="#2a2a2a" style="color:#2a2a2a;stroke:none" transform="translate(359.40 461.47) scale(1 1.1)">100</text>
<line x1="370.18" y1="451.27" x2="370.18" y2="454.17" stroke="#2a2a2a" stroke-width="1.1"/>
<text x="0" y="0" font-size="5.9" text-anchor="middle" fill="#2a2a2a" style="color:#2a2a2a;stroke:none" transform="translate(370.18 461.47) scale(1 1.1)">120</text>
<line x1="380.96" y1="451.27" x2="380.96" y2="454.17" stroke="#2a2a2a" stroke-width="1.1"/>
<text x="0" y="0" font-size="5.9" text-anchor="middle" fill="#2a2a2a" style="color:#2a2a2a;stroke:none" transform="translate(380.96 461.47) scale(1 1.1)">140</text>
<text x="0" y="0" font-size="6.15" text-anchor="middle" fill="#222" style="color:#222;stroke-width:0.22px" transform="translate(279.30 425.20) rotate(-90) scale(1 1.22)">Estimated proportion not</text>
<text x="0" y="0" font-size="6.15" text-anchor="middle" fill="#222" style="color:#222;stroke-width:0.22px" transform="translate(287.80 425.20) rotate(-90) scale(1 1.22)">transformed</text>
<text x="0" y="0" font-size="6.15" text-anchor="middle" fill="#222" style="color:#222;stroke-width:0.22px" transform="translate(344.80 470.70) scale(1 1.22)">Time to AML (months)</text>
<line x1="307.80" y1="446.30" x2="317.30" y2="446.30" stroke="#000" stroke-width="1.9" stroke-dasharray="2.4 2.3"/>
<text x="320.10" y="447.90" font-size="4.6" text-anchor="start" fill="#333" style="color:#333;stroke:none">total</text>
<clipPath id="cp43"><rect x="430.6" y="385.9" width="79.69999999999999" height="65.20000000000005"/></clipPath>
<g clip-path="url(#cp43)">
<path d="M432.20,446.72 L510.56,446.72" fill="none" stroke="#4e9e34" stroke-width="1.7280000000000002" stroke-linejoin="round"/>
<path d="M432.20,443.46 L510.56,445.97" fill="none" stroke="#b4b4b4" stroke-width="1.512" stroke-linejoin="round"/>
<path d="M432.20,438.07 L433.47,438.31 L435.19,438.64 L437.24,439.03 L439.52,439.45 L441.92,439.87 L444.33,440.27 L446.81,440.64 L449.48,441.03 L452.26,441.41 L455.10,441.78 L457.94,442.14 L460.71,442.47 L463.43,442.77 L466.15,443.04 L468.87,443.30 L471.59,443.55 L474.31,443.77 L477.03,443.99 L479.75,444.20 L482.46,444.39 L485.17,444.57 L487.89,444.74 L490.64,444.88 L493.41,445.01 L496.43,445.11 L499.71,445.18 L503.01,445.24 L506.09,445.28 L508.68,445.32 L510.56,445.35 L510.56,447.47 L508.68,447.45 L506.09,447.43 L503.01,447.41 L499.71,447.39 L496.43,447.35 L493.41,447.30 L490.64,447.24 L487.89,447.17 L485.17,447.09 L482.46,447.01 L479.75,446.91 L477.03,446.81 L474.31,446.71 L471.59,446.60 L468.87,446.48 L466.15,446.36 L463.43,446.22 L460.71,446.08 L457.94,445.92 L455.10,445.75 L452.26,445.57 L449.48,445.39 L446.81,445.20 L444.33,445.02 L441.92,444.83 L439.52,444.63 L437.24,444.42 L435.19,444.23 L433.47,444.08 L432.20,443.96Z" fill="#f2a33a" fill-opacity="0.35" stroke="none"/>
<path d="M432.20,441.08 L433.47,441.25 L435.19,441.50 L437.24,441.79 L439.52,442.10 L441.92,442.42 L444.33,442.71 L446.81,442.98 L449.48,443.27 L452.26,443.55 L455.10,443.83 L457.94,444.09 L460.71,444.34 L463.43,444.56 L466.15,444.76 L468.87,444.96 L471.59,445.14 L474.31,445.30 L477.03,445.47 L479.75,445.62 L482.46,445.76 L485.17,445.90 L487.89,446.02 L490.64,446.13 L493.41,446.22 L496.43,446.29 L499.71,446.35 L503.01,446.39 L506.09,446.42 L508.68,446.45 L510.56,446.47" fill="none" stroke="#f2a33a" stroke-width="1.7280000000000002" stroke-linejoin="round"/>
<path d="M432.20,413.49 L433.47,414.82 L435.19,416.69 L437.24,418.90 L439.52,421.23 L441.92,423.51 L444.33,425.53 L446.81,427.34 L449.48,429.14 L452.26,430.86 L455.10,432.49 L457.94,433.99 L460.71,435.31 L463.43,436.43 L466.15,437.39 L468.87,438.21 L471.59,438.93 L474.31,439.58 L477.03,440.20 L479.75,440.77 L482.46,441.28 L485.17,441.71 L487.89,442.09 L490.64,442.42 L493.41,442.71 L496.43,442.94 L499.71,443.11 L503.01,443.24 L506.09,443.33 L508.68,443.40 L510.56,443.46" fill="none" stroke="#c45456" stroke-width="0.8" stroke-linejoin="round" stroke-dasharray="1.2 1.7"/>
<path d="M432.20,422.77 L433.47,424.19 L435.19,426.19 L437.24,428.54 L439.52,431.01 L441.92,433.34 L444.33,435.31 L446.43,436.93 L448.23,438.41 L450.16,439.77 L452.61,441.01 L456.00,442.15 L460.71,443.21 L467.66,444.19 L476.69,445.09 L486.66,445.90 L496.40,446.59 L504.75,447.16 L510.56,447.60" fill="none" stroke="#c45456" stroke-width="0.8" stroke-linejoin="round" stroke-dasharray="1.2 1.7"/>
<path d="M432.20,418.50 L433.12,419.39 L434.44,420.65 L435.98,422.13 L437.57,423.67 L439.06,425.10 L440.26,426.28 L441.13,427.17 L441.76,427.90 L442.29,428.53 L442.82,429.12 L443.46,429.73 L444.33,430.42 L445.45,431.20 L446.75,432.02 L448.17,432.86 L449.64,433.71 L451.11,434.53 L452.52,435.31 L453.89,436.06 L455.25,436.79 L456.62,437.51 L457.99,438.20 L459.35,438.84 L460.71,439.45 L462.07,439.99 L463.42,440.49 L464.78,440.95 L466.13,441.38 L467.48,441.80 L468.84,442.20 L470.11,442.60 L471.26,442.98 L472.42,443.34 L473.69,443.69 L475.19,444.02 L477.03,444.34 L479.28,444.65 L481.86,444.95 L484.66,445.24 L487.59,445.51 L490.54,445.75 L493.41,445.97 L496.43,446.15 L499.71,446.31 L503.01,446.44 L506.09,446.56 L508.68,446.65 L510.56,446.72" fill="none" stroke="#cc1a2c" stroke-width="1.9440000000000002" stroke-linejoin="round"/>
<path d="M432.20,382.14 L432.48,382.62 L432.81,383.18 L433.23,383.90 L433.77,384.87 L434.47,386.17 L435.38,387.91 L436.54,390.27 L437.96,393.22 L439.54,396.51 L441.19,399.88 L442.81,403.08 L444.33,405.84 L445.74,408.17 L447.12,410.28 L448.47,412.22 L449.82,414.02 L451.16,415.72 L452.52,417.38 L453.89,418.96 L455.25,420.44 L456.62,421.82 L457.99,423.12 L459.35,424.35 L460.71,425.53 L462.07,426.63 L463.42,427.66 L464.78,428.62 L466.13,429.52 L467.48,430.37 L468.84,431.17 L470.20,431.92 L471.57,432.60 L472.93,433.22 L474.30,433.81 L475.67,434.38 L477.03,434.93 L478.40,435.47 L479.76,435.99 L481.13,436.48 L482.49,436.95 L483.86,437.40 L485.22,437.82 L486.59,438.21 L487.96,438.58 L489.32,438.92 L490.69,439.24 L492.05,439.54 L493.41,439.82 L494.76,440.08 L496.10,440.31 L497.43,440.53 L498.77,440.72 L500.14,440.90 L501.54,441.08 L503.10,441.24 L504.82,441.39 L506.56,441.53 L508.19,441.65 L509.57,441.75 L510.56,441.83" fill="none" stroke="#4a4a7a" stroke-width="0.8" stroke-linejoin="round" stroke-dasharray="1.6 1.4"/>
<path d="M432.20,399.07 L433.03,400.87 L434.14,403.34 L435.47,406.29 L436.97,409.48 L438.58,412.70 L440.26,415.75 L442.02,418.75 L443.89,421.90 L445.88,425.09 L447.98,428.19 L450.19,431.10 L452.52,433.68 L454.71,435.95 L456.72,438.02 L458.84,439.89 L461.37,441.56 L464.60,443.04 L468.84,444.34 L474.81,445.41 L482.41,446.24 L490.72,446.88 L498.80,447.38 L505.73,447.77 L510.56,448.10" fill="none" stroke="#4a4a7a" stroke-width="0.8" stroke-linejoin="round" stroke-dasharray="1.6 1.4"/>
<path d="M432.20,387.15 L432.63,388.22 L433.23,389.69 L433.95,391.43 L434.71,393.31 L435.48,395.19 L436.20,396.94 L436.87,398.57 L437.55,400.22 L438.23,401.87 L438.91,403.51 L439.59,405.13 L440.26,406.72 L440.89,408.23 L441.47,409.67 L442.04,411.08 L442.67,412.53 L443.41,414.07 L444.33,415.75 L445.45,417.64 L446.75,419.71 L448.17,421.87 L449.64,424.03 L451.11,426.07 L452.52,427.91 L453.89,429.55 L455.25,431.08 L456.62,432.50 L457.99,433.82 L459.35,435.05 L460.71,436.19 L462.07,437.22 L463.42,438.13 L464.78,438.94 L466.13,439.69 L467.48,440.39 L468.84,441.08 L470.20,441.73 L471.57,442.34 L472.93,442.91 L474.30,443.43 L475.67,443.91 L477.03,444.34 L478.40,444.71 L479.76,445.03 L481.13,445.31 L482.49,445.55 L483.86,445.76 L485.22,445.97 L486.48,446.14 L487.62,446.28 L488.76,446.39 L490.02,446.49 L491.53,446.60 L493.41,446.72 L495.95,446.87 L499.10,447.03 L502.50,447.20 L505.78,447.36 L508.59,447.50 L510.56,447.60" fill="none" stroke="#1a1058" stroke-width="2.052" stroke-linejoin="round"/>
<path d="M432.20,436.69 L433.47,437.24 L435.19,438.01 L437.24,438.91 L439.52,439.87 L441.92,440.79 L444.33,441.58 L446.81,442.26 L449.48,442.92 L452.26,443.54 L455.10,444.11 L457.94,444.63 L460.71,445.09 L463.24,445.48 L465.52,445.80 L467.80,446.07 L470.32,446.30 L473.32,446.51 L477.03,446.72 L482.01,446.92 L488.17,447.10 L494.81,447.26 L501.23,447.40 L506.71,447.51 L510.56,447.60" fill="none" stroke="#000" stroke-width="2.0" stroke-linejoin="round" stroke-dasharray="3.6 4.0"/>
</g>
<rect x="430.6" y="385.9" width="79.69999999999999" height="65.20000000000005" fill="none" stroke="#2a2a2a" stroke-width="1.3"/>
<line x1="427.70" y1="448.60" x2="430.60" y2="448.60" stroke="#2a2a2a" stroke-width="1.1"/>
<text x="0" y="0" font-size="5.9" text-anchor="end" fill="#2a2a2a" style="color:#2a2a2a;stroke:none" transform="translate(426.50 451.30) scale(1 1.1)" letter-spacing="0.3">0.00</text>
<line x1="427.70" y1="436.06" x2="430.60" y2="436.06" stroke="#2a2a2a" stroke-width="1.1"/>
<text x="0" y="0" font-size="5.9" text-anchor="end" fill="#2a2a2a" style="color:#2a2a2a;stroke:none" transform="translate(426.50 438.76) scale(1 1.1)" letter-spacing="0.3">0.01</text>
<line x1="427.70" y1="423.52" x2="430.60" y2="423.52" stroke="#2a2a2a" stroke-width="1.1"/>
<text x="0" y="0" font-size="5.9" text-anchor="end" fill="#2a2a2a" style="color:#2a2a2a;stroke:none" transform="translate(426.50 426.22) scale(1 1.1)" letter-spacing="0.3">0.02</text>
<line x1="427.70" y1="410.98" x2="430.60" y2="410.98" stroke="#2a2a2a" stroke-width="1.1"/>
<text x="0" y="0" font-size="5.9" text-anchor="end" fill="#2a2a2a" style="color:#2a2a2a;stroke:none" transform="translate(426.50 413.68) scale(1 1.1)" letter-spacing="0.3">0.03</text>
<line x1="427.70" y1="398.44" x2="430.60" y2="398.44" stroke="#2a2a2a" stroke-width="1.1"/>
<text x="0" y="0" font-size="5.9" text-anchor="end" fill="#2a2a2a" style="color:#2a2a2a;stroke:none" transform="translate(426.50 401.14) scale(1 1.1)" letter-spacing="0.3">0.04</text>
<line x1="427.70" y1="385.90" x2="430.60" y2="385.90" stroke="#2a2a2a" stroke-width="1.1"/>
<text x="0" y="0" font-size="5.9" text-anchor="end" fill="#2a2a2a" style="color:#2a2a2a;stroke:none" transform="translate(426.50 388.60) scale(1 1.1)" letter-spacing="0.3">0.05</text>
<line x1="432.20" y1="451.10" x2="432.20" y2="454.00" stroke="#2a2a2a" stroke-width="1.1"/>
<text x="0" y="0" font-size="5.9" text-anchor="middle" fill="#2a2a2a" style="color:#2a2a2a;stroke:none" transform="translate(432.20 461.60) scale(1 1.1)">0</text>
<line x1="444.90" y1="451.10" x2="444.90" y2="454.00" stroke="#2a2a2a" stroke-width="1.1"/>
<text x="0" y="0" font-size="5.9" text-anchor="middle" fill="#2a2a2a" style="color:#2a2a2a;stroke:none" transform="translate(444.90 461.60) scale(1 1.1)">20</text>
<line x1="457.60" y1="451.10" x2="457.60" y2="454.00" stroke="#2a2a2a" stroke-width="1.1"/>
<text x="0" y="0" font-size="5.9" text-anchor="middle" fill="#2a2a2a" style="color:#2a2a2a;stroke:none" transform="translate(457.60 461.60) scale(1 1.1)">40</text>
<line x1="470.30" y1="451.10" x2="470.30" y2="454.00" stroke="#2a2a2a" stroke-width="1.1"/>
<text x="0" y="0" font-size="5.9" text-anchor="middle" fill="#2a2a2a" style="color:#2a2a2a;stroke:none" transform="translate(470.30 461.60) scale(1 1.1)">60</text>
<line x1="483.00" y1="451.10" x2="483.00" y2="454.00" stroke="#2a2a2a" stroke-width="1.1"/>
<text x="0" y="0" font-size="5.9" text-anchor="middle" fill="#2a2a2a" style="color:#2a2a2a;stroke:none" transform="translate(483.00 461.60) scale(1 1.1)">80</text>
<line x1="495.70" y1="451.10" x2="495.70" y2="454.00" stroke="#2a2a2a" stroke-width="1.1"/>
<text x="0" y="0" font-size="5.9" text-anchor="middle" fill="#2a2a2a" style="color:#2a2a2a;stroke:none" transform="translate(495.70 461.60) scale(1 1.1)">100</text>
<line x1="508.40" y1="451.10" x2="508.40" y2="454.00" stroke="#2a2a2a" stroke-width="1.1"/>
<text x="0" y="0" font-size="5.9" text-anchor="middle" fill="#2a2a2a" style="color:#2a2a2a;stroke:none" transform="translate(508.40 461.60) scale(1 1.1)">120</text>
<text x="0" y="0" font-size="6.15" text-anchor="middle" fill="#222" style="color:#222;stroke-width:0.22px" transform="translate(410.20 418.50) rotate(-90) scale(1 1.22)">Monthly AML hazard</text>
<text x="0" y="0" font-size="6.15" text-anchor="middle" fill="#222" style="color:#222;stroke-width:0.22px" transform="translate(469.80 471.20) scale(1 1.22)">Time to AML (months)</text>
<g clip-path="url(#cp43)">
<line x1="472.90" y1="390.60" x2="482.00" y2="390.60" stroke="#4e9e34" stroke-width="1.9"/>
<text x="483.40" y="392.40" font-size="5.0" text-anchor="start" fill="#333" style="color:#333;stroke:none">VERY LOW</text>
<line x1="472.90" y1="395.80" x2="482.00" y2="395.80" stroke="#b4b4b4" stroke-width="1.9"/>
<text x="483.40" y="397.60" font-size="5.0" text-anchor="start" fill="#333" style="color:#333;stroke:none">LOW</text>
<line x1="472.90" y1="401.00" x2="482.00" y2="401.00" stroke="#f2a33a" stroke-width="1.9"/>
<text x="483.40" y="402.80" font-size="5.0" text-anchor="start" fill="#333" style="color:#333;stroke:none">INTER</text>
<line x1="472.90" y1="406.20" x2="482.00" y2="406.20" stroke="#cc1a2c" stroke-width="1.9"/>
<text x="483.40" y="408.00" font-size="5.0" text-anchor="start" fill="#333" style="color:#333;stroke:none">HIGH</text>
<line x1="472.90" y1="411.40" x2="482.00" y2="411.40" stroke="#1a1058" stroke-width="1.9"/>
<text x="483.40" y="413.20" font-size="5.0" text-anchor="start" fill="#333" style="color:#333;stroke:none">VERY HIGH</text>
<line x1="488.20" y1="418.70" x2="492.10" y2="418.70" stroke="#000" stroke-width="1.9"/>
<text x="496.90" y="420.40" font-size="4.8" text-anchor="start" fill="#333" style="color:#333;stroke:none">total</text>
</g>
<text x="0" y="0" font-size="7.5" text-anchor="middle" fill="#222" style="color:#222;stroke-width:0.2px" transform="translate(14.40 527.40) rotate(-90) scale(1 1.1)">WPSS-A</text>
<text x="0" y="0" font-size="11.5" text-anchor="start" font-weight="bold" fill="#111" style="color:#111" transform="translate(37.10 487.40) scale(1 1.05)">Q</text>
<text x="0" y="0" font-size="11.5" text-anchor="start" font-weight="bold" fill="#111" style="color:#111" transform="translate(155.50 487.40) scale(1 1.05)">R</text>
<text x="0" y="0" font-size="11.5" text-anchor="start" font-weight="bold" fill="#111" style="color:#111" transform="translate(285.60 487.40) scale(1 1.05)">S</text>
<text x="0" y="0" font-size="11.5" text-anchor="start" font-weight="bold" fill="#111" style="color:#111" transform="translate(415.80 487.40) scale(1 1.05)">T</text>
<text x="0" y="0" font-size="7.75" text-anchor="middle" fill="#222" style="color:#222;stroke-width:0.2px" transform="translate(97.30 485.20) scale(1 1.1)">overall survival by</text>
<text x="0" y="0" font-size="7.75" text-anchor="middle" fill="#222" style="color:#222;stroke-width:0.2px" transform="translate(99.20 494.40) scale(1 1.1)">WPSS2011(A)</text>
<text x="0" y="0" font-size="7.75" text-anchor="middle" fill="#222" style="color:#222;stroke-width:0.2px" transform="translate(345.90 485.20) scale(1 1.1)">time to AML transformation</text>
<text x="0" y="0" font-size="7.75" text-anchor="middle" fill="#222" style="color:#222;stroke-width:0.2px" transform="translate(345.50 494.40) scale(1 1.1)">by WPSS2011(A)</text>
<text x="0" y="0" font-size="7.75" text-anchor="middle" fill="#222" style="color:#222;stroke-width:0.2px" transform="translate(220.20 494.70) scale(1 1.1)">WPSS2011(A)</text>
<text x="0" y="0" font-size="7.75" text-anchor="middle" fill="#222" style="color:#222;stroke-width:0.2px" transform="translate(470.80 494.70) scale(1 1.1)">WPSS2011(A)</text>
<path d="M60.20,501.10 L66.77,506.64 L74.46,514.32 L82.09,520.89 L89.77,525.83 L97.99,530.76 L107.32,533.74 L116.91,538.55 L126.56,543.36 L138.06,548.18" fill="none" stroke="#b4b4b4" stroke-width="1.6099999999999999" stroke-linejoin="round"/>
<path d="M60.20,501.10 L68.95,505.55 L79.92,511.03 L88.66,515.41 L95.29,519.80 L107.32,527.04 L116.91,529.91 L126.56,534.72 L132.33,537.03 L137.10,537.03" fill="none" stroke="#4e9e34" stroke-width="1.6099999999999999" stroke-linejoin="round"/>
<path d="M60.20,501.10 L61.79,503.54 L64.60,507.74 L68.95,515.41 L73.34,521.99 L78.80,528.57 L85.38,534.05 L90.89,537.34 L97.99,542.82 L107.32,545.31 L116.91,547.20 L126.56,549.70 L138.06,552.01" fill="none" stroke="#f2a33a" stroke-width="1.6099999999999999" stroke-linejoin="round"/>
<path d="M60.20,501.10 L61.79,505.97 L64.02,512.12 L66.77,524.18 L70.06,532.95 L74.46,539.53 L79.92,544.46 L86.49,548.30 L97.99,553.23 L107.32,555.61 L116.91,557.37 L126.56,558.16 L138.06,558.77" fill="none" stroke="#cc1a2c" stroke-width="1.6099999999999999" stroke-linejoin="round"/>
<path d="M60.20,501.10 L61.00,505.36 L62.37,515.41 L64.02,529.66 L66.24,540.62 L68.95,547.20 L73.34,552.68 L79.92,555.97 L88.66,557.07 L97.99,558.71 L116.91,559.69 L124.60,560.66 L132.33,561.63" fill="none" stroke="#1a1058" stroke-width="1.6099999999999999" stroke-linejoin="round"/>
<path d="M60.20,501.10 L62.32,505.36 L65.13,509.38 L68.95,515.41 L74.46,521.99 L81.03,528.57 L88.66,532.95 L95.82,537.34 L107.32,541.42 L116.91,544.34 L126.56,547.20 L138.06,550.06" fill="none" stroke="#000" stroke-width="1.9" stroke-linejoin="round" stroke-dasharray="2.7 2.6"/>
<line x1="102.50" y1="503.00" x2="112.00" y2="503.00" stroke="#4e9e34" stroke-width="1.7"/>
<text x="114.40" y="504.80" font-size="5.0" text-anchor="start" fill="#333" style="color:#333;stroke:none">VERY LOW</text>
<line x1="102.50" y1="508.10" x2="112.00" y2="508.10" stroke="#b4b4b4" stroke-width="1.7"/>
<text x="114.40" y="509.90" font-size="5.0" text-anchor="start" fill="#333" style="color:#333;stroke:none">LOW</text>
<line x1="102.50" y1="513.20" x2="112.00" y2="513.20" stroke="#f2a33a" stroke-width="1.7"/>
<text x="114.40" y="515.00" font-size="5.0" text-anchor="start" fill="#333" style="color:#333;stroke:none">INTER</text>
<line x1="102.50" y1="518.30" x2="112.00" y2="518.30" stroke="#cc1a2c" stroke-width="1.7"/>
<text x="114.40" y="520.10" font-size="5.0" text-anchor="start" fill="#333" style="color:#333;stroke:none">HIGH</text>
<line x1="102.50" y1="523.40" x2="112.00" y2="523.40" stroke="#1a1058" stroke-width="1.7"/>
<text x="114.40" y="525.20" font-size="5.0" text-anchor="start" fill="#333" style="color:#333;stroke:none">VERY HIGH</text>
<line x1="60.20" y1="498.66" x2="60.20" y2="564.96" stroke="#2a2a2a" stroke-width="1.3"/>
<line x1="59.60" y1="564.36" x2="139.80" y2="564.36" stroke="#2a2a2a" stroke-width="1.3"/>
<line x1="57.60" y1="562.00" x2="60.20" y2="562.00" stroke="#2a2a2a" stroke-width="1.1"/>
<text x="0" y="0" font-size="5.9" text-anchor="end" fill="#2a2a2a" style="color:#2a2a2a;stroke:none" transform="translate(55.95 564.60) scale(1 1.1)" letter-spacing="0.35">0.0</text>
<line x1="57.60" y1="549.82" x2="60.20" y2="549.82" stroke="#2a2a2a" stroke-width="1.1"/>
<text x="0" y="0" font-size="5.9" text-anchor="end" fill="#2a2a2a" style="color:#2a2a2a;stroke:none" transform="translate(55.95 552.42) scale(1 1.1)" letter-spacing="0.35">0.2</text>
<line x1="57.60" y1="537.64" x2="60.20" y2="537.64" stroke="#2a2a2a" stroke-width="1.1"/>
<text x="0" y="0" font-size="5.9" text-anchor="end" fill="#2a2a2a" style="color:#2a2a2a;stroke:none" transform="translate(55.95 540.24) scale(1 1.1)" letter-spacing="0.35">0.4</text>
<line x1="57.60" y1="525.46" x2="60.20" y2="525.46" stroke="#2a2a2a" stroke-width="1.1"/>
<text x="0" y="0" font-size="5.9" text-anchor="end" fill="#2a2a2a" style="color:#2a2a2a;stroke:none" transform="translate(55.95 528.06) scale(1 1.1)" letter-spacing="0.35">0.6</text>
<line x1="57.60" y1="513.28" x2="60.20" y2="513.28" stroke="#2a2a2a" stroke-width="1.1"/>
<text x="0" y="0" font-size="5.9" text-anchor="end" fill="#2a2a2a" style="color:#2a2a2a;stroke:none" transform="translate(55.95 515.88) scale(1 1.1)" letter-spacing="0.35">0.8</text>
<line x1="57.60" y1="501.10" x2="60.20" y2="501.10" stroke="#2a2a2a" stroke-width="1.1"/>
<text x="0" y="0" font-size="5.9" text-anchor="end" fill="#2a2a2a" style="color:#2a2a2a;stroke:none" transform="translate(55.95 503.70) scale(1 1.1)" letter-spacing="0.35">1.0</text>
<line x1="60.20" y1="564.36" x2="60.20" y2="567.26" stroke="#2a2a2a" stroke-width="1.1"/>
<text x="0" y="0" font-size="5.9" text-anchor="middle" fill="#2a2a2a" style="color:#2a2a2a;stroke:none" transform="translate(60.20 574.56) scale(1 1.1)">0</text>
<line x1="70.94" y1="564.36" x2="70.94" y2="567.26" stroke="#2a2a2a" stroke-width="1.1"/>
<text x="0" y="0" font-size="5.9" text-anchor="middle" fill="#2a2a2a" style="color:#2a2a2a;stroke:none" transform="translate(70.94 574.56) scale(1 1.1)">20</text>
<line x1="81.68" y1="564.36" x2="81.68" y2="567.26" stroke="#2a2a2a" stroke-width="1.1"/>
<text x="0" y="0" font-size="5.9" text-anchor="middle" fill="#2a2a2a" style="color:#2a2a2a;stroke:none" transform="translate(81.68 574.56) scale(1 1.1)">40</text>
<line x1="92.42" y1="564.36" x2="92.42" y2="567.26" stroke="#2a2a2a" stroke-width="1.1"/>
<text x="0" y="0" font-size="5.9" text-anchor="middle" fill="#2a2a2a" style="color:#2a2a2a;stroke:none" transform="translate(92.42 574.56) scale(1 1.1)">60</text>
<line x1="103.16" y1="564.36" x2="103.16" y2="567.26" stroke="#2a2a2a" stroke-width="1.1"/>
<text x="0" y="0" font-size="5.9" text-anchor="middle" fill="#2a2a2a" style="color:#2a2a2a;stroke:none" transform="translate(103.16 574.56) scale(1 1.1)">80</text>
<line x1="113.90" y1="564.36" x2="113.90" y2="567.26" stroke="#2a2a2a" stroke-width="1.1"/>
<text x="0" y="0" font-size="5.9" text-anchor="middle" fill="#2a2a2a" style="color:#2a2a2a;stroke:none" transform="translate(113.90 574.56) scale(1 1.1)">100</text>
<line x1="124.64" y1="564.36" x2="124.64" y2="567.26" stroke="#2a2a2a" stroke-width="1.1"/>
<text x="0" y="0" font-size="5.9" text-anchor="middle" fill="#2a2a2a" style="color:#2a2a2a;stroke:none" transform="translate(124.64 574.56) scale(1 1.1)">120</text>
<line x1="135.38" y1="564.36" x2="135.38" y2="567.26" stroke="#2a2a2a" stroke-width="1.1"/>
<text x="0" y="0" font-size="5.9" text-anchor="middle" fill="#2a2a2a" style="color:#2a2a2a;stroke:none" transform="translate(135.38 574.56) scale(1 1.1)">140</text>
<text x="0" y="0" font-size="6.15" text-anchor="middle" fill="#222" style="color:#222;stroke-width:0.22px" transform="translate(31.30 530.55) rotate(-90) scale(1 1.22)">Estimated proportion</text>
<text x="0" y="0" font-size="6.15" text-anchor="middle" fill="#222" style="color:#222;stroke-width:0.22px" transform="translate(38.80 530.55) rotate(-90) scale(1 1.22)">surviving</text>
<text x="0" y="0" font-size="6.15" text-anchor="middle" fill="#222" style="color:#222;stroke-width:0.22px" transform="translate(96.50 583.80) scale(1 1.22)">Time to death (months)</text>
<line x1="62.50" y1="559.40" x2="72.00" y2="559.40" stroke="#000" stroke-width="1.9" stroke-dasharray="2.4 2.3"/>
<text x="74.80" y="561.00" font-size="4.6" text-anchor="start" fill="#333" style="color:#333;stroke:none">total</text>
<clipPath id="cp24"><rect x="180.0" y="498.59999999999997" width="80.5" height="65.09999999999997"/></clipPath>
<g clip-path="url(#cp24)">
<path d="M181.80,559.42 L184.70,559.34 L188.51,559.22 L193.12,559.08 L198.43,558.92 L204.32,558.77 L210.68,558.63 L218.35,558.48 L227.59,558.32 L237.41,558.15 L246.83,558.00 L254.86,557.87 L260.53,557.78" fill="none" stroke="#4e9e34" stroke-width="1.62" stroke-linejoin="round"/>
<path d="M181.80,556.13 L260.53,557.30" fill="none" stroke="#b4b4b4" stroke-width="1.62" stroke-linejoin="round"/>
<path d="M181.80,549.81 L183.12,549.92 L184.92,550.07 L187.06,550.25 L189.43,550.45 L191.90,550.67 L194.36,550.89 L196.86,551.13 L199.52,551.39 L202.28,551.67 L205.09,551.95 L207.91,552.22 L210.68,552.48 L213.41,552.72 L216.14,552.95 L218.87,553.18 L221.60,553.40 L224.33,553.61 L227.06,553.81 L229.78,554.01 L232.48,554.20 L235.17,554.38 L237.88,554.55 L240.62,554.70 L243.38,554.83 L246.39,554.94 L249.67,555.02 L252.98,555.09 L256.05,555.14 L258.66,555.18 L260.53,555.21 L260.53,558.44 L258.66,558.41 L256.05,558.38 L252.98,558.35 L249.67,558.31 L246.39,558.25 L243.38,558.18 L240.62,558.09 L237.88,557.99 L235.17,557.88 L232.48,557.76 L229.78,557.63 L227.06,557.50 L224.33,557.37 L221.60,557.23 L218.87,557.08 L216.14,556.93 L213.41,556.77 L210.68,556.61 L207.91,556.44 L205.09,556.26 L202.28,556.07 L199.52,555.89 L196.86,555.71 L194.36,555.55 L191.90,555.40 L189.43,555.26 L187.06,555.13 L184.92,555.01 L183.12,554.91 L181.80,554.83Z" fill="#f2a33a" fill-opacity="0.35" stroke="none"/>
<path d="M181.80,552.32 L183.12,552.41 L184.92,552.54 L187.06,552.69 L189.43,552.85 L191.90,553.03 L194.36,553.22 L196.86,553.42 L199.52,553.64 L202.28,553.87 L205.09,554.10 L207.91,554.33 L210.68,554.55 L213.41,554.75 L216.14,554.94 L218.87,555.13 L221.60,555.31 L224.33,555.49 L227.06,555.66 L229.78,555.82 L232.48,555.98 L235.17,556.13 L237.88,556.27 L240.62,556.40 L243.38,556.51 L246.39,556.59 L249.67,556.66 L252.98,556.72 L256.05,556.76 L258.66,556.80 L260.53,556.82" fill="none" stroke="#f2a33a" stroke-width="1.7280000000000002" stroke-linejoin="round"/>
<path d="M181.80,537.25 L183.22,537.64 L185.22,538.19 L187.57,538.83 L190.03,539.50 L192.37,540.12 L194.36,540.63 L195.97,541.02 L197.40,541.34 L198.71,541.61 L199.96,541.87 L201.21,542.14 L202.52,542.44 L203.88,542.78 L205.24,543.13 L206.60,543.49 L207.96,543.85 L209.32,544.22 L210.68,544.60 L212.04,544.99 L213.40,545.40 L214.75,545.81 L216.11,546.21 L217.48,546.59 L218.84,546.93 L220.11,547.21 L221.28,547.44 L222.44,547.64 L223.72,547.84 L225.22,548.06 L227.06,548.33 L229.30,548.65 L231.87,549.02 L234.66,549.41 L237.58,549.80 L240.52,550.17 L243.38,550.49 L246.39,550.76 L249.67,551.03 L252.98,551.26 L256.05,551.47 L258.66,551.64 L260.53,551.77 L260.53,555.31 L258.66,555.20 L256.05,555.06 L252.98,554.89 L249.67,554.70 L246.39,554.49 L243.38,554.26 L240.52,554.00 L237.58,553.70 L234.66,553.38 L231.87,553.06 L229.30,552.76 L227.06,552.49 L225.22,552.28 L223.72,552.09 L222.44,551.93 L221.28,551.76 L220.11,551.58 L218.84,551.35 L217.48,551.07 L216.11,550.76 L214.75,550.43 L213.40,550.09 L212.04,549.76 L210.68,549.44 L209.32,549.14 L207.96,548.83 L206.60,548.53 L205.24,548.24 L203.88,547.95 L202.52,547.68 L201.21,547.43 L199.96,547.21 L198.71,547.00 L197.40,546.78 L195.97,546.52 L194.36,546.20 L192.37,545.78 L190.03,545.27 L187.57,544.72 L185.22,544.20 L183.22,543.75 L181.80,543.43Z" fill="#cc1a2c" fill-opacity="0.25" stroke="none"/>
<path d="M181.80,537.25 L183.22,537.64 L185.22,538.19 L187.57,538.83 L190.03,539.50 L192.37,540.12 L194.36,540.63 L195.97,541.02 L197.40,541.34 L198.71,541.61 L199.96,541.87 L201.21,542.14 L202.52,542.44 L203.88,542.78 L205.24,543.13 L206.60,543.49 L207.96,543.85 L209.32,544.22 L210.68,544.60 L212.04,544.99 L213.40,545.40 L214.75,545.81 L216.11,546.21 L217.48,546.59 L218.84,546.93 L220.11,547.21 L221.28,547.44 L222.44,547.64 L223.72,547.84 L225.22,548.06 L227.06,548.33 L229.30,548.65 L231.87,549.02 L234.66,549.41 L237.58,549.80 L240.52,550.17 L243.38,550.49 L246.39,550.76 L249.67,551.03 L252.98,551.26 L256.05,551.47 L258.66,551.64 L260.53,551.77" fill="none" stroke="#c45456" stroke-width="0.8" stroke-linejoin="round" stroke-dasharray="1.2 1.7"/>
<path d="M181.80,543.43 L183.22,543.75 L185.22,544.20 L187.57,544.72 L190.03,545.27 L192.37,545.78 L194.36,546.20 L195.97,546.52 L197.40,546.78 L198.71,547.00 L199.96,547.21 L201.21,547.43 L202.52,547.68 L203.88,547.95 L205.24,548.24 L206.60,548.53 L207.96,548.83 L209.32,549.14 L210.68,549.44 L212.04,549.76 L213.40,550.09 L214.75,550.43 L216.11,550.76 L217.48,551.07 L218.84,551.35 L220.11,551.58 L221.28,551.76 L222.44,551.93 L223.72,552.09 L225.22,552.28 L227.06,552.49 L229.30,552.76 L231.87,553.06 L234.66,553.38 L237.58,553.70 L240.52,554.00 L243.38,554.26 L246.39,554.49 L249.67,554.70 L252.98,554.89 L256.05,555.06 L258.66,555.20 L260.53,555.31" fill="none" stroke="#c45456" stroke-width="0.8" stroke-linejoin="round" stroke-dasharray="1.2 1.7"/>
<path d="M181.80,540.34 L183.22,540.69 L185.22,541.19 L187.57,541.78 L190.03,542.38 L192.37,542.95 L194.36,543.42 L195.97,543.77 L197.40,544.06 L198.71,544.31 L199.96,544.54 L201.21,544.78 L202.52,545.06 L203.88,545.36 L205.24,545.68 L206.60,546.01 L207.96,546.34 L209.32,546.68 L210.68,547.02 L212.04,547.37 L213.40,547.75 L214.75,548.12 L216.11,548.49 L217.48,548.83 L218.84,549.14 L220.11,549.39 L221.28,549.60 L222.44,549.78 L223.72,549.97 L225.22,550.17 L227.06,550.41 L229.30,550.71 L231.87,551.04 L234.66,551.40 L237.58,551.75 L240.52,552.08 L243.38,552.37 L246.39,552.63 L249.67,552.86 L252.98,553.08 L256.05,553.27 L258.66,553.42 L260.53,553.54" fill="none" stroke="#cc1a2c" stroke-width="1.9440000000000002" stroke-linejoin="round"/>
<path d="M181.80,495.98 L182.13,496.28 L182.52,496.58 L183.02,497.00 L183.65,497.64 L184.42,498.62 L185.37,500.06 L186.56,502.14 L188.00,504.79 L189.58,507.79 L191.22,510.89 L192.85,513.85 L194.36,516.44 L195.77,518.67 L197.14,520.74 L198.49,522.68 L199.83,524.50 L201.17,526.23 L202.52,527.89 L203.88,529.46 L205.24,530.94 L206.60,532.32 L207.96,533.63 L209.32,534.87 L210.68,536.05 L212.04,537.17 L213.40,538.23 L214.75,539.21 L216.11,540.13 L217.48,540.99 L218.84,541.77 L220.21,542.48 L221.58,543.12 L222.95,543.69 L224.32,544.20 L225.69,544.66 L227.06,545.06 L228.43,545.41 L229.79,545.70 L231.15,545.93 L232.50,546.11 L233.86,546.24 L235.22,546.33 L236.58,546.37 L237.94,546.34 L239.30,546.27 L240.66,546.16 L242.02,546.02 L243.38,545.85 L244.73,545.66 L246.07,545.42 L247.41,545.15 L248.76,544.86 L250.13,544.54 L251.54,544.21 L253.10,543.82 L254.81,543.37 L256.55,542.89 L258.17,542.43 L259.54,542.05 L260.53,541.77" fill="none" stroke="#4a4a7a" stroke-width="0.8" stroke-linejoin="round" stroke-dasharray="1.6 1.4"/>
<path d="M181.80,509.92 L182.68,511.49 L183.86,513.63 L185.27,516.19 L186.86,518.98 L188.55,521.84 L190.28,524.60 L192.05,527.40 L193.93,530.41 L195.91,533.49 L198.00,536.50 L200.20,539.31 L202.52,541.77 L205.00,543.90 L207.65,545.80 L210.42,547.49 L213.24,549.01 L216.07,550.36 L218.84,551.58 L221.46,552.59 L223.96,553.36 L226.47,553.98 L229.10,554.51 L231.97,555.04 L235.22,555.66 L239.22,556.39 L243.94,557.17 L248.90,557.95 L253.64,558.68 L257.67,559.30 L260.53,559.74" fill="none" stroke="#4a4a7a" stroke-width="0.8" stroke-linejoin="round" stroke-dasharray="1.6 1.4"/>
<path d="M181.80,499.69 L182.28,500.63 L182.95,501.93 L183.74,503.47 L184.59,505.13 L185.43,506.77 L186.20,508.28 L186.90,509.68 L187.58,511.09 L188.26,512.49 L188.93,513.85 L189.60,515.18 L190.28,516.44 L190.91,517.56 L191.49,518.55 L192.06,519.49 L192.70,520.48 L193.44,521.60 L194.36,522.96 L195.48,524.62 L196.78,526.53 L198.18,528.58 L199.65,530.65 L201.11,532.63 L202.52,534.41 L203.88,535.99 L205.24,537.49 L206.60,538.89 L207.96,540.21 L209.32,541.43 L210.68,542.57 L212.04,543.59 L213.40,544.51 L214.75,545.34 L216.11,546.09 L217.48,546.81 L218.84,547.50 L220.21,548.16 L221.58,548.78 L222.95,549.35 L224.32,549.87 L225.69,550.35 L227.06,550.78 L228.43,551.15 L229.79,551.45 L231.15,551.71 L232.50,551.94 L233.86,552.15 L235.22,552.37 L236.58,552.59 L237.94,552.80 L239.30,552.99 L240.66,553.18 L242.02,553.36 L243.38,553.54 L244.73,553.72 L246.07,553.90 L247.41,554.07 L248.76,554.24 L250.13,554.40 L251.54,554.55 L253.10,554.68 L254.81,554.81 L256.55,554.93 L258.17,555.03 L259.54,555.12 L260.53,555.18" fill="none" stroke="#1a1058" stroke-width="2.052" stroke-linejoin="round"/>
<path d="M181.80,551.26 L183.12,551.51 L184.92,551.86 L187.06,552.27 L189.43,552.71 L191.90,553.14 L194.36,553.54 L196.86,553.91 L199.52,554.29 L202.28,554.67 L205.09,555.03 L207.91,555.36 L210.68,555.66 L213.41,555.91 L216.14,556.13 L218.87,556.32 L221.60,556.50 L224.33,556.66 L227.06,556.82 L229.78,556.98 L232.48,557.13 L235.17,557.26 L237.88,557.39 L240.62,557.51 L243.38,557.62 L246.39,557.72 L249.67,557.82 L252.98,557.91 L256.05,557.98 L258.66,558.05 L260.53,558.10" fill="none" stroke="#000" stroke-width="2.0" stroke-linejoin="round" stroke-dasharray="3.6 4.0"/>
</g>
<rect x="180.0" y="498.59999999999997" width="80.5" height="65.09999999999997" fill="none" stroke="#2a2a2a" stroke-width="1.3"/>
<line x1="177.10" y1="561.70" x2="180.00" y2="561.70" stroke="#2a2a2a" stroke-width="1.1"/>
<text x="0" y="0" font-size="5.9" text-anchor="end" fill="#2a2a2a" style="color:#2a2a2a;stroke:none" transform="translate(175.90 564.40) scale(1 1.1)" letter-spacing="0.3">0.00</text>
<line x1="177.10" y1="551.10" x2="180.00" y2="551.10" stroke="#2a2a2a" stroke-width="1.1"/>
<line x1="177.10" y1="540.50" x2="180.00" y2="540.50" stroke="#2a2a2a" stroke-width="1.1"/>
<text x="0" y="0" font-size="5.9" text-anchor="end" fill="#2a2a2a" style="color:#2a2a2a;stroke:none" transform="translate(175.90 543.20) scale(1 1.1)" letter-spacing="0.3">0.04</text>
<line x1="177.10" y1="529.90" x2="180.00" y2="529.90" stroke="#2a2a2a" stroke-width="1.1"/>
<line x1="177.10" y1="519.30" x2="180.00" y2="519.30" stroke="#2a2a2a" stroke-width="1.1"/>
<text x="0" y="0" font-size="5.9" text-anchor="end" fill="#2a2a2a" style="color:#2a2a2a;stroke:none" transform="translate(175.90 522.00) scale(1 1.1)" letter-spacing="0.3">0.08</text>
<line x1="177.10" y1="508.70" x2="180.00" y2="508.70" stroke="#2a2a2a" stroke-width="1.1"/>
<line x1="181.80" y1="563.70" x2="181.80" y2="566.60" stroke="#2a2a2a" stroke-width="1.1"/>
<text x="0" y="0" font-size="5.9" text-anchor="middle" fill="#2a2a2a" style="color:#2a2a2a;stroke:none" transform="translate(181.80 574.20) scale(1 1.1)">0</text>
<line x1="194.55" y1="563.70" x2="194.55" y2="566.60" stroke="#2a2a2a" stroke-width="1.1"/>
<text x="0" y="0" font-size="5.9" text-anchor="middle" fill="#2a2a2a" style="color:#2a2a2a;stroke:none" transform="translate(194.55 574.20) scale(1 1.1)">20</text>
<line x1="207.30" y1="563.70" x2="207.30" y2="566.60" stroke="#2a2a2a" stroke-width="1.1"/>
<text x="0" y="0" font-size="5.9" text-anchor="middle" fill="#2a2a2a" style="color:#2a2a2a;stroke:none" transform="translate(207.30 574.20) scale(1 1.1)">40</text>
<line x1="220.05" y1="563.70" x2="220.05" y2="566.60" stroke="#2a2a2a" stroke-width="1.1"/>
<text x="0" y="0" font-size="5.9" text-anchor="middle" fill="#2a2a2a" style="color:#2a2a2a;stroke:none" transform="translate(220.05 574.20) scale(1 1.1)">60</text>
<line x1="232.80" y1="563.70" x2="232.80" y2="566.60" stroke="#2a2a2a" stroke-width="1.1"/>
<text x="0" y="0" font-size="5.9" text-anchor="middle" fill="#2a2a2a" style="color:#2a2a2a;stroke:none" transform="translate(232.80 574.20) scale(1 1.1)">80</text>
<line x1="245.55" y1="563.70" x2="245.55" y2="566.60" stroke="#2a2a2a" stroke-width="1.1"/>
<text x="0" y="0" font-size="5.9" text-anchor="middle" fill="#2a2a2a" style="color:#2a2a2a;stroke:none" transform="translate(245.55 574.20) scale(1 1.1)">100</text>
<line x1="258.30" y1="563.70" x2="258.30" y2="566.60" stroke="#2a2a2a" stroke-width="1.1"/>
<text x="0" y="0" font-size="5.9" text-anchor="middle" fill="#2a2a2a" style="color:#2a2a2a;stroke:none" transform="translate(258.30 574.20) scale(1 1.1)">120</text>
<text x="0" y="0" font-size="6.15" text-anchor="middle" fill="#222" style="color:#222;stroke-width:0.22px" transform="translate(158.80 531.15) rotate(-90) scale(1 1.22)">Monthly hazard</text>
<text x="0" y="0" font-size="6.15" text-anchor="middle" fill="#222" style="color:#222;stroke-width:0.22px" transform="translate(219.50 583.80) scale(1 1.22)">Time to death (months)</text>
<g clip-path="url(#cp24)">
<line x1="223.00" y1="503.40" x2="232.00" y2="503.40" stroke="#4e9e34" stroke-width="1.9"/>
<text x="233.40" y="505.20" font-size="5.0" text-anchor="start" fill="#333" style="color:#333;stroke:none">VERY LOW</text>
<line x1="223.00" y1="508.70" x2="232.00" y2="508.70" stroke="#b4b4b4" stroke-width="1.9"/>
<text x="233.40" y="510.50" font-size="5.0" text-anchor="start" fill="#333" style="color:#333;stroke:none">LOW</text>
<line x1="223.00" y1="514.00" x2="232.00" y2="514.00" stroke="#f2a33a" stroke-width="1.9"/>
<text x="233.40" y="515.80" font-size="5.0" text-anchor="start" fill="#333" style="color:#333;stroke:none">INTER</text>
<line x1="223.00" y1="519.30" x2="232.00" y2="519.30" stroke="#cc1a2c" stroke-width="1.9"/>
<text x="233.40" y="521.10" font-size="5.0" text-anchor="start" fill="#333" style="color:#333;stroke:none">HIGH</text>
<line x1="223.00" y1="524.60" x2="232.00" y2="524.60" stroke="#1a1058" stroke-width="1.9"/>
<text x="233.40" y="526.40" font-size="5.0" text-anchor="start" fill="#333" style="color:#333;stroke:none">VERY HIGH</text>
<line x1="238.00" y1="531.60" x2="241.90" y2="531.60" stroke="#000" stroke-width="1.9"/>
<text x="246.90" y="533.30" font-size="4.8" text-anchor="start" fill="#333" style="color:#333;stroke:none">total</text>
</g>
<line x1="348.70" y1="503.20" x2="357.30" y2="503.20" stroke="#4e9e34" stroke-width="1.7"/>
<text x="359.70" y="505.00" font-size="5.0" text-anchor="start" fill="#333" style="color:#333;stroke:none">VERY LOW</text>
<line x1="348.70" y1="508.35" x2="357.30" y2="508.35" stroke="#b4b4b4" stroke-width="1.7"/>
<text x="359.70" y="510.15" font-size="5.0" text-anchor="start" fill="#333" style="color:#333;stroke:none">LOW</text>
<line x1="348.70" y1="513.50" x2="357.30" y2="513.50" stroke="#f2a33a" stroke-width="1.7"/>
<text x="359.70" y="515.30" font-size="5.0" text-anchor="start" fill="#333" style="color:#333;stroke:none">INTER</text>
<line x1="348.70" y1="518.65" x2="357.30" y2="518.65" stroke="#cc1a2c" stroke-width="1.7"/>
<text x="359.70" y="520.45" font-size="5.0" text-anchor="start" fill="#333" style="color:#333;stroke:none">HIGH</text>
<line x1="348.70" y1="523.80" x2="357.30" y2="523.80" stroke="#1a1058" stroke-width="1.7"/>
<text x="359.70" y="525.60" font-size="5.0" text-anchor="start" fill="#333" style="color:#333;stroke:none">VERY HIGH</text>
<path d="M305.50,500.60 L328.46,506.27 L347.70,509.32 L366.95,511.64 L376.54,513.53 L384.25,514.51" fill="none" stroke="#b4b4b4" stroke-width="1.6099999999999999" stroke-linejoin="round"/>
<path d="M305.50,500.60 L318.87,502.98 L328.46,503.95 L347.70,505.85 L366.95,508.77 L376.54,510.12 L384.25,510.66" fill="none" stroke="#4e9e34" stroke-width="1.6099999999999999" stroke-linejoin="round"/>
<path d="M305.50,500.60 L309.22,504.87 L314.99,508.77 L322.69,511.64 L332.29,513.53 L341.94,515.12 L353.47,517.01 L366.95,519.33 L376.54,520.30 L384.25,520.85" fill="none" stroke="#f2a33a" stroke-width="1.6099999999999999" stroke-linejoin="round"/>
<path d="M305.50,500.60 L307.33,506.82 L311.16,515.48 L316.93,523.17 L324.63,527.99 L332.29,529.88 L340.00,531.83 L347.70,533.72 L349.59,535.07 L384.25,535.07" fill="none" stroke="#cc1a2c" stroke-width="1.6099999999999999" stroke-linejoin="round"/>
<path d="M305.50,500.60 L306.90,509.69 L309.22,519.33 L313.10,527.01 L318.87,532.81 L324.63,534.70 L332.29,536.65 L338.06,538.54 L340.97,540.86 L376.54,540.86" fill="none" stroke="#1a1058" stroke-width="1.6099999999999999" stroke-linejoin="round"/>
<path d="M305.50,500.60 L313.10,507.80 L320.75,510.66 L328.46,512.62 L347.70,515.48 L366.95,517.80 L384.25,520.85" fill="none" stroke="#000" stroke-width="1.9" stroke-linejoin="round" stroke-dasharray="2.7 2.6"/>
<line x1="305.50" y1="498.16" x2="305.50" y2="564.57" stroke="#2a2a2a" stroke-width="1.3"/>
<line x1="304.90" y1="563.97" x2="386.00" y2="563.97" stroke="#2a2a2a" stroke-width="1.3"/>
<line x1="302.90" y1="561.60" x2="305.50" y2="561.60" stroke="#2a2a2a" stroke-width="1.1"/>
<text x="0" y="0" font-size="5.9" text-anchor="end" fill="#2a2a2a" style="color:#2a2a2a;stroke:none" transform="translate(301.25 564.20) scale(1 1.1)" letter-spacing="0.35">0.0</text>
<line x1="302.90" y1="549.40" x2="305.50" y2="549.40" stroke="#2a2a2a" stroke-width="1.1"/>
<text x="0" y="0" font-size="5.9" text-anchor="end" fill="#2a2a2a" style="color:#2a2a2a;stroke:none" transform="translate(301.25 552.00) scale(1 1.1)" letter-spacing="0.35">0.2</text>
<line x1="302.90" y1="537.20" x2="305.50" y2="537.20" stroke="#2a2a2a" stroke-width="1.1"/>
<text x="0" y="0" font-size="5.9" text-anchor="end" fill="#2a2a2a" style="color:#2a2a2a;stroke:none" transform="translate(301.25 539.80) scale(1 1.1)" letter-spacing="0.35">0.4</text>
<line x1="302.90" y1="525.00" x2="305.50" y2="525.00" stroke="#2a2a2a" stroke-width="1.1"/>
<text x="0" y="0" font-size="5.9" text-anchor="end" fill="#2a2a2a" style="color:#2a2a2a;stroke:none" transform="translate(301.25 527.60) scale(1 1.1)" letter-spacing="0.35">0.6</text>
<line x1="302.90" y1="512.80" x2="305.50" y2="512.80" stroke="#2a2a2a" stroke-width="1.1"/>
<text x="0" y="0" font-size="5.9" text-anchor="end" fill="#2a2a2a" style="color:#2a2a2a;stroke:none" transform="translate(301.25 515.40) scale(1 1.1)" letter-spacing="0.35">0.8</text>
<line x1="302.90" y1="500.60" x2="305.50" y2="500.60" stroke="#2a2a2a" stroke-width="1.1"/>
<text x="0" y="0" font-size="5.9" text-anchor="end" fill="#2a2a2a" style="color:#2a2a2a;stroke:none" transform="translate(301.25 503.20) scale(1 1.1)" letter-spacing="0.35">1.0</text>
<line x1="305.50" y1="563.97" x2="305.50" y2="566.87" stroke="#2a2a2a" stroke-width="1.1"/>
<text x="0" y="0" font-size="5.9" text-anchor="middle" fill="#2a2a2a" style="color:#2a2a2a;stroke:none" transform="translate(305.50 574.17) scale(1 1.1)">0</text>
<line x1="316.28" y1="563.97" x2="316.28" y2="566.87" stroke="#2a2a2a" stroke-width="1.1"/>
<text x="0" y="0" font-size="5.9" text-anchor="middle" fill="#2a2a2a" style="color:#2a2a2a;stroke:none" transform="translate(316.28 574.17) scale(1 1.1)">20</text>
<line x1="327.06" y1="563.97" x2="327.06" y2="566.87" stroke="#2a2a2a" stroke-width="1.1"/>
<text x="0" y="0" font-size="5.9" text-anchor="middle" fill="#2a2a2a" style="color:#2a2a2a;stroke:none" transform="translate(327.06 574.17) scale(1 1.1)">40</text>
<line x1="337.84" y1="563.97" x2="337.84" y2="566.87" stroke="#2a2a2a" stroke-width="1.1"/>
<text x="0" y="0" font-size="5.9" text-anchor="middle" fill="#2a2a2a" style="color:#2a2a2a;stroke:none" transform="translate(337.84 574.17) scale(1 1.1)">60</text>
<line x1="348.62" y1="563.97" x2="348.62" y2="566.87" stroke="#2a2a2a" stroke-width="1.1"/>
<text x="0" y="0" font-size="5.9" text-anchor="middle" fill="#2a2a2a" style="color:#2a2a2a;stroke:none" transform="translate(348.62 574.17) scale(1 1.1)">80</text>
<line x1="359.40" y1="563.97" x2="359.40" y2="566.87" stroke="#2a2a2a" stroke-width="1.1"/>
<text x="0" y="0" font-size="5.9" text-anchor="middle" fill="#2a2a2a" style="color:#2a2a2a;stroke:none" transform="translate(359.40 574.17) scale(1 1.1)">100</text>
<line x1="370.18" y1="563.97" x2="370.18" y2="566.87" stroke="#2a2a2a" stroke-width="1.1"/>
<text x="0" y="0" font-size="5.9" text-anchor="middle" fill="#2a2a2a" style="color:#2a2a2a;stroke:none" transform="translate(370.18 574.17) scale(1 1.1)">120</text>
<line x1="380.96" y1="563.97" x2="380.96" y2="566.87" stroke="#2a2a2a" stroke-width="1.1"/>
<text x="0" y="0" font-size="5.9" text-anchor="middle" fill="#2a2a2a" style="color:#2a2a2a;stroke:none" transform="translate(380.96 574.17) scale(1 1.1)">140</text>
<text x="0" y="0" font-size="6.15" text-anchor="middle" fill="#222" style="color:#222;stroke-width:0.22px" transform="translate(280.00 531.80) rotate(-90) scale(1 1.22)">Estimated proportion not</text>
<text x="0" y="0" font-size="6.15" text-anchor="middle" fill="#222" style="color:#222;stroke-width:0.22px" transform="translate(288.50 531.80) rotate(-90) scale(1 1.22)">transformed</text>
<text x="0" y="0" font-size="6.15" text-anchor="middle" fill="#222" style="color:#222;stroke-width:0.22px" transform="translate(344.80 583.40) scale(1 1.22)">Time to AML (months)</text>
<line x1="307.80" y1="559.00" x2="317.30" y2="559.00" stroke="#000" stroke-width="1.9" stroke-dasharray="2.4 2.3"/>
<text x="320.10" y="560.60" font-size="4.6" text-anchor="start" fill="#333" style="color:#333;stroke:none">total</text>
<clipPath id="cp44"><rect x="430.6" y="498.59999999999997" width="79.69999999999999" height="65.19999999999999"/></clipPath>
<g clip-path="url(#cp44)">
<path d="M432.20,560.08 L510.56,560.21" fill="none" stroke="#4e9e34" stroke-width="1.7280000000000002" stroke-linejoin="round"/>
<path d="M432.20,557.82 L510.56,559.71" fill="none" stroke="#b4b4b4" stroke-width="1.512" stroke-linejoin="round"/>
<path d="M432.20,549.99 L433.47,550.32 L435.19,550.79 L437.24,551.34 L439.52,551.93 L441.92,552.51 L444.33,553.05 L446.81,553.55 L449.48,554.07 L452.26,554.59 L455.10,555.08 L457.94,555.54 L460.71,555.94 L463.43,556.28 L466.15,556.57 L468.87,556.82 L471.59,557.05 L474.31,557.26 L477.03,557.47 L479.75,557.68 L482.46,557.87 L485.17,558.04 L487.89,558.21 L490.64,558.36 L493.41,558.49 L496.43,558.61 L499.71,558.72 L503.01,558.81 L506.09,558.89 L508.68,558.95 L510.56,559.00 L510.56,561.04 L508.68,561.02 L506.09,560.99 L503.01,560.95 L499.71,560.91 L496.43,560.85 L493.41,560.80 L490.64,560.73 L487.89,560.66 L485.17,560.58 L482.46,560.50 L479.75,560.40 L477.03,560.30 L474.31,560.20 L471.59,560.10 L468.87,559.99 L466.15,559.87 L463.43,559.73 L460.71,559.57 L457.94,559.37 L455.10,559.15 L452.26,558.92 L449.48,558.67 L446.81,558.42 L444.33,558.18 L441.92,557.92 L439.52,557.64 L437.24,557.35 L435.19,557.09 L433.47,556.86 L432.20,556.70Z" fill="#f2a33a" fill-opacity="0.35" stroke="none"/>
<path d="M432.20,553.41 L433.47,553.65 L435.19,554.00 L437.24,554.41 L439.52,554.84 L441.92,555.28 L444.33,555.67 L446.81,556.05 L449.48,556.43 L452.26,556.82 L455.10,557.18 L457.94,557.52 L460.71,557.82 L463.43,558.07 L466.15,558.28 L468.87,558.47 L471.59,558.64 L474.31,558.79 L477.03,558.95 L479.75,559.10 L482.46,559.24 L485.17,559.38 L487.89,559.50 L490.64,559.61 L493.41,559.71 L496.43,559.80 L499.71,559.87 L503.01,559.94 L506.09,560.00 L508.68,560.05 L510.56,560.08" fill="none" stroke="#f2a33a" stroke-width="1.7280000000000002" stroke-linejoin="round"/>
<path d="M432.20,526.57 L433.47,527.78 L435.19,529.46 L437.24,531.44 L439.52,533.58 L441.92,535.70 L444.33,537.66 L446.81,539.53 L449.48,541.47 L452.26,543.40 L455.10,545.25 L457.94,546.93 L460.71,548.37 L463.43,549.53 L466.15,550.48 L468.87,551.27 L471.59,551.95 L474.31,552.56 L477.03,553.15 L479.75,553.72 L482.46,554.21 L485.17,554.64 L487.89,555.02 L490.64,555.36 L493.41,555.67 L496.43,555.96 L499.71,556.20 L503.01,556.40 L506.09,556.57 L508.68,556.70 L510.56,556.81" fill="none" stroke="#c45456" stroke-width="0.8" stroke-linejoin="round" stroke-dasharray="1.2 1.7"/>
<path d="M432.20,535.64 L433.47,536.97 L435.19,538.85 L437.24,541.05 L439.52,543.37 L441.92,545.58 L444.33,547.48 L446.43,549.10 L448.23,550.61 L450.16,552.01 L452.61,553.32 L456.00,554.54 L460.71,555.67 L467.66,556.74 L476.69,557.74 L486.66,558.64 L496.40,559.44 L504.75,560.09 L510.56,560.59" fill="none" stroke="#c45456" stroke-width="0.8" stroke-linejoin="round" stroke-dasharray="1.2 1.7"/>
<path d="M432.20,531.61 L433.12,532.40 L434.44,533.51 L435.98,534.82 L437.57,536.19 L439.06,537.47 L440.26,538.54 L441.13,539.36 L441.76,540.05 L442.29,540.65 L442.82,541.23 L443.46,541.85 L444.33,542.57 L445.45,543.41 L446.75,544.33 L448.17,545.29 L449.64,546.24 L451.11,547.16 L452.52,547.99 L453.89,548.74 L455.25,549.45 L456.62,550.11 L457.99,550.74 L459.35,551.33 L460.71,551.89 L462.07,552.42 L463.42,552.90 L464.78,553.34 L466.13,553.76 L467.48,554.16 L468.84,554.54 L470.11,554.90 L471.26,555.22 L472.42,555.52 L473.69,555.82 L475.19,556.12 L477.03,556.43 L479.28,556.77 L481.86,557.12 L484.66,557.48 L487.59,557.83 L490.54,558.15 L493.41,558.45 L496.43,558.71 L499.71,558.97 L503.01,559.20 L506.09,559.41 L508.68,559.58 L510.56,559.71" fill="none" stroke="#cc1a2c" stroke-width="1.9440000000000002" stroke-linejoin="round"/>
<path d="M432.20,494.06 L432.48,494.57 L432.81,495.16 L433.23,495.91 L433.77,496.93 L434.47,498.29 L435.38,500.11 L436.54,502.59 L437.96,505.69 L439.54,509.16 L441.19,512.69 L442.81,516.03 L444.33,518.88 L445.74,521.25 L447.12,523.37 L448.47,525.28 L449.82,527.04 L451.16,528.71 L452.52,530.35 L453.89,531.93 L455.25,533.41 L456.62,534.81 L457.99,536.12 L459.35,537.36 L460.71,538.54 L462.07,539.65 L463.42,540.67 L464.78,541.62 L466.13,542.52 L467.48,543.38 L468.84,544.21 L470.20,545.00 L471.57,545.74 L472.93,546.44 L474.30,547.11 L475.67,547.75 L477.03,548.37 L478.40,548.96 L479.76,549.53 L481.13,550.07 L482.49,550.59 L483.86,551.07 L485.22,551.52 L486.48,551.92 L487.62,552.27 L488.76,552.59 L490.02,552.89 L491.53,553.20 L493.41,553.53 L495.95,553.91 L499.10,554.32 L502.50,554.73 L505.78,555.11 L508.59,555.44 L510.56,555.67" fill="none" stroke="#4a4a7a" stroke-width="0.8" stroke-linejoin="round" stroke-dasharray="1.6 1.4"/>
<path d="M432.20,511.07 L433.03,512.98 L434.14,515.63 L435.47,518.76 L436.97,522.15 L438.58,525.54 L440.26,528.71 L442.02,531.78 L443.89,534.96 L445.88,538.16 L447.98,541.26 L450.19,544.15 L452.52,546.73 L454.71,549.00 L456.72,551.06 L458.84,552.91 L461.37,554.56 L464.60,556.03 L468.84,557.31 L474.81,558.38 L482.41,559.22 L490.72,559.86 L498.80,560.36 L505.73,560.76 L510.56,561.09" fill="none" stroke="#4a4a7a" stroke-width="0.8" stroke-linejoin="round" stroke-dasharray="1.6 1.4"/>
<path d="M432.20,499.10 L432.63,500.18 L433.23,501.69 L433.95,503.46 L434.71,505.38 L435.48,507.29 L436.20,509.05 L436.87,510.71 L437.55,512.37 L438.23,514.03 L438.91,515.68 L439.59,517.30 L440.26,518.88 L440.89,520.38 L441.47,521.78 L442.04,523.15 L442.67,524.57 L443.41,526.11 L444.33,527.83 L445.45,529.83 L446.75,532.07 L448.17,534.43 L449.64,536.77 L451.11,538.98 L452.52,540.93 L453.89,542.62 L455.25,544.15 L456.62,545.54 L457.99,546.82 L459.35,548.00 L460.71,549.12 L462.07,550.16 L463.42,551.08 L464.78,551.92 L466.13,552.68 L467.48,553.38 L468.84,554.04 L470.20,554.63 L471.57,555.16 L472.93,555.62 L474.30,556.04 L475.67,556.43 L477.03,556.81 L478.40,557.17 L479.76,557.49 L481.13,557.79 L482.49,558.07 L483.86,558.33 L485.22,558.57 L486.48,558.80 L487.62,559.01 L488.76,559.19 L490.02,559.37 L491.53,559.54 L493.41,559.71 L495.95,559.88 L499.10,560.05 L502.50,560.22 L505.78,560.37 L508.59,560.49 L510.56,560.59" fill="none" stroke="#1a1058" stroke-width="2.052" stroke-linejoin="round"/>
<path d="M432.20,549.75 L433.47,550.29 L435.19,551.04 L437.24,551.93 L439.52,552.86 L441.92,553.76 L444.33,554.54 L446.81,555.22 L449.48,555.88 L452.26,556.50 L455.10,557.08 L457.94,557.60 L460.71,558.07 L463.24,558.46 L465.52,558.78 L467.80,559.04 L470.32,559.28 L473.32,559.49 L477.03,559.71 L482.01,559.92 L488.17,560.13 L494.81,560.31 L501.23,560.48 L506.71,560.61 L510.56,560.71" fill="none" stroke="#000" stroke-width="2.0" stroke-linejoin="round" stroke-dasharray="3.6 4.0"/>
</g>
<rect x="430.6" y="498.59999999999997" width="79.69999999999999" height="65.19999999999999" fill="none" stroke="#2a2a2a" stroke-width="1.3"/>
<line x1="427.70" y1="562.10" x2="430.60" y2="562.10" stroke="#2a2a2a" stroke-width="1.1"/>
<text x="0" y="0" font-size="5.9" text-anchor="end" fill="#2a2a2a" style="color:#2a2a2a;stroke:none" transform="translate(426.50 564.80) scale(1 1.1)" letter-spacing="0.3">0.00</text>
<line x1="427.70" y1="549.50" x2="430.60" y2="549.50" stroke="#2a2a2a" stroke-width="1.1"/>
<text x="0" y="0" font-size="5.9" text-anchor="end" fill="#2a2a2a" style="color:#2a2a2a;stroke:none" transform="translate(426.50 552.20) scale(1 1.1)" letter-spacing="0.3">0.01</text>
<line x1="427.70" y1="536.90" x2="430.60" y2="536.90" stroke="#2a2a2a" stroke-width="1.1"/>
<text x="0" y="0" font-size="5.9" text-anchor="end" fill="#2a2a2a" style="color:#2a2a2a;stroke:none" transform="translate(426.50 539.60) scale(1 1.1)" letter-spacing="0.3">0.02</text>
<line x1="427.70" y1="524.30" x2="430.60" y2="524.30" stroke="#2a2a2a" stroke-width="1.1"/>
<text x="0" y="0" font-size="5.9" text-anchor="end" fill="#2a2a2a" style="color:#2a2a2a;stroke:none" transform="translate(426.50 527.00) scale(1 1.1)" letter-spacing="0.3">0.03</text>
<line x1="427.70" y1="511.70" x2="430.60" y2="511.70" stroke="#2a2a2a" stroke-width="1.1"/>
<text x="0" y="0" font-size="5.9" text-anchor="end" fill="#2a2a2a" style="color:#2a2a2a;stroke:none" transform="translate(426.50 514.40) scale(1 1.1)" letter-spacing="0.3">0.04</text>
<line x1="427.70" y1="499.10" x2="430.60" y2="499.10" stroke="#2a2a2a" stroke-width="1.1"/>
<text x="0" y="0" font-size="5.9" text-anchor="end" fill="#2a2a2a" style="color:#2a2a2a;stroke:none" transform="translate(426.50 501.80) scale(1 1.1)" letter-spacing="0.3">0.05</text>
<line x1="432.20" y1="563.80" x2="432.20" y2="566.70" stroke="#2a2a2a" stroke-width="1.1"/>
<text x="0" y="0" font-size="5.9" text-anchor="middle" fill="#2a2a2a" style="color:#2a2a2a;stroke:none" transform="translate(432.20 574.30) scale(1 1.1)">0</text>
<line x1="444.90" y1="563.80" x2="444.90" y2="566.70" stroke="#2a2a2a" stroke-width="1.1"/>
<text x="0" y="0" font-size="5.9" text-anchor="middle" fill="#2a2a2a" style="color:#2a2a2a;stroke:none" transform="translate(444.90 574.30) scale(1 1.1)">20</text>
<line x1="457.60" y1="563.80" x2="457.60" y2="566.70" stroke="#2a2a2a" stroke-width="1.1"/>
<text x="0" y="0" font-size="5.9" text-anchor="middle" fill="#2a2a2a" style="color:#2a2a2a;stroke:none" transform="translate(457.60 574.30) scale(1 1.1)">40</text>
<line x1="470.30" y1="563.80" x2="470.30" y2="566.70" stroke="#2a2a2a" stroke-width="1.1"/>
<text x="0" y="0" font-size="5.9" text-anchor="middle" fill="#2a2a2a" style="color:#2a2a2a;stroke:none" transform="translate(470.30 574.30) scale(1 1.1)">60</text>
<line x1="483.00" y1="563.80" x2="483.00" y2="566.70" stroke="#2a2a2a" stroke-width="1.1"/>
<text x="0" y="0" font-size="5.9" text-anchor="middle" fill="#2a2a2a" style="color:#2a2a2a;stroke:none" transform="translate(483.00 574.30) scale(1 1.1)">80</text>
<line x1="495.70" y1="563.80" x2="495.70" y2="566.70" stroke="#2a2a2a" stroke-width="1.1"/>
<text x="0" y="0" font-size="5.9" text-anchor="middle" fill="#2a2a2a" style="color:#2a2a2a;stroke:none" transform="translate(495.70 574.30) scale(1 1.1)">100</text>
<line x1="508.40" y1="563.80" x2="508.40" y2="566.70" stroke="#2a2a2a" stroke-width="1.1"/>
<text x="0" y="0" font-size="5.9" text-anchor="middle" fill="#2a2a2a" style="color:#2a2a2a;stroke:none" transform="translate(508.40 574.30) scale(1 1.1)">120</text>
<text x="0" y="0" font-size="6.15" text-anchor="middle" fill="#222" style="color:#222;stroke-width:0.22px" transform="translate(410.20 531.20) rotate(-90) scale(1 1.22)">Monthly AML hazard</text>
<text x="0" y="0" font-size="6.15" text-anchor="middle" fill="#222" style="color:#222;stroke-width:0.22px" transform="translate(469.80 583.90) scale(1 1.22)">Time to AML (months)</text>
<g clip-path="url(#cp44)">
<line x1="472.90" y1="503.40" x2="482.00" y2="503.40" stroke="#4e9e34" stroke-width="1.9"/>
<text x="483.40" y="505.20" font-size="5.0" text-anchor="start" fill="#333" style="color:#333;stroke:none">VERY LOW</text>
<line x1="472.90" y1="508.70" x2="482.00" y2="508.70" stroke="#b4b4b4" stroke-width="1.9"/>
<text x="483.40" y="510.50" font-size="5.0" text-anchor="start" fill="#333" style="color:#333;stroke:none">LOW</text>
<line x1="472.90" y1="514.00" x2="482.00" y2="514.00" stroke="#f2a33a" stroke-width="1.9"/>
<text x="483.40" y="515.80" font-size="5.0" text-anchor="start" fill="#333" style="color:#333;stroke:none">INTER</text>
<line x1="472.90" y1="519.30" x2="482.00" y2="519.30" stroke="#cc1a2c" stroke-width="1.9"/>
<text x="483.40" y="521.10" font-size="5.0" text-anchor="start" fill="#333" style="color:#333;stroke:none">HIGH</text>
<line x1="472.90" y1="524.60" x2="482.00" y2="524.60" stroke="#1a1058" stroke-width="1.9"/>
<text x="483.40" y="526.40" font-size="5.0" text-anchor="start" fill="#333" style="color:#333;stroke:none">VERY HIGH</text>
<line x1="488.20" y1="531.60" x2="492.10" y2="531.60" stroke="#000" stroke-width="1.9"/>
<text x="496.90" y="533.30" font-size="4.8" text-anchor="start" fill="#333" style="color:#333;stroke:none">total</text>
</g>
<rect x="0.5" y="0.5" width="519" height="592" fill="none" stroke="#000" stroke-width="1.2"/>
</svg>
</body></html>
